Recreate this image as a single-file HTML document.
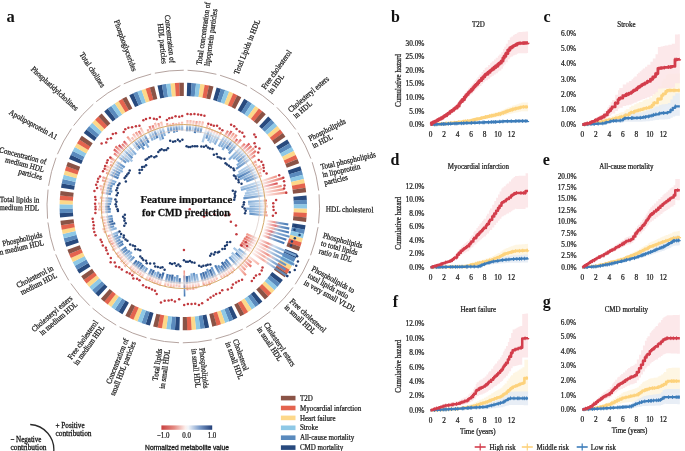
<!DOCTYPE html>
<html><head><meta charset="utf-8"><style>
html,body{margin:0;padding:0;background:#fff;}
svg{display:block;will-change:transform;}
.t{font-family:"Liberation Serif",serif;fill:#1c1c1c;stroke:#1c1c1c;stroke-width:0.25px;}
.b{font-family:"Liberation Serif",serif;fill:#111;}
</style></head><body>
<svg width="685" height="451" viewBox="0 0 685 451">
<defs><linearGradient id="ru0" x1="0" y1="1" x2="0" y2="0"><stop offset="0" stop-color="#f6b0a4" stop-opacity="0.05"/><stop offset="0.35" stop-color="#f6b0a4" stop-opacity="0.4"/><stop offset="1" stop-color="#f6b0a4"/></linearGradient><linearGradient id="rd0" x1="0" y1="0" x2="0" y2="1"><stop offset="0" stop-color="#f6b0a4" stop-opacity="0.05"/><stop offset="0.35" stop-color="#f6b0a4" stop-opacity="0.4"/><stop offset="1" stop-color="#f6b0a4"/></linearGradient><linearGradient id="rm0" x1="0" y1="1" x2="0" y2="0"><stop offset="0" stop-color="#f6b0a4" stop-opacity="0"/><stop offset="0.65" stop-color="#f6b0a4" stop-opacity="0.75"/><stop offset="1" stop-color="#f6b0a4" stop-opacity="0"/></linearGradient><linearGradient id="ru1" x1="0" y1="1" x2="0" y2="0"><stop offset="0" stop-color="#ef8f80" stop-opacity="0.05"/><stop offset="0.35" stop-color="#ef8f80" stop-opacity="0.4"/><stop offset="1" stop-color="#ef8f80"/></linearGradient><linearGradient id="rd1" x1="0" y1="0" x2="0" y2="1"><stop offset="0" stop-color="#ef8f80" stop-opacity="0.05"/><stop offset="0.35" stop-color="#ef8f80" stop-opacity="0.4"/><stop offset="1" stop-color="#ef8f80"/></linearGradient><linearGradient id="rm1" x1="0" y1="1" x2="0" y2="0"><stop offset="0" stop-color="#ef8f80" stop-opacity="0"/><stop offset="0.65" stop-color="#ef8f80" stop-opacity="0.75"/><stop offset="1" stop-color="#ef8f80" stop-opacity="0"/></linearGradient><linearGradient id="ru2" x1="0" y1="1" x2="0" y2="0"><stop offset="0" stop-color="#e56a5f" stop-opacity="0.05"/><stop offset="0.35" stop-color="#e56a5f" stop-opacity="0.4"/><stop offset="1" stop-color="#e56a5f"/></linearGradient><linearGradient id="rd2" x1="0" y1="0" x2="0" y2="1"><stop offset="0" stop-color="#e56a5f" stop-opacity="0.05"/><stop offset="0.35" stop-color="#e56a5f" stop-opacity="0.4"/><stop offset="1" stop-color="#e56a5f"/></linearGradient><linearGradient id="rm2" x1="0" y1="1" x2="0" y2="0"><stop offset="0" stop-color="#e56a5f" stop-opacity="0"/><stop offset="0.65" stop-color="#e56a5f" stop-opacity="0.75"/><stop offset="1" stop-color="#e56a5f" stop-opacity="0"/></linearGradient><linearGradient id="ru3" x1="0" y1="1" x2="0" y2="0"><stop offset="0" stop-color="#d9484b" stop-opacity="0.05"/><stop offset="0.35" stop-color="#d9484b" stop-opacity="0.4"/><stop offset="1" stop-color="#d9484b"/></linearGradient><linearGradient id="rd3" x1="0" y1="0" x2="0" y2="1"><stop offset="0" stop-color="#d9484b" stop-opacity="0.05"/><stop offset="0.35" stop-color="#d9484b" stop-opacity="0.4"/><stop offset="1" stop-color="#d9484b"/></linearGradient><linearGradient id="rm3" x1="0" y1="1" x2="0" y2="0"><stop offset="0" stop-color="#d9484b" stop-opacity="0"/><stop offset="0.65" stop-color="#d9484b" stop-opacity="0.75"/><stop offset="1" stop-color="#d9484b" stop-opacity="0"/></linearGradient><linearGradient id="ru4" x1="0" y1="1" x2="0" y2="0"><stop offset="0" stop-color="#c8313b" stop-opacity="0.05"/><stop offset="0.35" stop-color="#c8313b" stop-opacity="0.4"/><stop offset="1" stop-color="#c8313b"/></linearGradient><linearGradient id="rd4" x1="0" y1="0" x2="0" y2="1"><stop offset="0" stop-color="#c8313b" stop-opacity="0.05"/><stop offset="0.35" stop-color="#c8313b" stop-opacity="0.4"/><stop offset="1" stop-color="#c8313b"/></linearGradient><linearGradient id="rm4" x1="0" y1="1" x2="0" y2="0"><stop offset="0" stop-color="#c8313b" stop-opacity="0"/><stop offset="0.65" stop-color="#c8313b" stop-opacity="0.75"/><stop offset="1" stop-color="#c8313b" stop-opacity="0"/></linearGradient><linearGradient id="bu0" x1="0" y1="1" x2="0" y2="0"><stop offset="0" stop-color="#a3c3e3" stop-opacity="0.2"/><stop offset="0.35" stop-color="#a3c3e3" stop-opacity="0.72"/><stop offset="1" stop-color="#a3c3e3"/></linearGradient><linearGradient id="bd0" x1="0" y1="0" x2="0" y2="1"><stop offset="0" stop-color="#a3c3e3" stop-opacity="0.2"/><stop offset="0.35" stop-color="#a3c3e3" stop-opacity="0.72"/><stop offset="1" stop-color="#a3c3e3"/></linearGradient><linearGradient id="bm0" x1="0" y1="1" x2="0" y2="0"><stop offset="0" stop-color="#a3c3e3" stop-opacity="0"/><stop offset="0.65" stop-color="#a3c3e3" stop-opacity="0.75"/><stop offset="1" stop-color="#a3c3e3" stop-opacity="0"/></linearGradient><linearGradient id="bu1" x1="0" y1="1" x2="0" y2="0"><stop offset="0" stop-color="#7faad6" stop-opacity="0.2"/><stop offset="0.35" stop-color="#7faad6" stop-opacity="0.72"/><stop offset="1" stop-color="#7faad6"/></linearGradient><linearGradient id="bd1" x1="0" y1="0" x2="0" y2="1"><stop offset="0" stop-color="#7faad6" stop-opacity="0.2"/><stop offset="0.35" stop-color="#7faad6" stop-opacity="0.72"/><stop offset="1" stop-color="#7faad6"/></linearGradient><linearGradient id="bm1" x1="0" y1="1" x2="0" y2="0"><stop offset="0" stop-color="#7faad6" stop-opacity="0"/><stop offset="0.65" stop-color="#7faad6" stop-opacity="0.75"/><stop offset="1" stop-color="#7faad6" stop-opacity="0"/></linearGradient><linearGradient id="bu2" x1="0" y1="1" x2="0" y2="0"><stop offset="0" stop-color="#5d8ec4" stop-opacity="0.2"/><stop offset="0.35" stop-color="#5d8ec4" stop-opacity="0.72"/><stop offset="1" stop-color="#5d8ec4"/></linearGradient><linearGradient id="bd2" x1="0" y1="0" x2="0" y2="1"><stop offset="0" stop-color="#5d8ec4" stop-opacity="0.2"/><stop offset="0.35" stop-color="#5d8ec4" stop-opacity="0.72"/><stop offset="1" stop-color="#5d8ec4"/></linearGradient><linearGradient id="bm2" x1="0" y1="1" x2="0" y2="0"><stop offset="0" stop-color="#5d8ec4" stop-opacity="0"/><stop offset="0.65" stop-color="#5d8ec4" stop-opacity="0.75"/><stop offset="1" stop-color="#5d8ec4" stop-opacity="0"/></linearGradient><linearGradient id="bu3" x1="0" y1="1" x2="0" y2="0"><stop offset="0" stop-color="#4276b3" stop-opacity="0.2"/><stop offset="0.35" stop-color="#4276b3" stop-opacity="0.72"/><stop offset="1" stop-color="#4276b3"/></linearGradient><linearGradient id="bd3" x1="0" y1="0" x2="0" y2="1"><stop offset="0" stop-color="#4276b3" stop-opacity="0.2"/><stop offset="0.35" stop-color="#4276b3" stop-opacity="0.72"/><stop offset="1" stop-color="#4276b3"/></linearGradient><linearGradient id="bm3" x1="0" y1="1" x2="0" y2="0"><stop offset="0" stop-color="#4276b3" stop-opacity="0"/><stop offset="0.65" stop-color="#4276b3" stop-opacity="0.75"/><stop offset="1" stop-color="#4276b3" stop-opacity="0"/></linearGradient><linearGradient id="bu4" x1="0" y1="1" x2="0" y2="0"><stop offset="0" stop-color="#2a5c9c" stop-opacity="0.2"/><stop offset="0.35" stop-color="#2a5c9c" stop-opacity="0.72"/><stop offset="1" stop-color="#2a5c9c"/></linearGradient><linearGradient id="bd4" x1="0" y1="0" x2="0" y2="1"><stop offset="0" stop-color="#2a5c9c" stop-opacity="0.2"/><stop offset="0.35" stop-color="#2a5c9c" stop-opacity="0.72"/><stop offset="1" stop-color="#2a5c9c"/></linearGradient><linearGradient id="bm4" x1="0" y1="1" x2="0" y2="0"><stop offset="0" stop-color="#2a5c9c" stop-opacity="0"/><stop offset="0.65" stop-color="#2a5c9c" stop-opacity="0.75"/><stop offset="1" stop-color="#2a5c9c" stop-opacity="0"/></linearGradient><linearGradient id="cbar" x1="0" y1="0" x2="1" y2="0"><stop offset="0" stop-color="#c8403f"/><stop offset="0.25" stop-color="#e48a82"/><stop offset="0.47" stop-color="#fcefec"/><stop offset="0.53" stop-color="#f1f5fa"/><stop offset="0.75" stop-color="#7c9cca"/><stop offset="1" stop-color="#233f78"/></linearGradient></defs>
<rect width="685" height="451" fill="#fff"/>
<text class="b" transform="translate(6.60,21.60)" font-size="16.5" font-weight="bold">a</text>
<path d="M187.58,70.27 A136.3,136.3 0 0 1 216.38,74.28" fill="none" stroke="#ab9994" stroke-width="0.9"/>
<path d="M220.06,75.25 A136.3,136.3 0 0 1 247.06,86.03" fill="none" stroke="#ab9994" stroke-width="0.9"/>
<path d="M250.40,87.86 A136.3,136.3 0 0 1 274.04,104.79" fill="none" stroke="#ab9994" stroke-width="0.9"/>
<path d="M276.84,107.37 A136.3,136.3 0 0 1 295.74,129.46" fill="none" stroke="#ab9994" stroke-width="0.9"/>
<path d="M297.85,132.63 A136.3,136.3 0 0 1 310.91,158.61" fill="none" stroke="#ab9994" stroke-width="0.9"/>
<path d="M312.20,162.19 A136.3,136.3 0 0 1 318.66,190.54" fill="none" stroke="#ab9994" stroke-width="0.9"/>
<path d="M319.06,194.33 A136.3,136.3 0 0 1 318.55,223.40" fill="none" stroke="#ab9994" stroke-width="0.9"/>
<path d="M318.02,227.17 A136.3,136.3 0 0 1 310.57,255.28" fill="none" stroke="#ab9994" stroke-width="0.9"/>
<path d="M309.16,258.81 A136.3,136.3 0 0 1 295.20,284.32" fill="none" stroke="#ab9994" stroke-width="0.9"/>
<path d="M292.99,287.41 A136.3,136.3 0 0 1 273.33,308.84" fill="none" stroke="#ab9994" stroke-width="0.9"/>
<path d="M270.43,311.31 A136.3,136.3 0 0 1 246.22,327.41" fill="none" stroke="#ab9994" stroke-width="0.9"/>
<path d="M242.82,329.12 A136.3,136.3 0 0 1 215.46,338.95" fill="none" stroke="#ab9994" stroke-width="0.9"/>
<path d="M211.75,339.80 A136.3,136.3 0 0 1 182.82,342.80" fill="none" stroke="#ab9994" stroke-width="0.9"/>
<path d="M179.02,342.73 A136.3,136.3 0 0 1 150.22,338.72" fill="none" stroke="#ab9994" stroke-width="0.9"/>
<path d="M146.54,337.75 A136.3,136.3 0 0 1 119.54,326.97" fill="none" stroke="#ab9994" stroke-width="0.9"/>
<path d="M116.20,325.14 A136.3,136.3 0 0 1 92.56,308.21" fill="none" stroke="#ab9994" stroke-width="0.9"/>
<path d="M89.76,305.63 A136.3,136.3 0 0 1 70.86,283.54" fill="none" stroke="#ab9994" stroke-width="0.9"/>
<path d="M68.75,280.37 A136.3,136.3 0 0 1 55.69,254.39" fill="none" stroke="#ab9994" stroke-width="0.9"/>
<path d="M54.40,250.81 A136.3,136.3 0 0 1 47.94,222.46" fill="none" stroke="#ab9994" stroke-width="0.9"/>
<path d="M47.54,218.67 A136.3,136.3 0 0 1 48.05,189.60" fill="none" stroke="#ab9994" stroke-width="0.9"/>
<path d="M48.58,185.83 A136.3,136.3 0 0 1 56.03,157.72" fill="none" stroke="#ab9994" stroke-width="0.9"/>
<path d="M57.44,154.19 A136.3,136.3 0 0 1 71.40,128.68" fill="none" stroke="#ab9994" stroke-width="0.9"/>
<path d="M73.61,125.59 A136.3,136.3 0 0 1 93.27,104.16" fill="none" stroke="#ab9994" stroke-width="0.9"/>
<path d="M96.17,101.69 A136.3,136.3 0 0 1 120.38,85.59" fill="none" stroke="#ab9994" stroke-width="0.9"/>
<path d="M123.78,83.88 A136.3,136.3 0 0 1 151.14,74.05" fill="none" stroke="#ab9994" stroke-width="0.9"/>
<path d="M154.85,73.20 A136.3,136.3 0 0 1 183.78,70.20" fill="none" stroke="#ab9994" stroke-width="0.9"/>
<path d="M187.19,82.86 A123.7,123.7 0 0 1 191.72,83.09 L190.82,96.26 A110.5,110.5 0 0 0 186.77,96.05 Z" fill="#284a7e"/>
<path d="M191.59,83.08 A123.7,123.7 0 0 1 196.11,83.46 L194.74,96.59 A110.5,110.5 0 0 0 190.70,96.25 Z" fill="#5a8abd"/>
<path d="M195.98,83.45 A123.7,123.7 0 0 1 200.48,84.00 L198.65,97.07 A110.5,110.5 0 0 0 194.62,96.58 Z" fill="#8ec8e6"/>
<path d="M200.35,83.98 A123.7,123.7 0 0 1 204.83,84.69 L202.53,97.69 A110.5,110.5 0 0 0 198.53,97.05 Z" fill="#fdd88a"/>
<path d="M204.70,84.67 A123.7,123.7 0 0 1 209.16,85.53 L206.40,98.44 A110.5,110.5 0 0 0 202.42,97.67 Z" fill="#e4634e"/>
<path d="M209.03,85.51 A123.7,123.7 0 0 1 213.45,86.53 L210.23,99.33 A110.5,110.5 0 0 0 206.28,98.42 Z" fill="#8a5346"/>
<path d="M216.66,87.38 A123.7,123.7 0 0 1 221.01,88.69 L216.98,101.26 A110.5,110.5 0 0 0 213.10,100.09 Z" fill="#284a7e"/>
<path d="M220.88,88.65 A123.7,123.7 0 0 1 225.18,90.10 L220.71,102.52 A110.5,110.5 0 0 0 216.87,101.22 Z" fill="#5a8abd"/>
<path d="M225.06,90.06 A123.7,123.7 0 0 1 229.30,91.67 L224.39,103.92 A110.5,110.5 0 0 0 220.60,102.49 Z" fill="#8ec8e6"/>
<path d="M229.18,91.62 A123.7,123.7 0 0 1 233.36,93.38 L228.02,105.45 A110.5,110.5 0 0 0 224.28,103.88 Z" fill="#fdd88a"/>
<path d="M233.24,93.33 A123.7,123.7 0 0 1 237.35,95.24 L231.59,107.11 A110.5,110.5 0 0 0 227.91,105.40 Z" fill="#e4634e"/>
<path d="M237.24,95.18 A123.7,123.7 0 0 1 241.28,97.23 L235.10,108.89 A110.5,110.5 0 0 0 231.48,107.06 Z" fill="#8a5346"/>
<path d="M244.20,98.83 A123.7,123.7 0 0 1 248.10,101.13 L241.19,112.38 A110.5,110.5 0 0 0 237.70,110.32 Z" fill="#284a7e"/>
<path d="M247.99,101.07 A123.7,123.7 0 0 1 251.82,103.51 L244.50,114.50 A110.5,110.5 0 0 0 241.09,112.32 Z" fill="#5a8abd"/>
<path d="M251.71,103.44 A123.7,123.7 0 0 1 255.44,106.01 L247.74,116.74 A110.5,110.5 0 0 0 244.41,114.43 Z" fill="#8ec8e6"/>
<path d="M255.34,105.94 A123.7,123.7 0 0 1 258.97,108.65 L250.90,119.09 A110.5,110.5 0 0 0 247.65,116.67 Z" fill="#fdd88a"/>
<path d="M258.87,108.57 A123.7,123.7 0 0 1 262.41,111.40 L253.97,121.55 A110.5,110.5 0 0 0 250.81,119.02 Z" fill="#e4634e"/>
<path d="M262.31,111.32 A123.7,123.7 0 0 1 265.75,114.28 L256.95,124.12 A110.5,110.5 0 0 0 253.88,121.48 Z" fill="#8a5346"/>
<path d="M268.20,116.53 A123.7,123.7 0 0 1 271.44,119.70 L262.03,128.97 A110.5,110.5 0 0 0 259.14,126.13 Z" fill="#284a7e"/>
<path d="M271.35,119.61 A123.7,123.7 0 0 1 274.47,122.90 L264.74,131.82 A110.5,110.5 0 0 0 261.95,128.88 Z" fill="#5a8abd"/>
<path d="M274.39,122.80 A123.7,123.7 0 0 1 277.39,126.20 L267.35,134.77 A110.5,110.5 0 0 0 264.67,131.73 Z" fill="#8ec8e6"/>
<path d="M277.31,126.10 A123.7,123.7 0 0 1 280.19,129.60 L269.85,137.81 A110.5,110.5 0 0 0 267.28,134.68 Z" fill="#fdd88a"/>
<path d="M280.11,129.50 A123.7,123.7 0 0 1 282.87,133.10 L272.24,140.93 A110.5,110.5 0 0 0 269.78,137.72 Z" fill="#e4634e"/>
<path d="M282.79,133.00 A123.7,123.7 0 0 1 285.42,136.69 L274.52,144.14 A110.5,110.5 0 0 0 272.18,140.84 Z" fill="#8a5346"/>
<path d="M287.26,139.46 A123.7,123.7 0 0 1 289.65,143.32 L278.30,150.06 A110.5,110.5 0 0 0 276.17,146.62 Z" fill="#284a7e"/>
<path d="M289.58,143.21 A123.7,123.7 0 0 1 291.83,147.15 L280.25,153.48 A110.5,110.5 0 0 0 278.24,149.96 Z" fill="#5a8abd"/>
<path d="M291.77,147.03 A123.7,123.7 0 0 1 293.88,151.05 L282.08,156.97 A110.5,110.5 0 0 0 280.19,153.38 Z" fill="#8ec8e6"/>
<path d="M293.82,150.93 A123.7,123.7 0 0 1 295.78,155.02 L283.78,160.52 A110.5,110.5 0 0 0 282.02,156.86 Z" fill="#fdd88a"/>
<path d="M295.73,154.91 A123.7,123.7 0 0 1 297.54,159.06 L285.35,164.12 A110.5,110.5 0 0 0 283.73,160.41 Z" fill="#e4634e"/>
<path d="M297.49,158.94 A123.7,123.7 0 0 1 299.16,163.16 L286.80,167.79 A110.5,110.5 0 0 0 285.31,164.02 Z" fill="#8a5346"/>
<path d="M300.28,166.29 A123.7,123.7 0 0 1 301.68,170.61 L289.05,174.44 A110.5,110.5 0 0 0 287.80,170.58 Z" fill="#284a7e"/>
<path d="M301.64,170.48 A123.7,123.7 0 0 1 302.88,174.84 L290.12,178.22 A110.5,110.5 0 0 0 289.01,174.33 Z" fill="#5a8abd"/>
<path d="M302.85,174.72 A123.7,123.7 0 0 1 303.93,179.12 L291.06,182.04 A110.5,110.5 0 0 0 290.09,178.11 Z" fill="#8ec8e6"/>
<path d="M303.90,179.00 A123.7,123.7 0 0 1 304.83,183.44 L291.86,185.90 A110.5,110.5 0 0 0 291.03,181.93 Z" fill="#fdd88a"/>
<path d="M304.81,183.31 A123.7,123.7 0 0 1 305.58,187.78 L292.53,189.78 A110.5,110.5 0 0 0 291.84,185.78 Z" fill="#e4634e"/>
<path d="M305.56,187.65 A123.7,123.7 0 0 1 306.16,192.15 L293.05,193.68 A110.5,110.5 0 0 0 292.51,189.66 Z" fill="#8a5346"/>
<path d="M306.51,195.45 A123.7,123.7 0 0 1 306.83,199.98 L293.65,200.67 A110.5,110.5 0 0 0 293.36,196.63 Z" fill="#284a7e"/>
<path d="M306.82,199.85 A123.7,123.7 0 0 1 306.98,204.38 L293.78,204.61 A110.5,110.5 0 0 0 293.64,200.56 Z" fill="#5a8abd"/>
<path d="M306.98,204.25 A123.7,123.7 0 0 1 306.98,208.79 L293.78,208.54 A110.5,110.5 0 0 0 293.78,204.49 Z" fill="#8ec8e6"/>
<path d="M306.98,208.66 A123.7,123.7 0 0 1 306.82,213.19 L293.64,212.48 A110.5,110.5 0 0 0 293.78,208.43 Z" fill="#fdd88a"/>
<path d="M306.83,213.06 A123.7,123.7 0 0 1 306.50,217.59 L293.36,216.40 A110.5,110.5 0 0 0 293.64,212.36 Z" fill="#e4634e"/>
<path d="M306.51,217.46 A123.7,123.7 0 0 1 306.03,221.97 L292.93,220.32 A110.5,110.5 0 0 0 293.37,216.29 Z" fill="#8a5346"/>
<path d="M305.57,225.26 A123.7,123.7 0 0 1 304.80,229.73 L291.83,227.25 A110.5,110.5 0 0 0 292.52,223.26 Z" fill="#284a7e"/>
<path d="M304.82,229.60 A123.7,123.7 0 0 1 303.89,234.04 L291.03,231.10 A110.5,110.5 0 0 0 291.86,227.14 Z" fill="#5a8abd"/>
<path d="M303.92,233.92 A123.7,123.7 0 0 1 302.84,238.32 L290.08,234.92 A110.5,110.5 0 0 0 291.05,230.99 Z" fill="#8ec8e6"/>
<path d="M302.87,238.19 A123.7,123.7 0 0 1 301.63,242.56 L289.00,238.71 A110.5,110.5 0 0 0 290.11,234.81 Z" fill="#fdd88a"/>
<path d="M301.67,242.43 A123.7,123.7 0 0 1 300.27,246.75 L287.79,242.45 A110.5,110.5 0 0 0 289.04,238.60 Z" fill="#e4634e"/>
<path d="M300.31,246.63 A123.7,123.7 0 0 1 298.76,250.89 L286.44,246.15 A110.5,110.5 0 0 0 287.82,242.34 Z" fill="#8a5346"/>
<path d="M297.53,253.98 A123.7,123.7 0 0 1 295.71,258.13 L283.71,252.62 A110.5,110.5 0 0 0 285.34,248.91 Z" fill="#284a7e"/>
<path d="M295.76,258.01 A123.7,123.7 0 0 1 293.80,262.10 L282.01,256.17 A110.5,110.5 0 0 0 283.76,252.52 Z" fill="#5a8abd"/>
<path d="M293.86,261.99 A123.7,123.7 0 0 1 291.75,266.00 L280.18,259.65 A110.5,110.5 0 0 0 282.06,256.07 Z" fill="#8ec8e6"/>
<path d="M291.81,265.89 A123.7,123.7 0 0 1 289.56,269.83 L278.22,263.07 A110.5,110.5 0 0 0 280.23,259.55 Z" fill="#fdd88a"/>
<path d="M289.63,269.72 A123.7,123.7 0 0 1 287.24,273.57 L276.15,266.41 A110.5,110.5 0 0 0 278.28,262.97 Z" fill="#e4634e"/>
<path d="M287.31,273.46 A123.7,123.7 0 0 1 284.78,277.23 L273.95,269.68 A110.5,110.5 0 0 0 276.21,266.32 Z" fill="#8a5346"/>
<path d="M282.85,279.93 A123.7,123.7 0 0 1 280.09,283.53 L269.76,275.31 A110.5,110.5 0 0 0 272.22,272.10 Z" fill="#284a7e"/>
<path d="M280.17,283.43 A123.7,123.7 0 0 1 277.28,286.93 L267.25,278.35 A110.5,110.5 0 0 0 269.83,275.22 Z" fill="#5a8abd"/>
<path d="M277.37,286.83 A123.7,123.7 0 0 1 274.36,290.23 L264.64,281.29 A110.5,110.5 0 0 0 267.33,278.26 Z" fill="#8ec8e6"/>
<path d="M274.45,290.13 A123.7,123.7 0 0 1 271.32,293.42 L261.93,284.14 A110.5,110.5 0 0 0 264.72,281.21 Z" fill="#fdd88a"/>
<path d="M271.41,293.32 A123.7,123.7 0 0 1 268.17,296.50 L259.11,286.89 A110.5,110.5 0 0 0 262.01,284.06 Z" fill="#e4634e"/>
<path d="M268.26,296.41 A123.7,123.7 0 0 1 264.91,299.46 L256.20,289.54 A110.5,110.5 0 0 0 259.19,286.81 Z" fill="#8a5346"/>
<path d="M262.38,301.62 A123.7,123.7 0 0 1 258.84,304.46 L250.78,294.00 A110.5,110.5 0 0 0 253.94,291.47 Z" fill="#284a7e"/>
<path d="M258.94,304.38 A123.7,123.7 0 0 1 255.30,307.09 L247.62,296.35 A110.5,110.5 0 0 0 250.87,293.93 Z" fill="#5a8abd"/>
<path d="M255.41,307.01 A123.7,123.7 0 0 1 251.67,309.59 L244.38,298.59 A110.5,110.5 0 0 0 247.71,296.28 Z" fill="#8ec8e6"/>
<path d="M251.78,309.51 A123.7,123.7 0 0 1 247.96,311.96 L241.06,300.70 A110.5,110.5 0 0 0 244.47,298.52 Z" fill="#fdd88a"/>
<path d="M248.07,311.89 A123.7,123.7 0 0 1 244.16,314.19 L237.67,302.70 A110.5,110.5 0 0 0 241.16,300.64 Z" fill="#e4634e"/>
<path d="M244.28,314.13 A123.7,123.7 0 0 1 240.29,316.29 L234.21,304.57 A110.5,110.5 0 0 0 237.77,302.64 Z" fill="#8a5346"/>
<path d="M237.32,317.78 A123.7,123.7 0 0 1 233.20,319.69 L227.88,307.61 A110.5,110.5 0 0 0 231.55,305.91 Z" fill="#284a7e"/>
<path d="M233.32,319.64 A123.7,123.7 0 0 1 229.14,321.39 L224.25,309.13 A110.5,110.5 0 0 0 227.98,307.56 Z" fill="#5a8abd"/>
<path d="M229.26,321.35 A123.7,123.7 0 0 1 225.02,322.95 L220.57,310.53 A110.5,110.5 0 0 0 224.35,309.09 Z" fill="#8ec8e6"/>
<path d="M225.14,322.91 A123.7,123.7 0 0 1 220.84,324.37 L216.84,311.79 A110.5,110.5 0 0 0 220.67,310.49 Z" fill="#fdd88a"/>
<path d="M220.97,324.33 A123.7,123.7 0 0 1 216.62,325.63 L213.07,312.92 A110.5,110.5 0 0 0 216.95,311.75 Z" fill="#e4634e"/>
<path d="M216.75,325.59 A123.7,123.7 0 0 1 212.36,326.74 L209.26,313.91 A110.5,110.5 0 0 0 213.18,312.88 Z" fill="#8a5346"/>
<path d="M209.12,327.48 A123.7,123.7 0 0 1 204.66,328.34 L202.38,315.34 A110.5,110.5 0 0 0 206.36,314.57 Z" fill="#284a7e"/>
<path d="M204.79,328.32 A123.7,123.7 0 0 1 200.31,329.02 L198.50,315.95 A110.5,110.5 0 0 0 202.50,315.32 Z" fill="#5a8abd"/>
<path d="M200.44,329.01 A123.7,123.7 0 0 1 195.94,329.55 L194.59,316.42 A110.5,110.5 0 0 0 198.61,315.93 Z" fill="#8ec8e6"/>
<path d="M196.06,329.54 A123.7,123.7 0 0 1 191.55,329.92 L190.67,316.75 A110.5,110.5 0 0 0 194.70,316.41 Z" fill="#fdd88a"/>
<path d="M191.67,329.92 A123.7,123.7 0 0 1 187.14,330.14 L186.73,316.95 A110.5,110.5 0 0 0 190.78,316.75 Z" fill="#e4634e"/>
<path d="M187.27,330.14 A123.7,123.7 0 0 1 182.74,330.20 L182.80,317.00 A110.5,110.5 0 0 0 186.85,316.94 Z" fill="#8a5346"/>
<path d="M179.41,330.14 A123.7,123.7 0 0 1 174.88,329.91 L175.78,316.74 A110.5,110.5 0 0 0 179.83,316.95 Z" fill="#284a7e"/>
<path d="M175.01,329.92 A123.7,123.7 0 0 1 170.49,329.54 L171.86,316.41 A110.5,110.5 0 0 0 175.90,316.75 Z" fill="#5a8abd"/>
<path d="M170.62,329.55 A123.7,123.7 0 0 1 166.12,329.00 L167.95,315.93 A110.5,110.5 0 0 0 171.98,316.42 Z" fill="#8ec8e6"/>
<path d="M166.25,329.02 A123.7,123.7 0 0 1 161.77,328.31 L164.07,315.31 A110.5,110.5 0 0 0 168.07,315.95 Z" fill="#fdd88a"/>
<path d="M161.90,328.33 A123.7,123.7 0 0 1 157.44,327.47 L160.20,314.56 A110.5,110.5 0 0 0 164.18,315.33 Z" fill="#e4634e"/>
<path d="M157.57,327.49 A123.7,123.7 0 0 1 153.15,326.47 L156.37,313.67 A110.5,110.5 0 0 0 160.32,314.58 Z" fill="#8a5346"/>
<path d="M149.94,325.62 A123.7,123.7 0 0 1 145.59,324.31 L149.62,311.74 A110.5,110.5 0 0 0 153.50,312.91 Z" fill="#284a7e"/>
<path d="M145.72,324.35 A123.7,123.7 0 0 1 141.42,322.90 L145.89,310.48 A110.5,110.5 0 0 0 149.73,311.78 Z" fill="#5a8abd"/>
<path d="M141.54,322.94 A123.7,123.7 0 0 1 137.30,321.33 L142.21,309.08 A110.5,110.5 0 0 0 146.00,310.51 Z" fill="#8ec8e6"/>
<path d="M137.42,321.38 A123.7,123.7 0 0 1 133.24,319.62 L138.58,307.55 A110.5,110.5 0 0 0 142.32,309.12 Z" fill="#fdd88a"/>
<path d="M133.36,319.67 A123.7,123.7 0 0 1 129.25,317.76 L135.01,305.89 A110.5,110.5 0 0 0 138.69,307.60 Z" fill="#e4634e"/>
<path d="M129.36,317.82 A123.7,123.7 0 0 1 125.32,315.77 L131.50,304.11 A110.5,110.5 0 0 0 135.12,305.94 Z" fill="#8a5346"/>
<path d="M122.40,314.17 A123.7,123.7 0 0 1 118.50,311.87 L125.41,300.62 A110.5,110.5 0 0 0 128.90,302.68 Z" fill="#284a7e"/>
<path d="M118.61,311.93 A123.7,123.7 0 0 1 114.78,309.49 L122.10,298.50 A110.5,110.5 0 0 0 125.51,300.68 Z" fill="#5a8abd"/>
<path d="M114.89,309.56 A123.7,123.7 0 0 1 111.16,306.99 L118.86,296.26 A110.5,110.5 0 0 0 122.19,298.57 Z" fill="#8ec8e6"/>
<path d="M111.26,307.06 A123.7,123.7 0 0 1 107.63,304.35 L115.70,293.91 A110.5,110.5 0 0 0 118.95,296.33 Z" fill="#fdd88a"/>
<path d="M107.73,304.43 A123.7,123.7 0 0 1 104.19,301.60 L112.63,291.45 A110.5,110.5 0 0 0 115.79,293.98 Z" fill="#e4634e"/>
<path d="M104.29,301.68 A123.7,123.7 0 0 1 100.85,298.72 L109.65,288.88 A110.5,110.5 0 0 0 112.72,291.52 Z" fill="#8a5346"/>
<path d="M98.40,296.47 A123.7,123.7 0 0 1 95.16,293.30 L104.57,284.03 A110.5,110.5 0 0 0 107.46,286.87 Z" fill="#284a7e"/>
<path d="M95.25,293.39 A123.7,123.7 0 0 1 92.13,290.10 L101.86,281.18 A110.5,110.5 0 0 0 104.65,284.12 Z" fill="#5a8abd"/>
<path d="M92.21,290.20 A123.7,123.7 0 0 1 89.21,286.80 L99.25,278.23 A110.5,110.5 0 0 0 101.93,281.27 Z" fill="#8ec8e6"/>
<path d="M89.29,286.90 A123.7,123.7 0 0 1 86.41,283.40 L96.75,275.19 A110.5,110.5 0 0 0 99.32,278.32 Z" fill="#fdd88a"/>
<path d="M86.49,283.50 A123.7,123.7 0 0 1 83.73,279.90 L94.36,272.07 A110.5,110.5 0 0 0 96.82,275.28 Z" fill="#e4634e"/>
<path d="M83.81,280.00 A123.7,123.7 0 0 1 81.18,276.31 L92.08,268.86 A110.5,110.5 0 0 0 94.42,272.16 Z" fill="#8a5346"/>
<path d="M79.34,273.54 A123.7,123.7 0 0 1 76.95,269.68 L88.30,262.94 A110.5,110.5 0 0 0 90.43,266.38 Z" fill="#284a7e"/>
<path d="M77.02,269.79 A123.7,123.7 0 0 1 74.77,265.85 L86.35,259.52 A110.5,110.5 0 0 0 88.36,263.04 Z" fill="#5a8abd"/>
<path d="M74.83,265.97 A123.7,123.7 0 0 1 72.72,261.95 L84.52,256.03 A110.5,110.5 0 0 0 86.41,259.62 Z" fill="#8ec8e6"/>
<path d="M72.78,262.07 A123.7,123.7 0 0 1 70.82,257.98 L82.82,252.48 A110.5,110.5 0 0 0 84.58,256.14 Z" fill="#fdd88a"/>
<path d="M70.87,258.09 A123.7,123.7 0 0 1 69.06,253.94 L81.25,248.88 A110.5,110.5 0 0 0 82.87,252.59 Z" fill="#e4634e"/>
<path d="M69.11,254.06 A123.7,123.7 0 0 1 67.44,249.84 L79.80,245.21 A110.5,110.5 0 0 0 81.29,248.98 Z" fill="#8a5346"/>
<path d="M66.32,246.71 A123.7,123.7 0 0 1 64.92,242.39 L77.55,238.56 A110.5,110.5 0 0 0 78.80,242.42 Z" fill="#284a7e"/>
<path d="M64.96,242.52 A123.7,123.7 0 0 1 63.72,238.16 L76.48,234.78 A110.5,110.5 0 0 0 77.59,238.67 Z" fill="#5a8abd"/>
<path d="M63.75,238.28 A123.7,123.7 0 0 1 62.67,233.88 L75.54,230.96 A110.5,110.5 0 0 0 76.51,234.89 Z" fill="#8ec8e6"/>
<path d="M62.70,234.00 A123.7,123.7 0 0 1 61.77,229.56 L74.74,227.10 A110.5,110.5 0 0 0 75.57,231.07 Z" fill="#fdd88a"/>
<path d="M61.79,229.69 A123.7,123.7 0 0 1 61.02,225.22 L74.07,223.22 A110.5,110.5 0 0 0 74.76,227.22 Z" fill="#e4634e"/>
<path d="M61.04,225.35 A123.7,123.7 0 0 1 60.44,220.85 L73.55,219.32 A110.5,110.5 0 0 0 74.09,223.34 Z" fill="#8a5346"/>
<path d="M60.09,217.55 A123.7,123.7 0 0 1 59.77,213.02 L72.95,212.33 A110.5,110.5 0 0 0 73.24,216.37 Z" fill="#284a7e"/>
<path d="M59.78,213.15 A123.7,123.7 0 0 1 59.62,208.62 L72.82,208.39 A110.5,110.5 0 0 0 72.96,212.44 Z" fill="#5a8abd"/>
<path d="M59.62,208.75 A123.7,123.7 0 0 1 59.62,204.21 L72.82,204.46 A110.5,110.5 0 0 0 72.82,208.51 Z" fill="#8ec8e6"/>
<path d="M59.62,204.34 A123.7,123.7 0 0 1 59.78,199.81 L72.96,200.52 A110.5,110.5 0 0 0 72.82,204.57 Z" fill="#fdd88a"/>
<path d="M59.77,199.94 A123.7,123.7 0 0 1 60.10,195.41 L73.24,196.60 A110.5,110.5 0 0 0 72.96,200.64 Z" fill="#e4634e"/>
<path d="M60.09,195.54 A123.7,123.7 0 0 1 60.57,191.03 L73.67,192.68 A110.5,110.5 0 0 0 73.23,196.71 Z" fill="#8a5346"/>
<path d="M61.03,187.74 A123.7,123.7 0 0 1 61.80,183.27 L74.77,185.75 A110.5,110.5 0 0 0 74.08,189.74 Z" fill="#284a7e"/>
<path d="M61.78,183.40 A123.7,123.7 0 0 1 62.71,178.96 L75.57,181.90 A110.5,110.5 0 0 0 74.74,185.86 Z" fill="#5a8abd"/>
<path d="M62.68,179.08 A123.7,123.7 0 0 1 63.76,174.68 L76.52,178.08 A110.5,110.5 0 0 0 75.55,182.01 Z" fill="#8ec8e6"/>
<path d="M63.73,174.81 A123.7,123.7 0 0 1 64.97,170.44 L77.60,174.29 A110.5,110.5 0 0 0 76.49,178.19 Z" fill="#fdd88a"/>
<path d="M64.93,170.57 A123.7,123.7 0 0 1 66.33,166.25 L78.81,170.55 A110.5,110.5 0 0 0 77.56,174.40 Z" fill="#e4634e"/>
<path d="M66.29,166.37 A123.7,123.7 0 0 1 67.84,162.11 L80.16,166.85 A110.5,110.5 0 0 0 78.78,170.66 Z" fill="#8a5346"/>
<path d="M69.07,159.02 A123.7,123.7 0 0 1 70.89,154.87 L82.89,160.38 A110.5,110.5 0 0 0 81.26,164.09 Z" fill="#284a7e"/>
<path d="M70.84,154.99 A123.7,123.7 0 0 1 72.80,150.90 L84.59,156.83 A110.5,110.5 0 0 0 82.84,160.48 Z" fill="#5a8abd"/>
<path d="M72.74,151.01 A123.7,123.7 0 0 1 74.85,147.00 L86.42,153.35 A110.5,110.5 0 0 0 84.54,156.93 Z" fill="#8ec8e6"/>
<path d="M74.79,147.11 A123.7,123.7 0 0 1 77.04,143.17 L88.38,149.93 A110.5,110.5 0 0 0 86.37,153.45 Z" fill="#fdd88a"/>
<path d="M76.97,143.28 A123.7,123.7 0 0 1 79.36,139.43 L90.45,146.59 A110.5,110.5 0 0 0 88.32,150.03 Z" fill="#e4634e"/>
<path d="M79.29,139.54 A123.7,123.7 0 0 1 81.82,135.77 L92.65,143.32 A110.5,110.5 0 0 0 90.39,146.68 Z" fill="#8a5346"/>
<path d="M83.75,133.07 A123.7,123.7 0 0 1 86.51,129.47 L96.84,137.69 A110.5,110.5 0 0 0 94.38,140.90 Z" fill="#284a7e"/>
<path d="M86.43,129.57 A123.7,123.7 0 0 1 89.32,126.07 L99.35,134.65 A110.5,110.5 0 0 0 96.77,137.78 Z" fill="#5a8abd"/>
<path d="M89.23,126.17 A123.7,123.7 0 0 1 92.24,122.77 L101.96,131.71 A110.5,110.5 0 0 0 99.27,134.74 Z" fill="#8ec8e6"/>
<path d="M92.15,122.87 A123.7,123.7 0 0 1 95.28,119.58 L104.67,128.86 A110.5,110.5 0 0 0 101.88,131.79 Z" fill="#fdd88a"/>
<path d="M95.19,119.68 A123.7,123.7 0 0 1 98.43,116.50 L107.49,126.11 A110.5,110.5 0 0 0 104.59,128.94 Z" fill="#e4634e"/>
<path d="M98.34,116.59 A123.7,123.7 0 0 1 101.69,113.54 L110.40,123.46 A110.5,110.5 0 0 0 107.41,126.19 Z" fill="#8a5346"/>
<path d="M104.22,111.38 A123.7,123.7 0 0 1 107.76,108.54 L115.82,119.00 A110.5,110.5 0 0 0 112.66,121.53 Z" fill="#284a7e"/>
<path d="M107.66,108.62 A123.7,123.7 0 0 1 111.30,105.91 L118.98,116.65 A110.5,110.5 0 0 0 115.73,119.07 Z" fill="#5a8abd"/>
<path d="M111.19,105.99 A123.7,123.7 0 0 1 114.93,103.41 L122.22,114.41 A110.5,110.5 0 0 0 118.89,116.72 Z" fill="#8ec8e6"/>
<path d="M114.82,103.49 A123.7,123.7 0 0 1 118.64,101.04 L125.54,112.30 A110.5,110.5 0 0 0 122.13,114.48 Z" fill="#fdd88a"/>
<path d="M118.53,101.11 A123.7,123.7 0 0 1 122.44,98.81 L128.93,110.30 A110.5,110.5 0 0 0 125.44,112.36 Z" fill="#e4634e"/>
<path d="M122.32,98.87 A123.7,123.7 0 0 1 126.31,96.71 L132.39,108.43 A110.5,110.5 0 0 0 128.83,110.36 Z" fill="#8a5346"/>
<path d="M129.28,95.22 A123.7,123.7 0 0 1 133.40,93.31 L138.72,105.39 A110.5,110.5 0 0 0 135.05,107.09 Z" fill="#284a7e"/>
<path d="M133.28,93.36 A123.7,123.7 0 0 1 137.46,91.61 L142.35,103.87 A110.5,110.5 0 0 0 138.62,105.44 Z" fill="#5a8abd"/>
<path d="M137.34,91.65 A123.7,123.7 0 0 1 141.58,90.05 L146.03,102.47 A110.5,110.5 0 0 0 142.25,103.91 Z" fill="#8ec8e6"/>
<path d="M141.46,90.09 A123.7,123.7 0 0 1 145.76,88.63 L149.76,101.21 A110.5,110.5 0 0 0 145.93,102.51 Z" fill="#fdd88a"/>
<path d="M145.63,88.67 A123.7,123.7 0 0 1 149.98,87.37 L153.53,100.08 A110.5,110.5 0 0 0 149.65,101.25 Z" fill="#e4634e"/>
<path d="M149.85,87.41 A123.7,123.7 0 0 1 154.24,86.26 L157.34,99.09 A110.5,110.5 0 0 0 153.42,100.12 Z" fill="#8a5346"/>
<path d="M157.48,85.52 A123.7,123.7 0 0 1 161.94,84.66 L164.22,97.66 A110.5,110.5 0 0 0 160.24,98.43 Z" fill="#284a7e"/>
<path d="M161.81,84.68 A123.7,123.7 0 0 1 166.29,83.98 L168.10,97.05 A110.5,110.5 0 0 0 164.10,97.68 Z" fill="#5a8abd"/>
<path d="M166.16,83.99 A123.7,123.7 0 0 1 170.66,83.45 L172.01,96.58 A110.5,110.5 0 0 0 167.99,97.07 Z" fill="#8ec8e6"/>
<path d="M170.54,83.46 A123.7,123.7 0 0 1 175.05,83.08 L175.93,96.25 A110.5,110.5 0 0 0 171.90,96.59 Z" fill="#fdd88a"/>
<path d="M174.93,83.08 A123.7,123.7 0 0 1 179.46,82.86 L179.87,96.05 A110.5,110.5 0 0 0 175.82,96.25 Z" fill="#e4634e"/>
<path d="M179.33,82.86 A123.7,123.7 0 0 1 183.86,82.80 L183.80,96.00 A110.5,110.5 0 0 0 179.75,96.06 Z" fill="#8a5346"/>
<g transform="translate(183.3,206.5)"><rect x="-1.10" y="-86.5" width="2.2" height="6.0" fill="url(#ru0)" transform="rotate(2.82)"/><rect x="-1.10" y="-81.5" width="2.2" height="6.1" fill="url(#bd2)" transform="rotate(2.82)"/><rect x="-1.10" y="-86.7" width="2.2" height="6.2" fill="url(#ru0)" transform="rotate(4.86)"/><rect x="-1.10" y="-81.5" width="2.2" height="6.0" fill="url(#bd2)" transform="rotate(4.86)"/><rect x="-1.10" y="-86.6" width="2.2" height="6.1" fill="url(#ru0)" transform="rotate(6.90)"/><rect x="-1.10" y="-81.5" width="2.2" height="5.9" fill="url(#bd0)" transform="rotate(6.90)"/><rect x="-1.10" y="-86.5" width="2.2" height="6.0" fill="url(#ru1)" transform="rotate(8.94)"/><rect x="-1.10" y="-81.5" width="2.2" height="7.2" fill="url(#bd3)" transform="rotate(8.94)"/><rect x="-1.10" y="-87.1" width="2.2" height="6.6" fill="url(#ru0)" transform="rotate(10.98)"/><rect x="-1.10" y="-81.5" width="2.2" height="6.0" fill="url(#bd2)" transform="rotate(10.98)"/><rect x="-1.10" y="-87.2" width="2.2" height="6.7" fill="url(#ru0)" transform="rotate(13.03)"/><rect x="-1.10" y="-81.5" width="2.2" height="5.9" fill="url(#bd2)" transform="rotate(13.03)"/><rect x="-1.10" y="-84.8" width="2.2" height="6.3" fill="url(#ru0)" transform="rotate(16.67)"/><rect x="-1.10" y="-79.5" width="2.2" height="12.4" fill="url(#bd0)" transform="rotate(16.67)"/><rect x="-1.10" y="-83.6" width="2.2" height="5.1" fill="url(#ru0)" transform="rotate(18.71)"/><rect x="-1.10" y="-79.5" width="2.2" height="7.8" fill="url(#bd2)" transform="rotate(18.71)"/><rect x="-1.10" y="-82.4" width="2.2" height="3.9" fill="url(#ru0)" transform="rotate(20.75)"/><rect x="-1.10" y="-79.5" width="2.2" height="9.5" fill="url(#bd1)" transform="rotate(20.75)"/><rect x="-1.10" y="-82.4" width="2.2" height="3.9" fill="url(#ru0)" transform="rotate(22.79)"/><rect x="-1.10" y="-79.5" width="2.2" height="10.8" fill="url(#bd0)" transform="rotate(22.79)"/><rect x="-1.10" y="-82.6" width="2.2" height="4.1" fill="url(#ru0)" transform="rotate(24.83)"/><rect x="-1.10" y="-79.5" width="2.2" height="9.1" fill="url(#bd0)" transform="rotate(24.83)"/><rect x="-1.10" y="-83.6" width="2.2" height="5.1" fill="url(#ru1)" transform="rotate(26.87)"/><rect x="-1.10" y="-79.5" width="2.2" height="10.1" fill="url(#bd1)" transform="rotate(26.87)"/><rect x="-1.10" y="-88.0" width="2.2" height="7.5" fill="url(#ru2)" transform="rotate(30.51)"/><rect x="-1.10" y="-81.5" width="2.2" height="11.7" fill="url(#bd1)" transform="rotate(30.51)"/><rect x="-1.10" y="-89.6" width="2.2" height="9.1" fill="url(#ru3)" transform="rotate(32.55)"/><rect x="-1.10" y="-81.5" width="2.2" height="11.1" fill="url(#bd1)" transform="rotate(32.55)"/><rect x="-1.10" y="-89.2" width="2.2" height="8.7" fill="url(#ru1)" transform="rotate(34.59)"/><rect x="-1.10" y="-81.5" width="2.2" height="12.6" fill="url(#bd1)" transform="rotate(34.59)"/><rect x="-1.10" y="-89.4" width="2.2" height="8.9" fill="url(#ru1)" transform="rotate(36.64)"/><rect x="-1.10" y="-81.5" width="2.2" height="9.4" fill="url(#bd3)" transform="rotate(36.64)"/><rect x="-1.10" y="-86.3" width="2.2" height="5.8" fill="url(#ru3)" transform="rotate(38.68)"/><rect x="-1.10" y="-81.5" width="2.2" height="9.8" fill="url(#bd1)" transform="rotate(38.68)"/><rect x="-1.10" y="-88.4" width="2.2" height="7.9" fill="url(#ru2)" transform="rotate(40.72)"/><rect x="-1.10" y="-81.5" width="2.2" height="11.6" fill="url(#bd2)" transform="rotate(40.72)"/><rect x="-1.10" y="-87.9" width="2.2" height="7.4" fill="url(#ru2)" transform="rotate(44.36)"/><rect x="-1.10" y="-81.5" width="2.2" height="16.2" fill="url(#bd1)" transform="rotate(44.36)"/><rect x="-1.10" y="-91.4" width="2.2" height="10.9" fill="url(#ru3)" transform="rotate(46.40)"/><rect x="-1.10" y="-81.5" width="2.2" height="12.6" fill="url(#bd1)" transform="rotate(46.40)"/><rect x="-1.10" y="-91.0" width="2.2" height="10.5" fill="url(#ru2)" transform="rotate(48.44)"/><rect x="-1.10" y="-81.5" width="2.2" height="11.1" fill="url(#bd1)" transform="rotate(48.44)"/><rect x="-1.10" y="-91.7" width="2.2" height="11.2" fill="url(#ru1)" transform="rotate(50.48)"/><rect x="-1.10" y="-81.5" width="2.2" height="10.9" fill="url(#bd2)" transform="rotate(50.48)"/><rect x="-1.10" y="-91.3" width="2.2" height="10.8" fill="url(#ru2)" transform="rotate(52.52)"/><rect x="-1.10" y="-81.5" width="2.2" height="14.0" fill="url(#bd1)" transform="rotate(52.52)"/><rect x="-1.10" y="-88.2" width="2.2" height="7.7" fill="url(#ru2)" transform="rotate(54.56)"/><rect x="-1.10" y="-81.5" width="2.2" height="16.7" fill="url(#bd2)" transform="rotate(54.56)"/><rect x="-1.10" y="-85.8" width="2.2" height="6.3" fill="url(#ru1)" transform="rotate(58.21)"/><rect x="-1.10" y="-80.5" width="2.2" height="15.7" fill="url(#bd0)" transform="rotate(58.21)"/><rect x="-1.10" y="-84.9" width="2.2" height="5.4" fill="url(#ru0)" transform="rotate(60.25)"/><rect x="-1.10" y="-80.5" width="2.2" height="18.9" fill="url(#bd1)" transform="rotate(60.25)"/><rect x="-1.10" y="-87.3" width="2.2" height="7.8" fill="url(#ru1)" transform="rotate(62.29)"/><rect x="-1.10" y="-80.5" width="2.2" height="18.7" fill="url(#bd3)" transform="rotate(62.29)"/><rect x="-1.10" y="-87.2" width="2.2" height="7.7" fill="url(#ru0)" transform="rotate(64.33)"/><rect x="-1.10" y="-80.5" width="2.2" height="17.6" fill="url(#bd1)" transform="rotate(64.33)"/><rect x="-1.10" y="-84.9" width="2.2" height="5.4" fill="url(#ru0)" transform="rotate(66.37)"/><rect x="-1.10" y="-80.5" width="2.2" height="14.5" fill="url(#bd2)" transform="rotate(66.37)"/><rect x="-1.10" y="-84.4" width="2.2" height="4.9" fill="url(#ru0)" transform="rotate(68.41)"/><rect x="-1.10" y="-80.5" width="2.2" height="12.8" fill="url(#bd2)" transform="rotate(68.41)"/><rect x="-1.10" y="-98.3" width="2.2" height="17.8" fill="url(#ru1)" transform="rotate(72.05)"/><rect x="-1.10" y="-81.5" width="2.2" height="21.3" fill="url(#bd0)" transform="rotate(72.05)"/><rect x="-1.10" y="-103.3" width="2.2" height="22.8" fill="url(#ru2)" transform="rotate(74.09)"/><rect x="-1.10" y="-81.5" width="2.2" height="21.5" fill="url(#bd1)" transform="rotate(74.09)"/><rect x="-1.10" y="-97.2" width="2.2" height="16.7" fill="url(#ru3)" transform="rotate(76.13)"/><rect x="-1.10" y="-81.5" width="2.2" height="16.5" fill="url(#bd0)" transform="rotate(76.13)"/><rect x="-1.10" y="-100.5" width="2.2" height="20.0" fill="url(#ru1)" transform="rotate(78.17)"/><rect x="-1.10" y="-81.5" width="2.2" height="18.5" fill="url(#bd0)" transform="rotate(78.17)"/><rect x="-1.10" y="-102.0" width="2.2" height="21.5" fill="url(#ru1)" transform="rotate(80.22)"/><rect x="-1.10" y="-81.5" width="2.2" height="19.7" fill="url(#bd0)" transform="rotate(80.22)"/><rect x="-1.10" y="-104.6" width="2.2" height="24.1" fill="url(#ru1)" transform="rotate(82.26)"/><rect x="-1.10" y="-81.5" width="2.2" height="20.9" fill="url(#bd2)" transform="rotate(82.26)"/><rect x="-1.10" y="-83.9" width="2.2" height="4.4" fill="url(#ru2)" transform="rotate(85.90)"/><rect x="-1.10" y="-80.5" width="2.2" height="15.6" fill="url(#bd1)" transform="rotate(85.90)"/><rect x="-1.10" y="-83.7" width="2.2" height="4.2" fill="url(#ru0)" transform="rotate(87.94)"/><rect x="-1.10" y="-80.5" width="2.2" height="15.6" fill="url(#bd0)" transform="rotate(87.94)"/><rect x="-1.10" y="-84.3" width="2.2" height="4.8" fill="url(#ru0)" transform="rotate(89.98)"/><rect x="-1.10" y="-80.5" width="2.2" height="14.3" fill="url(#bd1)" transform="rotate(89.98)"/><rect x="-1.10" y="-83.1" width="2.2" height="3.6" fill="url(#ru0)" transform="rotate(92.02)"/><rect x="-1.10" y="-80.5" width="2.2" height="17.6" fill="url(#bd1)" transform="rotate(92.02)"/><rect x="-1.10" y="-83.9" width="2.2" height="4.4" fill="url(#ru1)" transform="rotate(94.06)"/><rect x="-1.10" y="-80.5" width="2.2" height="14.5" fill="url(#bd1)" transform="rotate(94.06)"/><rect x="-1.10" y="-84.8" width="2.2" height="5.3" fill="url(#ru1)" transform="rotate(96.10)"/><rect x="-1.10" y="-80.5" width="2.2" height="14.0" fill="url(#bd2)" transform="rotate(96.10)"/><rect x="-1.10" y="-97.4" width="2.2" height="13.2" fill="url(#rm2)" transform="rotate(99.74)"/><rect x="-1.10" y="-106.5" width="2.2" height="13.1" fill="url(#bu3)" transform="rotate(99.74)"/><rect x="-1.10" y="-99.8" width="2.2" height="15.6" fill="url(#rm3)" transform="rotate(101.78)"/><rect x="-1.10" y="-108.2" width="2.2" height="12.4" fill="url(#bu3)" transform="rotate(101.78)"/><rect x="-1.10" y="-97.0" width="2.2" height="13.4" fill="url(#rm1)" transform="rotate(103.83)"/><rect x="-1.10" y="-108.8" width="2.2" height="15.8" fill="url(#bu3)" transform="rotate(103.83)"/><rect x="-1.10" y="-96.4" width="2.2" height="12.9" fill="url(#rm3)" transform="rotate(105.87)"/><rect x="-1.10" y="-110.4" width="2.2" height="18.0" fill="url(#bu2)" transform="rotate(105.87)"/><rect x="-1.10" y="-94.4" width="2.2" height="10.5" fill="url(#rm2)" transform="rotate(107.91)"/><rect x="-1.10" y="-108.3" width="2.2" height="17.9" fill="url(#bu3)" transform="rotate(107.91)"/><rect x="-1.10" y="-94.8" width="2.2" height="11.3" fill="url(#rm2)" transform="rotate(109.95)"/><rect x="-1.10" y="-107.5" width="2.2" height="16.7" fill="url(#bu3)" transform="rotate(109.95)"/><rect x="-1.10" y="-98.9" width="2.2" height="17.4" fill="url(#rm2)" transform="rotate(113.59)"/><rect x="-1.10" y="-124.2" width="2.2" height="29.3" fill="url(#bu1)" transform="rotate(113.59)"/><rect x="-1.10" y="-81.5" width="2.2" height="12.6" fill="url(#rd1)" transform="rotate(113.59)"/><rect x="-1.10" y="-98.6" width="2.2" height="17.1" fill="url(#rm2)" transform="rotate(115.63)"/><rect x="-1.10" y="-118.1" width="2.2" height="23.6" fill="url(#bu2)" transform="rotate(115.63)"/><rect x="-1.10" y="-81.5" width="2.2" height="12.4" fill="url(#rd2)" transform="rotate(115.63)"/><rect x="-1.10" y="-98.0" width="2.2" height="16.5" fill="url(#rm0)" transform="rotate(117.67)"/><rect x="-1.10" y="-125.3" width="2.2" height="31.3" fill="url(#bu2)" transform="rotate(117.67)"/><rect x="-1.10" y="-81.5" width="2.2" height="13.1" fill="url(#rd2)" transform="rotate(117.67)"/><rect x="-1.10" y="-105.8" width="2.2" height="24.3" fill="url(#rm2)" transform="rotate(119.71)"/><rect x="-1.10" y="-118.2" width="2.2" height="16.4" fill="url(#bu2)" transform="rotate(119.71)"/><rect x="-1.10" y="-81.5" width="2.2" height="13.2" fill="url(#rd2)" transform="rotate(119.71)"/><rect x="-1.10" y="-102.3" width="2.2" height="20.8" fill="url(#rm1)" transform="rotate(121.75)"/><rect x="-1.10" y="-120.2" width="2.2" height="21.8" fill="url(#bu2)" transform="rotate(121.75)"/><rect x="-1.10" y="-81.5" width="2.2" height="13.2" fill="url(#rd2)" transform="rotate(121.75)"/><rect x="-1.10" y="-104.4" width="2.2" height="22.9" fill="url(#rm1)" transform="rotate(123.79)"/><rect x="-1.10" y="-126.1" width="2.2" height="25.7" fill="url(#bu2)" transform="rotate(123.79)"/><rect x="-1.10" y="-81.5" width="2.2" height="13.3" fill="url(#rd2)" transform="rotate(123.79)"/><rect x="-1.10" y="-95.2" width="2.2" height="16.7" fill="url(#ru0)" transform="rotate(127.44)"/><rect x="-1.10" y="-79.5" width="2.2" height="9.8" fill="url(#bd1)" transform="rotate(127.44)"/><rect x="-1.10" y="-88.3" width="2.2" height="9.8" fill="url(#ru1)" transform="rotate(129.48)"/><rect x="-1.10" y="-79.5" width="2.2" height="14.3" fill="url(#bd0)" transform="rotate(129.48)"/><rect x="-1.10" y="-90.7" width="2.2" height="12.2" fill="url(#ru2)" transform="rotate(131.52)"/><rect x="-1.10" y="-79.5" width="2.2" height="9.5" fill="url(#bd3)" transform="rotate(131.52)"/><rect x="-1.10" y="-88.2" width="2.2" height="9.7" fill="url(#ru0)" transform="rotate(133.56)"/><rect x="-1.10" y="-79.5" width="2.2" height="12.5" fill="url(#bd0)" transform="rotate(133.56)"/><rect x="-1.10" y="-88.8" width="2.2" height="10.3" fill="url(#ru1)" transform="rotate(135.60)"/><rect x="-1.10" y="-79.5" width="2.2" height="11.0" fill="url(#bd0)" transform="rotate(135.60)"/><rect x="-1.10" y="-92.9" width="2.2" height="14.4" fill="url(#ru1)" transform="rotate(137.64)"/><rect x="-1.10" y="-79.5" width="2.2" height="11.2" fill="url(#bd2)" transform="rotate(137.64)"/><rect x="-1.10" y="-81.4" width="2.2" height="4.9" fill="url(#ru0)" transform="rotate(141.28)"/><rect x="-1.10" y="-77.5" width="2.2" height="9.7" fill="url(#bd3)" transform="rotate(141.28)"/><rect x="-1.10" y="-83.0" width="2.2" height="6.5" fill="url(#ru0)" transform="rotate(143.32)"/><rect x="-1.10" y="-77.5" width="2.2" height="8.7" fill="url(#bd3)" transform="rotate(143.32)"/><rect x="-1.10" y="-82.6" width="2.2" height="6.1" fill="url(#ru0)" transform="rotate(145.36)"/><rect x="-1.10" y="-77.5" width="2.2" height="9.8" fill="url(#bd4)" transform="rotate(145.36)"/><rect x="-1.10" y="-82.9" width="2.2" height="6.4" fill="url(#ru0)" transform="rotate(147.41)"/><rect x="-1.10" y="-77.5" width="2.2" height="7.4" fill="url(#bd3)" transform="rotate(147.41)"/><rect x="-1.10" y="-82.0" width="2.2" height="5.5" fill="url(#ru0)" transform="rotate(149.45)"/><rect x="-1.10" y="-77.5" width="2.2" height="9.1" fill="url(#bd2)" transform="rotate(149.45)"/><rect x="-1.10" y="-81.0" width="2.2" height="4.5" fill="url(#ru0)" transform="rotate(151.49)"/><rect x="-1.10" y="-77.5" width="2.2" height="10.7" fill="url(#bd3)" transform="rotate(151.49)"/><rect x="-1.10" y="-80.5" width="2.2" height="4.0" fill="url(#ru0)" transform="rotate(155.13)"/><rect x="-1.10" y="-77.5" width="2.2" height="10.7" fill="url(#bd2)" transform="rotate(155.13)"/><rect x="-1.10" y="-81.5" width="2.2" height="5.0" fill="url(#ru0)" transform="rotate(157.17)"/><rect x="-1.10" y="-77.5" width="2.2" height="9.1" fill="url(#bd4)" transform="rotate(157.17)"/><rect x="-1.10" y="-81.3" width="2.2" height="4.8" fill="url(#ru0)" transform="rotate(159.21)"/><rect x="-1.10" y="-77.5" width="2.2" height="10.8" fill="url(#bd2)" transform="rotate(159.21)"/><rect x="-1.10" y="-83.0" width="2.2" height="6.5" fill="url(#ru1)" transform="rotate(161.25)"/><rect x="-1.10" y="-77.5" width="2.2" height="8.9" fill="url(#bd3)" transform="rotate(161.25)"/><rect x="-1.10" y="-83.1" width="2.2" height="6.6" fill="url(#ru0)" transform="rotate(163.29)"/><rect x="-1.10" y="-77.5" width="2.2" height="8.8" fill="url(#bd4)" transform="rotate(163.29)"/><rect x="-1.10" y="-81.5" width="2.2" height="5.0" fill="url(#ru1)" transform="rotate(165.33)"/><rect x="-1.10" y="-77.5" width="2.2" height="8.5" fill="url(#bd3)" transform="rotate(165.33)"/><rect x="-1.10" y="-81.8" width="2.2" height="5.3" fill="url(#ru0)" transform="rotate(168.97)"/><rect x="-1.10" y="-77.5" width="2.2" height="8.8" fill="url(#bd1)" transform="rotate(168.97)"/><rect x="-1.10" y="-83.2" width="2.2" height="6.7" fill="url(#ru0)" transform="rotate(171.02)"/><rect x="-1.10" y="-77.5" width="2.2" height="10.3" fill="url(#bd2)" transform="rotate(171.02)"/><rect x="-1.10" y="-83.8" width="2.2" height="7.3" fill="url(#ru1)" transform="rotate(173.06)"/><rect x="-1.10" y="-77.5" width="2.2" height="10.2" fill="url(#bd1)" transform="rotate(173.06)"/><rect x="-1.10" y="-83.7" width="2.2" height="7.2" fill="url(#ru0)" transform="rotate(175.10)"/><rect x="-1.10" y="-77.5" width="2.2" height="8.2" fill="url(#bd2)" transform="rotate(175.10)"/><rect x="-1.10" y="-83.8" width="2.2" height="7.3" fill="url(#ru1)" transform="rotate(177.14)"/><rect x="-1.10" y="-77.5" width="2.2" height="7.8" fill="url(#bd4)" transform="rotate(177.14)"/><rect x="-1.10" y="-80.9" width="2.2" height="4.4" fill="url(#ru0)" transform="rotate(179.18)"/><rect x="-1.10" y="-77.5" width="2.2" height="8.6" fill="url(#bd1)" transform="rotate(179.18)"/><rect x="-1.10" y="-80.9" width="2.2" height="4.4" fill="url(#ru0)" transform="rotate(182.82)"/><rect x="-1.10" y="-77.5" width="2.2" height="5.6" fill="url(#bd4)" transform="rotate(182.82)"/><rect x="-1.10" y="-80.3" width="2.2" height="3.8" fill="url(#ru0)" transform="rotate(184.86)"/><rect x="-1.10" y="-77.5" width="2.2" height="8.6" fill="url(#bd2)" transform="rotate(184.86)"/><rect x="-1.10" y="-81.5" width="2.2" height="5.0" fill="url(#ru0)" transform="rotate(186.90)"/><rect x="-1.10" y="-77.5" width="2.2" height="6.8" fill="url(#bd2)" transform="rotate(186.90)"/><rect x="-1.10" y="-81.8" width="2.2" height="5.3" fill="url(#ru0)" transform="rotate(188.94)"/><rect x="-1.10" y="-77.5" width="2.2" height="8.6" fill="url(#bd4)" transform="rotate(188.94)"/><rect x="-1.10" y="-80.7" width="2.2" height="4.2" fill="url(#ru0)" transform="rotate(190.98)"/><rect x="-1.10" y="-77.5" width="2.2" height="8.1" fill="url(#bd3)" transform="rotate(190.98)"/><rect x="-1.10" y="-81.6" width="2.2" height="5.1" fill="url(#ru0)" transform="rotate(193.03)"/><rect x="-1.10" y="-77.5" width="2.2" height="8.1" fill="url(#bd3)" transform="rotate(193.03)"/><rect x="-1.10" y="-82.6" width="2.2" height="6.1" fill="url(#ru0)" transform="rotate(196.67)"/><rect x="-1.10" y="-77.5" width="2.2" height="8.6" fill="url(#bd4)" transform="rotate(196.67)"/><rect x="-1.10" y="-82.0" width="2.2" height="5.5" fill="url(#ru0)" transform="rotate(198.71)"/><rect x="-1.10" y="-77.5" width="2.2" height="6.6" fill="url(#bd4)" transform="rotate(198.71)"/><rect x="-1.10" y="-82.5" width="2.2" height="6.0" fill="url(#ru0)" transform="rotate(200.75)"/><rect x="-1.10" y="-77.5" width="2.2" height="7.8" fill="url(#bd2)" transform="rotate(200.75)"/><rect x="-1.10" y="-81.3" width="2.2" height="4.8" fill="url(#ru0)" transform="rotate(202.79)"/><rect x="-1.10" y="-77.5" width="2.2" height="6.5" fill="url(#bd1)" transform="rotate(202.79)"/><rect x="-1.10" y="-81.2" width="2.2" height="4.7" fill="url(#ru1)" transform="rotate(204.83)"/><rect x="-1.10" y="-77.5" width="2.2" height="7.4" fill="url(#bd4)" transform="rotate(204.83)"/><rect x="-1.10" y="-83.0" width="2.2" height="6.5" fill="url(#ru0)" transform="rotate(206.87)"/><rect x="-1.10" y="-77.5" width="2.2" height="7.4" fill="url(#bd3)" transform="rotate(206.87)"/><rect x="-1.10" y="-82.8" width="2.2" height="6.3" fill="url(#ru0)" transform="rotate(210.51)"/><rect x="-1.10" y="-77.5" width="2.2" height="6.3" fill="url(#bd2)" transform="rotate(210.51)"/><rect x="-1.10" y="-81.1" width="2.2" height="4.6" fill="url(#ru0)" transform="rotate(212.55)"/><rect x="-1.10" y="-77.5" width="2.2" height="6.4" fill="url(#bd1)" transform="rotate(212.55)"/><rect x="-1.10" y="-80.9" width="2.2" height="4.4" fill="url(#ru0)" transform="rotate(214.59)"/><rect x="-1.10" y="-77.5" width="2.2" height="6.7" fill="url(#bd4)" transform="rotate(214.59)"/><rect x="-1.10" y="-83.8" width="2.2" height="7.3" fill="url(#ru0)" transform="rotate(216.64)"/><rect x="-1.10" y="-77.5" width="2.2" height="7.4" fill="url(#bd3)" transform="rotate(216.64)"/><rect x="-1.10" y="-83.6" width="2.2" height="7.1" fill="url(#ru0)" transform="rotate(218.68)"/><rect x="-1.10" y="-77.5" width="2.2" height="7.1" fill="url(#bd3)" transform="rotate(218.68)"/><rect x="-1.10" y="-82.1" width="2.2" height="5.6" fill="url(#ru0)" transform="rotate(220.72)"/><rect x="-1.10" y="-77.5" width="2.2" height="6.2" fill="url(#bd4)" transform="rotate(220.72)"/><rect x="-1.10" y="-84.1" width="2.2" height="7.6" fill="url(#ru0)" transform="rotate(224.36)"/><rect x="-1.10" y="-77.5" width="2.2" height="7.3" fill="url(#bd2)" transform="rotate(224.36)"/><rect x="-1.10" y="-83.2" width="2.2" height="6.7" fill="url(#ru0)" transform="rotate(226.40)"/><rect x="-1.10" y="-77.5" width="2.2" height="6.3" fill="url(#bd1)" transform="rotate(226.40)"/><rect x="-1.10" y="-83.6" width="2.2" height="7.1" fill="url(#ru0)" transform="rotate(228.44)"/><rect x="-1.10" y="-77.5" width="2.2" height="8.8" fill="url(#bd1)" transform="rotate(228.44)"/><rect x="-1.10" y="-82.0" width="2.2" height="5.5" fill="url(#ru0)" transform="rotate(230.48)"/><rect x="-1.10" y="-77.5" width="2.2" height="8.2" fill="url(#bd2)" transform="rotate(230.48)"/><rect x="-1.10" y="-83.0" width="2.2" height="6.5" fill="url(#ru0)" transform="rotate(232.52)"/><rect x="-1.10" y="-77.5" width="2.2" height="6.9" fill="url(#bd3)" transform="rotate(232.52)"/><rect x="-1.10" y="-82.7" width="2.2" height="6.2" fill="url(#ru0)" transform="rotate(234.56)"/><rect x="-1.10" y="-77.5" width="2.2" height="7.4" fill="url(#bd3)" transform="rotate(234.56)"/><rect x="-1.10" y="-83.4" width="2.2" height="6.9" fill="url(#ru0)" transform="rotate(238.21)"/><rect x="-1.10" y="-77.5" width="2.2" height="6.9" fill="url(#bd3)" transform="rotate(238.21)"/><rect x="-1.10" y="-81.4" width="2.2" height="4.9" fill="url(#ru0)" transform="rotate(240.25)"/><rect x="-1.10" y="-77.5" width="2.2" height="7.8" fill="url(#bd3)" transform="rotate(240.25)"/><rect x="-1.10" y="-81.3" width="2.2" height="4.8" fill="url(#ru1)" transform="rotate(242.29)"/><rect x="-1.10" y="-77.5" width="2.2" height="6.4" fill="url(#bd2)" transform="rotate(242.29)"/><rect x="-1.10" y="-82.7" width="2.2" height="6.2" fill="url(#ru1)" transform="rotate(244.33)"/><rect x="-1.10" y="-77.5" width="2.2" height="8.6" fill="url(#bd2)" transform="rotate(244.33)"/><rect x="-1.10" y="-80.8" width="2.2" height="4.3" fill="url(#ru0)" transform="rotate(246.37)"/><rect x="-1.10" y="-77.5" width="2.2" height="6.2" fill="url(#bd2)" transform="rotate(246.37)"/><rect x="-1.10" y="-81.1" width="2.2" height="4.6" fill="url(#ru1)" transform="rotate(248.41)"/><rect x="-1.10" y="-77.5" width="2.2" height="7.9" fill="url(#bd1)" transform="rotate(248.41)"/><rect x="-1.10" y="-83.6" width="2.2" height="6.6" fill="url(#ru0)" transform="rotate(252.05)"/><rect x="-1.10" y="-78.0" width="2.2" height="7.9" fill="url(#bd1)" transform="rotate(252.05)"/><rect x="-1.10" y="-83.9" width="2.2" height="6.9" fill="url(#ru0)" transform="rotate(254.09)"/><rect x="-1.10" y="-78.0" width="2.2" height="6.1" fill="url(#bd2)" transform="rotate(254.09)"/><rect x="-1.10" y="-82.0" width="2.2" height="5.0" fill="url(#ru0)" transform="rotate(256.13)"/><rect x="-1.10" y="-78.0" width="2.2" height="7.9" fill="url(#bd4)" transform="rotate(256.13)"/><rect x="-1.10" y="-81.7" width="2.2" height="4.7" fill="url(#ru0)" transform="rotate(258.17)"/><rect x="-1.10" y="-78.0" width="2.2" height="6.4" fill="url(#bd4)" transform="rotate(258.17)"/><rect x="-1.10" y="-82.3" width="2.2" height="5.3" fill="url(#ru0)" transform="rotate(260.22)"/><rect x="-1.10" y="-78.0" width="2.2" height="6.6" fill="url(#bd2)" transform="rotate(260.22)"/><rect x="-1.10" y="-83.5" width="2.2" height="6.5" fill="url(#ru0)" transform="rotate(262.26)"/><rect x="-1.10" y="-78.0" width="2.2" height="6.5" fill="url(#bd2)" transform="rotate(262.26)"/><rect x="-1.10" y="-82.3" width="2.2" height="4.8" fill="url(#ru0)" transform="rotate(265.90)"/><rect x="-1.10" y="-78.5" width="2.2" height="5.7" fill="url(#bd2)" transform="rotate(265.90)"/><rect x="-1.10" y="-85.2" width="2.2" height="7.7" fill="url(#ru0)" transform="rotate(267.94)"/><rect x="-1.10" y="-78.5" width="2.2" height="5.9" fill="url(#bd3)" transform="rotate(267.94)"/><rect x="-1.10" y="-84.4" width="2.2" height="6.9" fill="url(#ru0)" transform="rotate(269.98)"/><rect x="-1.10" y="-78.5" width="2.2" height="4.9" fill="url(#bd4)" transform="rotate(269.98)"/><rect x="-1.10" y="-85.4" width="2.2" height="7.9" fill="url(#ru0)" transform="rotate(272.02)"/><rect x="-1.10" y="-78.5" width="2.2" height="6.2" fill="url(#bd2)" transform="rotate(272.02)"/><rect x="-1.10" y="-82.5" width="2.2" height="5.0" fill="url(#ru0)" transform="rotate(274.06)"/><rect x="-1.10" y="-78.5" width="2.2" height="6.8" fill="url(#bd1)" transform="rotate(274.06)"/><rect x="-1.10" y="-83.9" width="2.2" height="6.4" fill="url(#ru0)" transform="rotate(276.10)"/><rect x="-1.10" y="-78.5" width="2.2" height="7.1" fill="url(#bd2)" transform="rotate(276.10)"/><rect x="-1.10" y="-83.2" width="2.2" height="5.2" fill="url(#ru1)" transform="rotate(279.74)"/><rect x="-1.10" y="-79.0" width="2.2" height="5.5" fill="url(#bd3)" transform="rotate(279.74)"/><rect x="-1.10" y="-84.9" width="2.2" height="6.9" fill="url(#ru0)" transform="rotate(281.78)"/><rect x="-1.10" y="-79.0" width="2.2" height="6.5" fill="url(#bd2)" transform="rotate(281.78)"/><rect x="-1.10" y="-86.3" width="2.2" height="8.3" fill="url(#ru0)" transform="rotate(283.83)"/><rect x="-1.10" y="-79.0" width="2.2" height="5.2" fill="url(#bd3)" transform="rotate(283.83)"/><rect x="-1.10" y="-83.2" width="2.2" height="5.2" fill="url(#ru0)" transform="rotate(285.87)"/><rect x="-1.10" y="-79.0" width="2.2" height="5.4" fill="url(#bd2)" transform="rotate(285.87)"/><rect x="-1.10" y="-85.4" width="2.2" height="7.4" fill="url(#ru1)" transform="rotate(287.91)"/><rect x="-1.10" y="-79.0" width="2.2" height="7.1" fill="url(#bd2)" transform="rotate(287.91)"/><rect x="-1.10" y="-85.9" width="2.2" height="7.9" fill="url(#ru1)" transform="rotate(289.95)"/><rect x="-1.10" y="-79.0" width="2.2" height="7.7" fill="url(#bd1)" transform="rotate(289.95)"/><rect x="-1.10" y="-84.2" width="2.2" height="4.7" fill="url(#ru1)" transform="rotate(293.59)"/><rect x="-1.10" y="-80.5" width="2.2" height="9.7" fill="url(#bd3)" transform="rotate(293.59)"/><rect x="-1.10" y="-85.9" width="2.2" height="6.4" fill="url(#ru0)" transform="rotate(295.63)"/><rect x="-1.10" y="-80.5" width="2.2" height="9.5" fill="url(#bd2)" transform="rotate(295.63)"/><rect x="-1.10" y="-87.1" width="2.2" height="7.6" fill="url(#ru0)" transform="rotate(297.67)"/><rect x="-1.10" y="-80.5" width="2.2" height="9.3" fill="url(#bd2)" transform="rotate(297.67)"/><rect x="-1.10" y="-84.2" width="2.2" height="4.7" fill="url(#ru1)" transform="rotate(299.71)"/><rect x="-1.10" y="-80.5" width="2.2" height="10.7" fill="url(#bd1)" transform="rotate(299.71)"/><rect x="-1.10" y="-85.7" width="2.2" height="6.2" fill="url(#ru0)" transform="rotate(301.75)"/><rect x="-1.10" y="-80.5" width="2.2" height="9.4" fill="url(#bd1)" transform="rotate(301.75)"/><rect x="-1.10" y="-87.2" width="2.2" height="7.7" fill="url(#ru1)" transform="rotate(303.79)"/><rect x="-1.10" y="-80.5" width="2.2" height="10.0" fill="url(#bd2)" transform="rotate(303.79)"/><rect x="-1.10" y="-87.2" width="2.2" height="6.7" fill="url(#ru2)" transform="rotate(307.44)"/><rect x="-1.10" y="-81.5" width="2.2" height="9.5" fill="url(#bd2)" transform="rotate(307.44)"/><rect x="-1.10" y="-89.9" width="2.2" height="9.4" fill="url(#ru3)" transform="rotate(309.48)"/><rect x="-1.10" y="-81.5" width="2.2" height="11.3" fill="url(#bd1)" transform="rotate(309.48)"/><rect x="-1.10" y="-90.7" width="2.2" height="10.2" fill="url(#ru2)" transform="rotate(311.52)"/><rect x="-1.10" y="-81.5" width="2.2" height="13.4" fill="url(#bd0)" transform="rotate(311.52)"/><rect x="-1.10" y="-89.1" width="2.2" height="8.6" fill="url(#ru4)" transform="rotate(313.56)"/><rect x="-1.10" y="-81.5" width="2.2" height="11.3" fill="url(#bd2)" transform="rotate(313.56)"/><rect x="-1.10" y="-87.5" width="2.2" height="7.0" fill="url(#ru2)" transform="rotate(315.60)"/><rect x="-1.10" y="-81.5" width="2.2" height="10.0" fill="url(#bd0)" transform="rotate(315.60)"/><rect x="-1.10" y="-88.4" width="2.2" height="7.9" fill="url(#ru3)" transform="rotate(317.64)"/><rect x="-1.10" y="-81.5" width="2.2" height="11.2" fill="url(#bd1)" transform="rotate(317.64)"/><rect x="-1.10" y="-89.6" width="2.2" height="9.1" fill="url(#ru1)" transform="rotate(321.28)"/><rect x="-1.10" y="-81.5" width="2.2" height="9.6" fill="url(#bd0)" transform="rotate(321.28)"/><rect x="-1.10" y="-86.2" width="2.2" height="5.7" fill="url(#ru0)" transform="rotate(323.32)"/><rect x="-1.10" y="-81.5" width="2.2" height="9.2" fill="url(#bd3)" transform="rotate(323.32)"/><rect x="-1.10" y="-88.4" width="2.2" height="7.9" fill="url(#ru0)" transform="rotate(325.36)"/><rect x="-1.10" y="-81.5" width="2.2" height="12.2" fill="url(#bd2)" transform="rotate(325.36)"/><rect x="-1.10" y="-88.3" width="2.2" height="7.8" fill="url(#ru1)" transform="rotate(327.41)"/><rect x="-1.10" y="-81.5" width="2.2" height="9.5" fill="url(#bd3)" transform="rotate(327.41)"/><rect x="-1.10" y="-87.7" width="2.2" height="7.2" fill="url(#ru2)" transform="rotate(329.45)"/><rect x="-1.10" y="-81.5" width="2.2" height="13.0" fill="url(#bd1)" transform="rotate(329.45)"/><rect x="-1.10" y="-89.7" width="2.2" height="9.2" fill="url(#ru0)" transform="rotate(331.49)"/><rect x="-1.10" y="-81.5" width="2.2" height="9.0" fill="url(#bd3)" transform="rotate(331.49)"/><rect x="-1.10" y="-85.0" width="2.2" height="4.5" fill="url(#ru1)" transform="rotate(335.13)"/><rect x="-1.10" y="-81.5" width="2.2" height="8.8" fill="url(#bd1)" transform="rotate(335.13)"/><rect x="-1.10" y="-87.2" width="2.2" height="6.7" fill="url(#ru2)" transform="rotate(337.17)"/><rect x="-1.10" y="-81.5" width="2.2" height="8.8" fill="url(#bd1)" transform="rotate(337.17)"/><rect x="-1.10" y="-86.7" width="2.2" height="6.2" fill="url(#ru2)" transform="rotate(339.21)"/><rect x="-1.10" y="-81.5" width="2.2" height="8.5" fill="url(#bd3)" transform="rotate(339.21)"/><rect x="-1.10" y="-88.3" width="2.2" height="7.8" fill="url(#ru0)" transform="rotate(341.25)"/><rect x="-1.10" y="-81.5" width="2.2" height="11.6" fill="url(#bd0)" transform="rotate(341.25)"/><rect x="-1.10" y="-87.0" width="2.2" height="6.5" fill="url(#ru1)" transform="rotate(343.29)"/><rect x="-1.10" y="-81.5" width="2.2" height="11.3" fill="url(#bd2)" transform="rotate(343.29)"/><rect x="-1.10" y="-87.7" width="2.2" height="7.2" fill="url(#ru0)" transform="rotate(345.33)"/><rect x="-1.10" y="-81.5" width="2.2" height="8.7" fill="url(#bd1)" transform="rotate(345.33)"/><rect x="-1.10" y="-84.8" width="2.2" height="4.3" fill="url(#ru1)" transform="rotate(348.97)"/><rect x="-1.10" y="-81.5" width="2.2" height="6.9" fill="url(#bd2)" transform="rotate(348.97)"/><rect x="-1.10" y="-83.8" width="2.2" height="3.3" fill="url(#ru0)" transform="rotate(351.02)"/><rect x="-1.10" y="-81.5" width="2.2" height="5.3" fill="url(#bd2)" transform="rotate(351.02)"/><rect x="-1.10" y="-84.2" width="2.2" height="3.7" fill="url(#ru1)" transform="rotate(353.06)"/><rect x="-1.10" y="-81.5" width="2.2" height="7.2" fill="url(#bd2)" transform="rotate(353.06)"/><rect x="-1.10" y="-83.7" width="2.2" height="3.2" fill="url(#ru0)" transform="rotate(355.10)"/><rect x="-1.10" y="-81.5" width="2.2" height="6.5" fill="url(#bd3)" transform="rotate(355.10)"/><rect x="-1.10" y="-84.1" width="2.2" height="3.6" fill="url(#ru0)" transform="rotate(357.14)"/><rect x="-1.10" y="-81.5" width="2.2" height="4.9" fill="url(#bd1)" transform="rotate(357.14)"/><rect x="-1.10" y="-84.7" width="2.2" height="4.2" fill="url(#ru0)" transform="rotate(359.18)"/><rect x="-1.10" y="-81.5" width="2.2" height="5.5" fill="url(#bd1)" transform="rotate(359.18)"/><rect x="-0.80" y="-90.0" width="1.6" height="13.0" fill="url(#bu3)" transform="rotate(179.18)"/><rect x="-0.80" y="-77.0" width="1.6" height="13.0" fill="url(#rd1)" transform="rotate(179.18)"/></g>
<circle cx="183.3" cy="206.5" r="76.5" fill="none" stroke="#d9c9c4" stroke-width="0.7"/>
<circle cx="183.3" cy="206.5" r="82.0" fill="none" stroke="#d6aa6a" stroke-width="1.0"/>
<circle cx="187.43" cy="113.90" r="1.25" fill="#c23a3f"/>
<circle cx="190.89" cy="114.37" r="1.25" fill="#c23a3f"/>
<circle cx="194.46" cy="114.06" r="1.25" fill="#c23a3f"/>
<circle cx="198.13" cy="114.44" r="1.25" fill="#c23a3f"/>
<circle cx="201.20" cy="115.01" r="1.25" fill="#c23a3f"/>
<circle cx="204.45" cy="115.77" r="1.25" fill="#c23a3f"/>
<circle cx="186.58" cy="146.22" r="1.25" fill="#1f3d70"/>
<circle cx="188.48" cy="147.08" r="1.25" fill="#1f3d70"/>
<circle cx="190.32" cy="147.08" r="1.25" fill="#1f3d70"/>
<circle cx="192.50" cy="146.28" r="1.25" fill="#1f3d70"/>
<circle cx="194.92" cy="146.32" r="1.25" fill="#1f3d70"/>
<circle cx="197.14" cy="146.36" r="1.25" fill="#1f3d70"/>
<circle cx="208.30" cy="123.74" r="1.25" fill="#c23a3f"/>
<circle cx="211.09" cy="124.85" r="1.25" fill="#c23a3f"/>
<circle cx="213.79" cy="125.81" r="1.25" fill="#c23a3f"/>
<circle cx="217.04" cy="125.66" r="1.25" fill="#c23a3f"/>
<circle cx="219.70" cy="128.48" r="1.25" fill="#c23a3f"/>
<circle cx="222.36" cy="130.19" r="1.25" fill="#c23a3f"/>
<circle cx="201.34" cy="146.57" r="1.25" fill="#1f3d70"/>
<circle cx="203.87" cy="146.77" r="1.25" fill="#1f3d70"/>
<circle cx="206.13" cy="145.78" r="1.25" fill="#1f3d70"/>
<circle cx="207.98" cy="147.47" r="1.25" fill="#1f3d70"/>
<circle cx="209.82" cy="148.50" r="1.25" fill="#1f3d70"/>
<circle cx="212.48" cy="149.03" r="1.25" fill="#1f3d70"/>
<circle cx="231.10" cy="124.63" r="1.25" fill="#c23a3f"/>
<circle cx="234.21" cy="126.31" r="1.25" fill="#c23a3f"/>
<circle cx="236.57" cy="129.08" r="1.25" fill="#c23a3f"/>
<circle cx="239.60" cy="131.45" r="1.25" fill="#c23a3f"/>
<circle cx="242.35" cy="132.76" r="1.25" fill="#c23a3f"/>
<circle cx="244.19" cy="136.47" r="1.25" fill="#c23a3f"/>
<circle cx="213.86" cy="154.78" r="1.25" fill="#1f3d70"/>
<circle cx="216.67" cy="153.88" r="1.25" fill="#1f3d70"/>
<circle cx="217.68" cy="156.93" r="1.25" fill="#1f3d70"/>
<circle cx="219.60" cy="157.59" r="1.25" fill="#1f3d70"/>
<circle cx="221.27" cy="158.60" r="1.25" fill="#1f3d70"/>
<circle cx="224.40" cy="158.78" r="1.25" fill="#1f3d70"/>
<circle cx="254.29" cy="134.57" r="1.25" fill="#c23a3f"/>
<circle cx="255.74" cy="136.98" r="1.25" fill="#c23a3f"/>
<circle cx="254.53" cy="143.14" r="1.25" fill="#c23a3f"/>
<circle cx="255.59" cy="146.83" r="1.25" fill="#c23a3f"/>
<circle cx="259.42" cy="148.59" r="1.25" fill="#c23a3f"/>
<circle cx="258.24" cy="152.61" r="1.25" fill="#c23a3f"/>
<circle cx="225.54" cy="163.19" r="1.25" fill="#1f3d70"/>
<circle cx="226.94" cy="164.57" r="1.25" fill="#1f3d70"/>
<circle cx="228.94" cy="165.71" r="1.25" fill="#1f3d70"/>
<circle cx="230.79" cy="167.25" r="1.25" fill="#1f3d70"/>
<circle cx="233.38" cy="168.46" r="1.25" fill="#1f3d70"/>
<circle cx="234.11" cy="170.31" r="1.25" fill="#1f3d70"/>
<circle cx="258.77" cy="159.89" r="1.25" fill="#c23a3f"/>
<circle cx="261.47" cy="161.74" r="1.25" fill="#c23a3f"/>
<circle cx="263.26" cy="164.94" r="1.25" fill="#c23a3f"/>
<circle cx="263.67" cy="167.75" r="1.25" fill="#c23a3f"/>
<circle cx="263.81" cy="171.09" r="1.25" fill="#c23a3f"/>
<circle cx="266.58" cy="173.54" r="1.25" fill="#c23a3f"/>
<circle cx="233.95" cy="175.43" r="1.25" fill="#1f3d70"/>
<circle cx="235.45" cy="176.45" r="1.25" fill="#1f3d70"/>
<circle cx="236.10" cy="178.60" r="1.25" fill="#1f3d70"/>
<circle cx="238.43" cy="179.94" r="1.25" fill="#1f3d70"/>
<circle cx="238.73" cy="182.24" r="1.25" fill="#1f3d70"/>
<circle cx="241.50" cy="183.71" r="1.25" fill="#1f3d70"/>
<circle cx="279.17" cy="175.30" r="1.25" fill="#c23a3f"/>
<circle cx="283.27" cy="177.67" r="1.25" fill="#c23a3f"/>
<circle cx="284.05" cy="181.36" r="1.25" fill="#c23a3f"/>
<circle cx="284.53" cy="185.59" r="1.25" fill="#c23a3f"/>
<circle cx="284.10" cy="188.61" r="1.25" fill="#c23a3f"/>
<circle cx="286.26" cy="192.81" r="1.25" fill="#c23a3f"/>
<circle cx="232.83" cy="190.74" r="1.25" fill="#1f3d70"/>
<circle cx="235.42" cy="191.85" r="1.25" fill="#1f3d70"/>
<circle cx="234.70" cy="193.65" r="1.25" fill="#1f3d70"/>
<circle cx="235.11" cy="195.87" r="1.25" fill="#1f3d70"/>
<circle cx="234.67" cy="197.61" r="1.25" fill="#1f3d70"/>
<circle cx="234.23" cy="199.79" r="1.25" fill="#1f3d70"/>
<circle cx="276.14" cy="199.89" r="1.25" fill="#c23a3f"/>
<circle cx="273.26" cy="203.25" r="1.25" fill="#c23a3f"/>
<circle cx="273.35" cy="206.76" r="1.25" fill="#c23a3f"/>
<circle cx="273.62" cy="209.97" r="1.25" fill="#c23a3f"/>
<circle cx="275.83" cy="212.91" r="1.25" fill="#c23a3f"/>
<circle cx="272.91" cy="215.74" r="1.25" fill="#c23a3f"/>
<circle cx="244.01" cy="202.36" r="1.25" fill="#1f3d70"/>
<circle cx="243.72" cy="204.61" r="1.25" fill="#1f3d70"/>
<circle cx="242.50" cy="206.76" r="1.25" fill="#1f3d70"/>
<circle cx="244.62" cy="208.48" r="1.25" fill="#1f3d70"/>
<circle cx="245.69" cy="210.79" r="1.25" fill="#1f3d70"/>
<circle cx="245.04" cy="213.19" r="1.25" fill="#1f3d70"/>
<circle cx="229.62" cy="214.45" r="1.25" fill="#c23a3f"/>
<circle cx="295.33" cy="225.74" r="1.25" fill="#1f3d70"/>
<circle cx="225.39" cy="215.28" r="1.25" fill="#c23a3f"/>
<circle cx="294.51" cy="229.70" r="1.25" fill="#1f3d70"/>
<circle cx="214.37" cy="214.15" r="1.25" fill="#c23a3f"/>
<circle cx="299.59" cy="235.12" r="1.25" fill="#1f3d70"/>
<circle cx="206.39" cy="213.06" r="1.25" fill="#c23a3f"/>
<circle cx="294.81" cy="238.19" r="1.25" fill="#1f3d70"/>
<circle cx="230.88" cy="221.87" r="1.25" fill="#c23a3f"/>
<circle cx="291.92" cy="241.60" r="1.25" fill="#1f3d70"/>
<circle cx="235.94" cy="225.61" r="1.25" fill="#c23a3f"/>
<circle cx="290.97" cy="245.58" r="1.25" fill="#1f3d70"/>
<circle cx="189.72" cy="209.30" r="1.25" fill="#c23a3f"/>
<circle cx="297.10" cy="256.19" r="1.25" fill="#1f3d70"/>
<circle cx="204.04" cy="216.45" r="1.25" fill="#c23a3f"/>
<circle cx="297.89" cy="261.48" r="1.25" fill="#1f3d70"/>
<circle cx="236.44" cy="234.36" r="1.25" fill="#c23a3f"/>
<circle cx="296.22" cy="265.71" r="1.25" fill="#1f3d70"/>
<circle cx="245.83" cy="242.19" r="1.25" fill="#c23a3f"/>
<circle cx="294.75" cy="270.10" r="1.25" fill="#1f3d70"/>
<circle cx="247.07" cy="245.97" r="1.25" fill="#c23a3f"/>
<circle cx="289.73" cy="272.37" r="1.25" fill="#1f3d70"/>
<circle cx="241.47" cy="245.44" r="1.25" fill="#c23a3f"/>
<circle cx="287.25" cy="276.08" r="1.25" fill="#1f3d70"/>
<circle cx="262.50" cy="267.53" r="1.25" fill="#c23a3f"/>
<circle cx="261.74" cy="270.46" r="1.25" fill="#c23a3f"/>
<circle cx="259.61" cy="274.22" r="1.25" fill="#c23a3f"/>
<circle cx="255.97" cy="275.57" r="1.25" fill="#c23a3f"/>
<circle cx="253.97" cy="278.08" r="1.25" fill="#c23a3f"/>
<circle cx="251.82" cy="281.11" r="1.25" fill="#c23a3f"/>
<circle cx="230.21" cy="242.12" r="1.25" fill="#1f3d70"/>
<circle cx="227.23" cy="242.35" r="1.25" fill="#1f3d70"/>
<circle cx="226.89" cy="245.00" r="1.25" fill="#1f3d70"/>
<circle cx="224.98" cy="246.01" r="1.25" fill="#1f3d70"/>
<circle cx="224.82" cy="248.78" r="1.25" fill="#1f3d70"/>
<circle cx="222.36" cy="248.92" r="1.25" fill="#1f3d70"/>
<circle cx="242.06" cy="279.85" r="1.25" fill="#c23a3f"/>
<circle cx="238.81" cy="280.92" r="1.25" fill="#c23a3f"/>
<circle cx="236.09" cy="282.42" r="1.25" fill="#c23a3f"/>
<circle cx="232.91" cy="284.62" r="1.25" fill="#c23a3f"/>
<circle cx="231.68" cy="287.68" r="1.25" fill="#c23a3f"/>
<circle cx="227.83" cy="289.48" r="1.25" fill="#c23a3f"/>
<circle cx="219.17" cy="251.69" r="1.25" fill="#1f3d70"/>
<circle cx="217.84" cy="252.59" r="1.25" fill="#1f3d70"/>
<circle cx="215.15" cy="252.28" r="1.25" fill="#1f3d70"/>
<circle cx="213.96" cy="254.47" r="1.25" fill="#1f3d70"/>
<circle cx="211.35" cy="253.69" r="1.25" fill="#1f3d70"/>
<circle cx="210.18" cy="255.85" r="1.25" fill="#1f3d70"/>
<circle cx="222.24" cy="290.23" r="1.25" fill="#c23a3f"/>
<circle cx="219.79" cy="292.88" r="1.25" fill="#c23a3f"/>
<circle cx="216.11" cy="293.90" r="1.25" fill="#c23a3f"/>
<circle cx="213.49" cy="295.74" r="1.25" fill="#c23a3f"/>
<circle cx="210.60" cy="297.42" r="1.25" fill="#c23a3f"/>
<circle cx="207.79" cy="299.68" r="1.25" fill="#c23a3f"/>
<circle cx="210.35" cy="264.49" r="1.25" fill="#1f3d70"/>
<circle cx="207.73" cy="264.80" r="1.25" fill="#1f3d70"/>
<circle cx="206.05" cy="265.53" r="1.25" fill="#1f3d70"/>
<circle cx="203.39" cy="265.85" r="1.25" fill="#1f3d70"/>
<circle cx="201.42" cy="266.65" r="1.25" fill="#1f3d70"/>
<circle cx="199.10" cy="265.72" r="1.25" fill="#1f3d70"/>
<circle cx="202.12" cy="303.25" r="1.25" fill="#c23a3f"/>
<circle cx="198.93" cy="304.95" r="1.25" fill="#c23a3f"/>
<circle cx="195.19" cy="303.73" r="1.25" fill="#c23a3f"/>
<circle cx="191.58" cy="304.06" r="1.25" fill="#c23a3f"/>
<circle cx="187.89" cy="304.12" r="1.25" fill="#c23a3f"/>
<circle cx="184.20" cy="304.98" r="1.25" fill="#c23a3f"/>
<circle cx="194.50" cy="262.79" r="1.25" fill="#1f3d70"/>
<circle cx="191.93" cy="262.13" r="1.25" fill="#1f3d70"/>
<circle cx="190.02" cy="261.02" r="1.25" fill="#1f3d70"/>
<circle cx="187.94" cy="261.82" r="1.25" fill="#1f3d70"/>
<circle cx="186.01" cy="261.85" r="1.25" fill="#1f3d70"/>
<circle cx="183.93" cy="260.29" r="1.25" fill="#1f3d70"/>
<circle cx="179.15" cy="299.17" r="1.25" fill="#c23a3f"/>
<circle cx="174.91" cy="301.49" r="1.25" fill="#c23a3f"/>
<circle cx="171.70" cy="300.08" r="1.25" fill="#c23a3f"/>
<circle cx="168.60" cy="300.41" r="1.25" fill="#c23a3f"/>
<circle cx="164.69" cy="300.76" r="1.25" fill="#c23a3f"/>
<circle cx="160.94" cy="302.43" r="1.25" fill="#c23a3f"/>
<circle cx="180.20" cy="266.19" r="1.25" fill="#1f3d70"/>
<circle cx="178.41" cy="264.47" r="1.25" fill="#1f3d70"/>
<circle cx="176.37" cy="265.85" r="1.25" fill="#1f3d70"/>
<circle cx="174.62" cy="263.27" r="1.25" fill="#1f3d70"/>
<circle cx="172.08" cy="264.11" r="1.25" fill="#1f3d70"/>
<circle cx="170.08" cy="263.16" r="1.25" fill="#1f3d70"/>
<circle cx="156.69" cy="293.92" r="1.25" fill="#c23a3f"/>
<circle cx="154.99" cy="290.84" r="1.25" fill="#c23a3f"/>
<circle cx="152.00" cy="289.48" r="1.25" fill="#c23a3f"/>
<circle cx="149.11" cy="288.12" r="1.25" fill="#c23a3f"/>
<circle cx="146.22" cy="287.31" r="1.25" fill="#c23a3f"/>
<circle cx="143.04" cy="285.35" r="1.25" fill="#c23a3f"/>
<circle cx="164.58" cy="269.81" r="1.25" fill="#1f3d70"/>
<circle cx="162.45" cy="267.28" r="1.25" fill="#1f3d70"/>
<circle cx="160.46" cy="267.71" r="1.25" fill="#1f3d70"/>
<circle cx="157.83" cy="267.05" r="1.25" fill="#1f3d70"/>
<circle cx="155.22" cy="266.41" r="1.25" fill="#1f3d70"/>
<circle cx="154.21" cy="263.46" r="1.25" fill="#1f3d70"/>
<circle cx="139.50" cy="280.28" r="1.25" fill="#c23a3f"/>
<circle cx="137.07" cy="278.71" r="1.25" fill="#c23a3f"/>
<circle cx="133.36" cy="278.49" r="1.25" fill="#c23a3f"/>
<circle cx="132.30" cy="275.30" r="1.25" fill="#c23a3f"/>
<circle cx="129.76" cy="273.55" r="1.25" fill="#c23a3f"/>
<circle cx="126.77" cy="272.24" r="1.25" fill="#c23a3f"/>
<circle cx="150.11" cy="263.48" r="1.25" fill="#1f3d70"/>
<circle cx="146.74" cy="263.21" r="1.25" fill="#1f3d70"/>
<circle cx="146.04" cy="260.84" r="1.25" fill="#1f3d70"/>
<circle cx="143.33" cy="260.09" r="1.25" fill="#1f3d70"/>
<circle cx="142.04" cy="258.25" r="1.25" fill="#1f3d70"/>
<circle cx="140.31" cy="256.42" r="1.25" fill="#1f3d70"/>
<circle cx="121.82" cy="269.62" r="1.25" fill="#c23a3f"/>
<circle cx="119.17" cy="267.16" r="1.25" fill="#c23a3f"/>
<circle cx="115.85" cy="266.60" r="1.25" fill="#c23a3f"/>
<circle cx="114.70" cy="262.59" r="1.25" fill="#c23a3f"/>
<circle cx="110.65" cy="262.14" r="1.25" fill="#c23a3f"/>
<circle cx="110.79" cy="258.12" r="1.25" fill="#c23a3f"/>
<circle cx="140.16" cy="250.33" r="1.25" fill="#1f3d70"/>
<circle cx="138.11" cy="249.51" r="1.25" fill="#1f3d70"/>
<circle cx="135.28" cy="249.28" r="1.25" fill="#1f3d70"/>
<circle cx="134.97" cy="246.23" r="1.25" fill="#1f3d70"/>
<circle cx="132.88" cy="245.57" r="1.25" fill="#1f3d70"/>
<circle cx="130.17" cy="244.41" r="1.25" fill="#1f3d70"/>
<circle cx="107.88" cy="253.71" r="1.25" fill="#c23a3f"/>
<circle cx="106.48" cy="250.37" r="1.25" fill="#c23a3f"/>
<circle cx="105.84" cy="247.69" r="1.25" fill="#c23a3f"/>
<circle cx="102.82" cy="245.50" r="1.25" fill="#c23a3f"/>
<circle cx="101.72" cy="241.91" r="1.25" fill="#c23a3f"/>
<circle cx="100.64" cy="239.68" r="1.25" fill="#c23a3f"/>
<circle cx="127.40" cy="240.78" r="1.25" fill="#1f3d70"/>
<circle cx="125.55" cy="239.59" r="1.25" fill="#1f3d70"/>
<circle cx="123.63" cy="237.45" r="1.25" fill="#1f3d70"/>
<circle cx="123.84" cy="235.41" r="1.25" fill="#1f3d70"/>
<circle cx="121.12" cy="233.99" r="1.25" fill="#1f3d70"/>
<circle cx="119.50" cy="231.61" r="1.25" fill="#1f3d70"/>
<circle cx="95.59" cy="235.31" r="1.25" fill="#c23a3f"/>
<circle cx="94.29" cy="232.10" r="1.25" fill="#c23a3f"/>
<circle cx="93.51" cy="228.53" r="1.25" fill="#c23a3f"/>
<circle cx="93.78" cy="225.36" r="1.25" fill="#c23a3f"/>
<circle cx="93.16" cy="221.93" r="1.25" fill="#c23a3f"/>
<circle cx="92.65" cy="218.70" r="1.25" fill="#c23a3f"/>
<circle cx="124.28" cy="225.64" r="1.25" fill="#1f3d70"/>
<circle cx="125.70" cy="223.18" r="1.25" fill="#1f3d70"/>
<circle cx="124.42" cy="220.72" r="1.25" fill="#1f3d70"/>
<circle cx="124.59" cy="218.62" r="1.25" fill="#1f3d70"/>
<circle cx="123.14" cy="216.66" r="1.25" fill="#1f3d70"/>
<circle cx="124.87" cy="214.67" r="1.25" fill="#1f3d70"/>
<circle cx="95.35" cy="213.12" r="1.25" fill="#c23a3f"/>
<circle cx="95.52" cy="209.29" r="1.25" fill="#c23a3f"/>
<circle cx="95.51" cy="206.67" r="1.25" fill="#c23a3f"/>
<circle cx="95.06" cy="203.72" r="1.25" fill="#c23a3f"/>
<circle cx="95.60" cy="199.82" r="1.25" fill="#c23a3f"/>
<circle cx="95.17" cy="196.88" r="1.25" fill="#c23a3f"/>
<circle cx="117.96" cy="211.10" r="1.25" fill="#1f3d70"/>
<circle cx="117.55" cy="209.15" r="1.25" fill="#1f3d70"/>
<circle cx="116.34" cy="206.47" r="1.25" fill="#1f3d70"/>
<circle cx="115.66" cy="204.23" r="1.25" fill="#1f3d70"/>
<circle cx="116.46" cy="201.85" r="1.25" fill="#1f3d70"/>
<circle cx="115.38" cy="199.51" r="1.25" fill="#1f3d70"/>
<circle cx="94.43" cy="190.97" r="1.25" fill="#c23a3f"/>
<circle cx="97.10" cy="188.05" r="1.25" fill="#c23a3f"/>
<circle cx="96.12" cy="184.80" r="1.25" fill="#c23a3f"/>
<circle cx="97.62" cy="181.75" r="1.25" fill="#c23a3f"/>
<circle cx="98.21" cy="178.87" r="1.25" fill="#c23a3f"/>
<circle cx="100.00" cy="176.60" r="1.25" fill="#c23a3f"/>
<circle cx="116.72" cy="195.34" r="1.25" fill="#1f3d70"/>
<circle cx="117.84" cy="192.96" r="1.25" fill="#1f3d70"/>
<circle cx="116.38" cy="190.22" r="1.25" fill="#1f3d70"/>
<circle cx="117.30" cy="188.07" r="1.25" fill="#1f3d70"/>
<circle cx="118.12" cy="185.27" r="1.25" fill="#1f3d70"/>
<circle cx="119.49" cy="183.41" r="1.25" fill="#1f3d70"/>
<circle cx="103.02" cy="171.19" r="1.25" fill="#c23a3f"/>
<circle cx="104.64" cy="168.66" r="1.25" fill="#c23a3f"/>
<circle cx="105.12" cy="165.89" r="1.25" fill="#c23a3f"/>
<circle cx="106.83" cy="162.85" r="1.25" fill="#c23a3f"/>
<circle cx="107.65" cy="160.17" r="1.25" fill="#c23a3f"/>
<circle cx="110.31" cy="157.62" r="1.25" fill="#c23a3f"/>
<circle cx="125.85" cy="181.60" r="1.25" fill="#1f3d70"/>
<circle cx="124.65" cy="178.05" r="1.25" fill="#1f3d70"/>
<circle cx="125.99" cy="176.32" r="1.25" fill="#1f3d70"/>
<circle cx="127.28" cy="174.59" r="1.25" fill="#1f3d70"/>
<circle cx="128.63" cy="172.89" r="1.25" fill="#1f3d70"/>
<circle cx="129.70" cy="170.57" r="1.25" fill="#1f3d70"/>
<circle cx="101.61" cy="143.59" r="1.25" fill="#c23a3f"/>
<circle cx="106.21" cy="142.49" r="1.25" fill="#c23a3f"/>
<circle cx="107.52" cy="138.90" r="1.25" fill="#c23a3f"/>
<circle cx="110.93" cy="138.32" r="1.25" fill="#c23a3f"/>
<circle cx="112.80" cy="133.96" r="1.25" fill="#c23a3f"/>
<circle cx="115.90" cy="133.33" r="1.25" fill="#c23a3f"/>
<circle cx="139.63" cy="173.05" r="1.25" fill="#1f3d70"/>
<circle cx="139.54" cy="170.11" r="1.25" fill="#1f3d70"/>
<circle cx="141.96" cy="169.79" r="1.25" fill="#1f3d70"/>
<circle cx="142.14" cy="167.10" r="1.25" fill="#1f3d70"/>
<circle cx="144.25" cy="166.81" r="1.25" fill="#1f3d70"/>
<circle cx="146.06" cy="165.33" r="1.25" fill="#1f3d70"/>
<circle cx="123.70" cy="131.89" r="1.25" fill="#c23a3f"/>
<circle cx="125.28" cy="129.31" r="1.25" fill="#c23a3f"/>
<circle cx="128.38" cy="127.75" r="1.25" fill="#c23a3f"/>
<circle cx="132.06" cy="127.27" r="1.25" fill="#c23a3f"/>
<circle cx="135.92" cy="126.17" r="1.25" fill="#c23a3f"/>
<circle cx="139.44" cy="125.63" r="1.25" fill="#c23a3f"/>
<circle cx="145.62" cy="159.83" r="1.25" fill="#1f3d70"/>
<circle cx="147.31" cy="158.67" r="1.25" fill="#1f3d70"/>
<circle cx="149.10" cy="157.37" r="1.25" fill="#1f3d70"/>
<circle cx="151.24" cy="156.21" r="1.25" fill="#1f3d70"/>
<circle cx="154.32" cy="157.31" r="1.25" fill="#1f3d70"/>
<circle cx="156.31" cy="156.33" r="1.25" fill="#1f3d70"/>
<circle cx="143.35" cy="120.13" r="1.25" fill="#c23a3f"/>
<circle cx="145.99" cy="119.06" r="1.25" fill="#c23a3f"/>
<circle cx="149.96" cy="118.08" r="1.25" fill="#c23a3f"/>
<circle cx="153.93" cy="118.84" r="1.25" fill="#c23a3f"/>
<circle cx="156.73" cy="119.13" r="1.25" fill="#c23a3f"/>
<circle cx="159.87" cy="117.00" r="1.25" fill="#c23a3f"/>
<circle cx="158.30" cy="152.12" r="1.25" fill="#1f3d70"/>
<circle cx="159.91" cy="150.28" r="1.25" fill="#1f3d70"/>
<circle cx="161.59" cy="149.23" r="1.25" fill="#1f3d70"/>
<circle cx="164.04" cy="150.28" r="1.25" fill="#1f3d70"/>
<circle cx="166.24" cy="150.06" r="1.25" fill="#1f3d70"/>
<circle cx="167.94" cy="148.28" r="1.25" fill="#1f3d70"/>
<circle cx="166.89" cy="119.96" r="1.25" fill="#c23a3f"/>
<circle cx="169.25" cy="118.21" r="1.25" fill="#c23a3f"/>
<circle cx="172.10" cy="117.71" r="1.25" fill="#c23a3f"/>
<circle cx="175.54" cy="116.37" r="1.25" fill="#c23a3f"/>
<circle cx="179.26" cy="116.75" r="1.25" fill="#c23a3f"/>
<circle cx="182.21" cy="115.90" r="1.25" fill="#c23a3f"/>
<circle cx="170.20" cy="140.68" r="1.25" fill="#1f3d70"/>
<circle cx="173.02" cy="141.85" r="1.25" fill="#1f3d70"/>
<circle cx="175.16" cy="141.22" r="1.25" fill="#1f3d70"/>
<circle cx="177.89" cy="139.82" r="1.25" fill="#1f3d70"/>
<circle cx="179.85" cy="141.33" r="1.25" fill="#1f3d70"/>
<circle cx="182.40" cy="139.70" r="1.25" fill="#1f3d70"/>
<circle cx="183.92" cy="250.00" r="1.25" fill="#c23a3f"/>
<text class="b" transform="translate(186.30,203.20) scale(0.963,1)" font-size="11.3" text-anchor="middle" font-weight="bold" stroke="#111" stroke-width="0.25">Feature importance</text>
<text class="b" transform="translate(186.00,215.80) scale(0.914,1)" font-size="11.3" text-anchor="middle" font-weight="bold" stroke="#111" stroke-width="0.25">for CMD prediction</text>
<text class="t" transform="translate(201.57,65.07) rotate(-82.08) scale(0.895,1)" font-size="8.0">Total concentration of</text>
<text class="t" transform="translate(209.49,66.17) rotate(-82.08) scale(0.895,1)" font-size="8.0">lipoprotein particles</text>
<text class="t" transform="translate(238.60,75.03) rotate(-68.23) scale(0.895,1)" font-size="8.0">Total Lipids in HDL</text>
<text class="t" transform="translate(265.20,89.76) rotate(-54.38) scale(0.895,1)" font-size="8.0">Free cholesterol</text>
<text class="t" transform="translate(271.71,94.42) rotate(-54.38) scale(0.895,1)" font-size="8.0">in HDL</text>
<text class="t" transform="translate(290.76,112.75) rotate(-40.54) scale(0.895,1)" font-size="8.0">Cholesteryl esters</text>
<text class="t" transform="translate(295.96,118.83) rotate(-40.54) scale(0.895,1)" font-size="8.0">in HDL</text>
<text class="t" transform="translate(310.07,141.19) rotate(-26.69) scale(0.895,1)" font-size="8.0">Phospholipids</text>
<text class="t" transform="translate(313.67,148.34) rotate(-26.69) scale(0.895,1)" font-size="8.0">in HDL</text>
<text class="t" transform="translate(321.13,169.53) rotate(-12.85) scale(0.895,1)" font-size="8.0">Total phospholipids</text>
<text class="t" transform="translate(322.91,177.33) rotate(-12.85) scale(0.895,1)" font-size="8.0">in lipoprotein</text>
<text class="t" transform="translate(324.69,185.13) rotate(-12.85) scale(0.895,1)" font-size="8.0">particles</text>
<text class="t" transform="translate(325.83,211.59) rotate(1.00) scale(0.895,1)" font-size="8.0">HDL cholesterol</text>
<text class="t" transform="translate(322.52,237.82) rotate(14.85) scale(0.895,1)" font-size="8.0">Phospholipids</text>
<text class="t" transform="translate(320.47,245.55) rotate(14.85) scale(0.895,1)" font-size="8.0">to total lipids</text>
<text class="t" transform="translate(318.42,253.28) rotate(14.85) scale(0.895,1)" font-size="8.0">ratio in IDL</text>
<text class="t" transform="translate(310.98,270.23) rotate(28.69) scale(0.895,1)" font-size="8.0">Phospholipids to</text>
<text class="t" transform="translate(307.14,277.24) rotate(28.69) scale(0.895,1)" font-size="8.0">total lipids ratio</text>
<text class="t" transform="translate(303.30,284.26) rotate(28.69) scale(0.895,1)" font-size="8.0">in very small VLDL</text>
<text class="t" transform="translate(289.32,301.88) rotate(42.54) scale(0.895,1)" font-size="8.0">Free cholesterol</text>
<text class="t" transform="translate(283.91,307.77) rotate(42.54) scale(0.895,1)" font-size="8.0">in small HDL</text>
<text class="t" transform="translate(263.41,324.48) rotate(56.38) scale(0.895,1)" font-size="8.0">Cholesteryl esters</text>
<text class="t" transform="translate(256.75,328.91) rotate(56.38) scale(0.895,1)" font-size="8.0">in small HDL</text>
<text class="t" transform="translate(232.85,340.22) rotate(70.23) scale(0.895,1)" font-size="8.0">Cholesterol</text>
<text class="t" transform="translate(225.32,342.93) rotate(70.23) scale(0.895,1)" font-size="8.0">in small HDL</text>
<text class="t" transform="translate(199.41,348.19) rotate(84.08) scale(0.895,1)" font-size="8.0">Phospholipids</text>
<text class="t" transform="translate(191.45,349.02) rotate(84.08) scale(0.895,1)" font-size="8.0">in small HDL</text>
<text class="t" transform="translate(162.06,348.93) rotate(277.92) scale(0.895,1)" font-size="8.0" text-anchor="end">Total lipids</text>
<text class="t" transform="translate(169.99,350.04) rotate(277.92) scale(0.895,1)" font-size="8.0" text-anchor="end">in small HDL</text>
<text class="t" transform="translate(128.59,339.71) rotate(291.77) scale(0.895,1)" font-size="8.0" text-anchor="end">Concentration of</text>
<text class="t" transform="translate(136.02,342.68) rotate(291.77) scale(0.895,1)" font-size="8.0" text-anchor="end">small HDL particles</text>
<text class="t" transform="translate(98.30,322.75) rotate(305.62) scale(0.895,1)" font-size="8.0" text-anchor="end">Free cholesterol</text>
<text class="t" transform="translate(104.81,327.41) rotate(305.62) scale(0.895,1)" font-size="8.0" text-anchor="end">in medium HDL</text>
<text class="t" transform="translate(72.95,299.03) rotate(319.46) scale(0.895,1)" font-size="8.0" text-anchor="end">Cholesteryl esters</text>
<text class="t" transform="translate(78.15,305.11) rotate(319.46) scale(0.895,1)" font-size="8.0" text-anchor="end">in medium HDL</text>
<text class="t" transform="translate(54.02,269.93) rotate(333.31) scale(0.895,1)" font-size="8.0" text-anchor="end">Cholesterol in</text>
<text class="t" transform="translate(57.61,277.08) rotate(333.31) scale(0.895,1)" font-size="8.0" text-anchor="end">medium HDL</text>
<text class="t" transform="translate(42.59,237.15) rotate(347.15) scale(0.895,1)" font-size="8.0" text-anchor="end">Phospholipids</text>
<text class="t" transform="translate(44.37,244.95) rotate(347.15) scale(0.895,1)" font-size="8.0" text-anchor="end">in medium HDL</text>
<text class="t" transform="translate(39.35,202.59) rotate(361.00) scale(0.895,1)" font-size="8.0" text-anchor="end">Total lipids in</text>
<text class="t" transform="translate(39.21,210.59) rotate(361.00) scale(0.895,1)" font-size="8.0" text-anchor="end">medium HDL</text>
<text class="t" transform="translate(45.49,164.38) rotate(374.85) scale(0.895,1)" font-size="8.0" text-anchor="end">Concentration of</text>
<text class="t" transform="translate(43.44,172.12) rotate(374.85) scale(0.895,1)" font-size="8.0" text-anchor="end">medium HDL</text>
<text class="t" transform="translate(41.39,179.85) rotate(374.85) scale(0.895,1)" font-size="8.0" text-anchor="end">particles</text>
<text class="t" transform="translate(55.73,139.65) rotate(388.69) scale(0.895,1)" font-size="8.0" text-anchor="end">Apolipoprotein A1</text>
<text class="t" transform="translate(75.44,111.06) rotate(402.54) scale(0.895,1)" font-size="8.0" text-anchor="end">Phosphatidylcholines</text>
<text class="t" transform="translate(101.41,88.02) rotate(416.38) scale(0.895,1)" font-size="8.0" text-anchor="end">Total cholines</text>
<text class="t" transform="translate(132.15,71.87) rotate(430.23) scale(0.895,1)" font-size="8.0" text-anchor="end">Phosphoglycerides</text>
<text class="t" transform="translate(169.83,63.12) rotate(444.08) scale(0.895,1)" font-size="8.0" text-anchor="end">Concentration of</text>
<text class="t" transform="translate(161.88,63.95) rotate(444.08) scale(0.895,1)" font-size="8.0" text-anchor="end">HDL particles</text>
<path d="M30.2,424.5 A25,25 0 0 1 53.7,452" fill="none" stroke="#2a2a2a" stroke-width="1.3"/>
<text class="t" transform="translate(55.40,428.20) scale(0.93,1)" font-size="7.8" style="stroke-width:0.32px">+ Positive</text>
<text class="t" transform="translate(55.40,436.30) scale(0.95,1)" font-size="7.8" style="stroke-width:0.32px">contribution</text>
<text class="t" transform="translate(10.40,441.50) scale(0.9,1)" font-size="7.8" style="stroke-width:0.32px">− Negative</text>
<text class="t" transform="translate(10.40,449.60) scale(0.95,1)" font-size="7.8" style="stroke-width:0.32px">contribution</text>
<rect x="161.4" y="425.4" width="50.8" height="4.4" fill="url(#cbar)"/>
<text class="t" transform="translate(163.20,438.00) scale(0.91,1)" font-size="7.6" text-anchor="middle">−1.0</text>
<text class="t" transform="translate(186.60,438.00) scale(0.91,1)" font-size="7.6" text-anchor="middle">0.0</text>
<text class="t" transform="translate(212.00,438.00) scale(0.91,1)" font-size="7.6" text-anchor="middle">1.0</text>
<text class="t" transform="translate(187.00,449.80) scale(1.04,1)" font-size="6.4" text-anchor="middle" style="font-family:'Liberation Sans',sans-serif;stroke-width:0.3px">Normalized metabolite value</text>
<rect x="280.9" y="395.80" width="14.6" height="4.6" fill="#8a5346"/>
<text class="t" transform="translate(299.90,400.70) scale(0.91,1)" font-size="7.7">T2D</text>
<rect x="280.9" y="405.70" width="14.6" height="4.6" fill="#e4634e"/>
<text class="t" transform="translate(299.90,410.60) scale(0.91,1)" font-size="7.7">Myocardial infarction</text>
<rect x="280.9" y="415.60" width="14.6" height="4.6" fill="#fdd88a"/>
<text class="t" transform="translate(299.90,420.50) scale(0.91,1)" font-size="7.7">Heart failure</text>
<rect x="280.9" y="425.50" width="14.6" height="4.6" fill="#8ec8e6"/>
<text class="t" transform="translate(299.90,430.40) scale(0.91,1)" font-size="7.7">Stroke</text>
<rect x="280.9" y="435.40" width="14.6" height="4.6" fill="#5a8abd"/>
<text class="t" transform="translate(299.90,440.30) scale(0.91,1)" font-size="7.7">All-cause mortality</text>
<rect x="280.9" y="445.30" width="14.6" height="4.6" fill="#284a7e"/>
<text class="t" transform="translate(299.90,450.20) scale(0.91,1)" font-size="7.7">CMD mortality</text>
<text class="b" transform="translate(390.90,21.70)" font-size="16" font-weight="bold">b</text>
<text class="t" transform="translate(478.30,26.60) scale(0.91,1)" font-size="7.7" text-anchor="middle">T2D</text>
<text class="t" transform="translate(424.40,127.10) scale(0.94,1)" font-size="7.8" text-anchor="end">0.0%</text>
<text class="t" transform="translate(424.40,113.53) scale(0.94,1)" font-size="7.8" text-anchor="end">5.0%</text>
<text class="t" transform="translate(424.40,99.96) scale(0.94,1)" font-size="7.8" text-anchor="end">10.0%</text>
<text class="t" transform="translate(424.40,86.39) scale(0.94,1)" font-size="7.8" text-anchor="end">15.0%</text>
<text class="t" transform="translate(424.40,72.82) scale(0.94,1)" font-size="7.8" text-anchor="end">20.0%</text>
<text class="t" transform="translate(424.40,59.25) scale(0.94,1)" font-size="7.8" text-anchor="end">25.0%</text>
<text class="t" transform="translate(424.40,45.68) scale(0.94,1)" font-size="7.8" text-anchor="end">30.0%</text>
<text class="t" transform="translate(430.50,137.10) scale(0.94,1)" font-size="7.8" text-anchor="middle">0</text>
<text class="t" transform="translate(444.00,137.10) scale(0.94,1)" font-size="7.8" text-anchor="middle">2</text>
<text class="t" transform="translate(457.50,137.10) scale(0.94,1)" font-size="7.8" text-anchor="middle">4</text>
<text class="t" transform="translate(471.00,137.10) scale(0.94,1)" font-size="7.8" text-anchor="middle">6</text>
<text class="t" transform="translate(484.50,137.10) scale(0.94,1)" font-size="7.8" text-anchor="middle">8</text>
<text class="t" transform="translate(498.00,137.10) scale(0.94,1)" font-size="7.8" text-anchor="middle">10</text>
<text class="t" transform="translate(511.50,137.10) scale(0.94,1)" font-size="7.8" text-anchor="middle">12</text>
<text class="t" transform="translate(400.90,80.50) rotate(-90.00) scale(0.91,1)" font-size="7.7" text-anchor="middle">Cumulative hazard</text>
<path d="M430.50,124.50 H432.66 V124.32 H434.81 V124.14 H435.64 V124.07 H436.51 V124.00 H438.49 V123.83 H440.33 V123.68 H442.06 V123.54 H443.26 V123.44 H444.91 V123.26 H446.55 V123.04 H448.15 V122.83 H449.13 V122.71 H450.51 V122.53 H451.84 V122.35 H453.66 V122.11 H455.88 V121.82 H458.03 V121.52 H459.58 V121.24 H460.98 V120.99 H462.12 V120.79 H462.92 V120.65 H463.70 V120.51 H465.14 V120.25 H466.35 V120.04 H467.66 V119.80 H469.73 V119.43 H471.25 V119.13 H472.82 V118.67 H473.92 V118.34 H474.69 V118.11 H475.92 V117.75 H476.87 V117.47 H478.37 V117.02 H480.59 V116.36 H482.33 V115.84 H483.35 V115.54 H485.42 V114.95 H487.34 V114.43 H489.18 V113.93 H491.26 V113.36 H493.14 V112.84 H495.06 V112.32 H496.32 V111.97 H498.52 V111.30 H500.69 V110.40 H501.68 V109.99 H503.54 V109.22 H505.34 V108.47 H506.77 V107.87 H508.30 V107.24 H509.77 V106.63 H511.89 V105.78 H513.37 V105.29 H515.35 V104.65 H516.62 V104.23 H518.67 V103.55 H520.75 V102.87 H522.18 V102.58 H523.76 V102.56 H525.87 V102.53 H527.69 V102.51 H528.04 V102.51 L528.04,111.21 V111.21 H527.69 V111.18 H525.87 V111.16 H523.76 V111.14 H522.18 V111.32 H520.75 V111.75 H518.67 V112.17 H516.62 V112.44 H515.35 V112.85 H513.37 V113.16 H511.89 V113.70 H509.77 V114.10 H508.30 V114.51 H506.77 V114.89 H505.34 V115.37 H503.54 V115.87 H501.68 V116.14 H500.69 V116.72 H498.52 V117.14 H496.32 V117.36 H495.06 V117.68 H493.14 V118.00 H491.26 V118.35 H489.18 V118.66 H487.34 V118.99 H485.42 V119.36 H483.35 V119.54 H482.33 V119.87 H480.59 V120.28 H478.37 V120.56 H476.87 V120.74 H475.92 V120.96 H474.69 V121.11 H473.92 V121.31 H472.82 V121.60 H471.25 V121.78 H469.73 V122.00 H467.66 V122.13 H466.35 V122.26 H465.14 V122.40 H463.70 V122.49 H462.92 V122.57 H462.12 V122.69 H460.98 V122.83 H459.58 V122.99 H458.03 V123.16 H455.88 V123.32 H453.66 V123.44 H451.84 V123.54 H450.51 V123.63 H449.13 V123.70 H448.15 V123.82 H446.55 V123.93 H444.91 V124.02 H443.26 V124.07 H442.06 V124.13 H440.33 V124.20 H438.49 V124.28 H436.51 V124.31 H435.64 V124.34 H434.81 V124.42 H432.66 V124.50 H430.50 Z" fill="#fef4de" opacity="0.85"/>
<path d="M430.50,124.50 H431.60 V124.44 H433.15 V124.35 H434.44 V124.28 H436.08 V124.19 H437.75 V124.10 H438.59 V124.05 H439.35 V124.01 H441.34 V123.90 H442.47 V123.84 H443.56 V123.78 H445.78 V123.66 H447.22 V123.58 H449.20 V123.47 H450.65 V123.39 H452.34 V123.29 H453.31 V123.24 H454.99 V123.15 H457.03 V123.03 H458.55 V122.95 H460.39 V122.85 H462.13 V122.75 H462.97 V122.71 H464.83 V122.60 H466.46 V122.51 H467.64 V122.45 H468.43 V122.40 H470.46 V122.29 H471.91 V122.21 H473.72 V122.11 H475.76 V122.00 H477.57 V121.90 H479.68 V121.78 H481.01 V121.71 H482.94 V121.60 H484.34 V121.52 H486.47 V121.41 H488.52 V121.29 H489.41 V121.24 H490.35 V121.19 H491.42 V121.13 H493.59 V121.01 H494.98 V120.94 H496.66 V120.84 H497.85 V120.78 H499.34 V120.63 H500.66 V120.49 H501.92 V120.36 H503.53 V120.19 H505.14 V120.05 H507.23 V120.01 H508.98 V119.98 H511.10 V119.93 H513.12 V119.89 H515.33 V119.85 H517.07 V119.81 H518.06 V119.79 H520.08 V119.75 H522.25 V119.71 H524.34 V119.66 H525.93 V119.63 H527.73 V119.60 H528.04 V119.59 L528.04,122.35 V122.35 H527.73 V122.36 H525.93 V122.37 H524.34 V122.37 H522.25 V122.38 H520.08 V122.38 H518.06 V122.39 H517.07 V122.39 H515.33 V122.40 H513.12 V122.40 H511.10 V122.41 H508.98 V122.42 H507.23 V122.42 H505.14 V122.49 H503.53 V122.58 H501.92 V122.65 H500.66 V122.73 H499.34 V122.81 H497.85 V122.84 H496.66 V122.88 H494.98 V122.91 H493.59 V122.97 H491.42 V123.00 H490.35 V123.02 H489.41 V123.04 H488.52 V123.09 H486.47 V123.15 H484.34 V123.18 H482.94 V123.23 H481.01 V123.26 H479.68 V123.32 H477.57 V123.36 H475.76 V123.41 H473.72 V123.46 H471.91 V123.50 H470.46 V123.55 H468.43 V123.57 H467.64 V123.60 H466.46 V123.64 H464.83 V123.68 H462.97 V123.71 H462.13 V123.75 H460.39 V123.80 H458.55 V123.83 H457.03 V123.88 H454.99 V123.93 H453.31 V123.95 H452.34 V123.99 H450.65 V124.03 H449.20 V124.08 H447.22 V124.12 H445.78 V124.17 H443.56 V124.20 H442.47 V124.23 H441.34 V124.28 H439.35 V124.30 H438.59 V124.32 H437.75 V124.36 H436.08 V124.40 H434.44 V124.43 H433.15 V124.47 H431.60 V124.50 H430.50 Z" fill="#e4ebf4" opacity="0.85"/>
<path d="M430.50,124.50 H431.44 V122.66 H433.44 V121.55 H435.32 V120.51 H436.44 V119.89 H437.92 V118.94 H439.33 V118.02 H441.04 V116.91 H442.95 V115.66 H443.83 V114.98 H444.62 V114.32 H446.60 V112.63 H447.99 V111.46 H449.86 V109.87 H450.61 V109.24 H452.01 V108.04 H453.83 V106.50 H454.91 V105.59 H457.05 V103.27 H459.14 V100.36 H459.92 V99.26 H460.70 V98.17 H462.25 V96.01 H464.39 V93.02 H465.70 V91.35 H466.76 V90.07 H468.13 V88.43 H468.92 V87.48 H469.99 V86.16 H471.38 V84.45 H472.86 V82.63 H473.95 V81.29 H475.03 V79.95 H476.10 V78.63 H477.53 V76.88 H478.70 V75.44 H479.47 V74.48 H481.46 V72.04 H483.03 V70.10 H484.72 V68.08 H485.74 V67.15 H487.96 V65.11 H489.98 V63.26 H490.90 V62.40 H492.14 V61.23 H493.95 V59.51 H495.75 V57.80 H497.88 V55.78 H499.25 V54.48 H501.23 V52.14 H502.96 V48.93 H504.16 V46.73 H505.77 V43.75 H507.83 V39.96 H509.82 V37.47 H511.32 V36.46 H512.93 V35.36 H513.73 V34.82 H514.83 V34.07 H516.76 V32.76 H518.12 V32.16 H519.12 V32.07 H520.67 V31.93 H522.46 V31.78 H524.20 V31.63 H525.50 V31.51 H526.90 V31.39 H528.04 V31.29 L528.04,53.10 V53.12 H526.90 V53.15 H525.50 V53.17 H524.20 V53.20 H522.46 V53.23 H520.67 V53.25 H519.12 V53.27 H518.12 V53.69 H516.76 V54.66 H514.83 V55.22 H513.73 V55.62 H512.93 V56.44 H511.32 V57.19 H509.82 V59.13 H507.83 V62.14 H505.77 V64.50 H504.16 V66.25 H502.96 V68.79 H501.23 V70.62 H499.25 V71.61 H497.88 V73.16 H495.75 V74.47 H493.95 V75.78 H492.14 V76.68 H490.90 V77.34 H489.98 V78.75 H487.96 V80.31 H485.74 V81.02 H484.72 V82.59 H483.03 V84.10 H481.46 V86.00 H479.47 V86.74 H478.70 V87.87 H477.53 V89.24 H476.10 V90.26 H475.03 V91.30 H473.95 V92.34 H472.86 V93.76 H471.38 V95.10 H469.99 V96.13 H468.92 V96.86 H468.13 V98.14 H466.76 V99.13 H465.70 V100.44 H464.39 V102.78 H462.25 V104.48 H460.70 V105.33 H459.92 V106.20 H459.14 V108.48 H457.05 V110.27 H454.91 V110.96 H453.83 V112.13 H452.01 V113.04 H450.61 V113.52 H449.86 V114.72 H447.99 V115.61 H446.60 V116.89 H444.62 V117.40 H443.83 V117.90 H442.95 V118.83 H441.04 V119.65 H439.33 V120.33 H437.92 V121.03 H436.44 V121.48 H435.32 V122.23 H433.44 V123.03 H431.44 V124.50 H430.50 Z" fill="#fbe4e6" opacity="0.85"/>
<path d="M430.50,124.50 H432.66 V124.37 H434.81 V124.24 H435.64 V124.19 H436.51 V124.14 H438.49 V124.02 H440.33 V123.91 H442.06 V123.80 H443.26 V123.73 H444.91 V123.59 H446.55 V123.43 H448.15 V123.27 H449.13 V123.17 H450.51 V123.03 H451.84 V122.90 H453.66 V122.72 H455.88 V122.49 H458.03 V122.25 H459.58 V122.04 H460.98 V121.84 H462.12 V121.68 H462.92 V121.57 H463.70 V121.46 H465.14 V121.25 H466.35 V121.08 H467.66 V120.90 H469.73 V120.61 H471.25 V120.37 H472.82 V119.99 H473.92 V119.73 H474.69 V119.54 H475.92 V119.24 H476.87 V119.01 H478.37 V118.65 H480.59 V118.12 H482.33 V117.69 H483.35 V117.45 H485.42 V116.97 H487.34 V116.54 H489.18 V116.14 H491.26 V115.68 H493.14 V115.26 H495.06 V114.84 H496.32 V114.56 H498.52 V114.01 H500.69 V113.27 H501.68 V112.93 H503.54 V112.29 H505.34 V111.68 H506.77 V111.19 H508.30 V110.67 H509.77 V110.16 H511.89 V109.47 H513.37 V109.07 H515.35 V108.54 H516.62 V108.20 H518.67 V107.65 H520.75 V107.09 H522.18 V106.86 H523.76 V106.86 H525.87 V106.86 H527.69 V106.86 H528.04 V106.86" fill="none" stroke="#fdd27c" stroke-width="2.9" stroke-linejoin="round"/>
<path d="M434.46,122.47v3.8M435.51,122.34v3.8M439.26,122.12v3.8M440.86,122.01v3.8M445.53,121.69v3.8M446.61,121.53v3.8M450.88,121.13v3.8M454.42,120.82v3.8M458.62,120.35v3.8M463.34,119.67v3.8M465.25,119.35v3.8M467.51,119.18v3.8M471.16,118.71v3.8M473.21,118.09v3.8M475.20,117.64v3.8M477.06,117.11v3.8M481.26,116.22v3.8M485.52,115.07v3.8M489.49,114.24v3.8M491.33,113.78v3.8M495.78,112.94v3.8M498.69,112.11v3.8M500.56,112.11v3.8M503.27,111.03v3.8M505.84,109.78v3.8M507.14,109.29v3.8M510.25,108.26v3.8M512.60,107.57v3.8M515.73,106.64v3.8M520.19,105.75v3.8M523.60,104.96v3.8M526.12,104.96v3.8" stroke="#fdd27c" stroke-width="0.9" fill="none"/>
<path d="M430.50,124.50 H431.60 V124.46 H433.15 V124.39 H434.44 V124.34 H436.08 V124.28 H437.75 V124.21 H438.59 V124.17 H439.35 V124.14 H441.34 V124.06 H442.47 V124.02 H443.56 V123.98 H445.78 V123.89 H447.22 V123.83 H449.20 V123.75 H450.65 V123.69 H452.34 V123.62 H453.31 V123.58 H454.99 V123.52 H457.03 V123.43 H458.55 V123.37 H460.39 V123.30 H462.13 V123.23 H462.97 V123.19 H464.83 V123.12 H466.46 V123.05 H467.64 V123.01 H468.43 V122.97 H470.46 V122.89 H471.91 V122.84 H473.72 V122.76 H475.76 V122.68 H477.57 V122.61 H479.68 V122.52 H481.01 V122.47 H482.94 V122.39 H484.34 V122.34 H486.47 V122.25 H488.52 V122.17 H489.41 V122.13 H490.35 V122.09 H491.42 V122.05 H493.59 V121.96 H494.98 V121.91 H496.66 V121.84 H497.85 V121.79 H499.34 V121.68 H500.66 V121.57 H501.92 V121.47 H503.53 V121.34 H505.14 V121.24 H507.23 V121.21 H508.98 V121.19 H511.10 V121.17 H513.12 V121.15 H515.33 V121.12 H517.07 V121.10 H518.06 V121.09 H520.08 V121.06 H522.25 V121.04 H524.34 V121.01 H525.93 V121.00 H527.73 V120.98 H528.04 V120.97" fill="none" stroke="#3d7dba" stroke-width="2.5" stroke-linejoin="round"/>
<path d="M434.44,122.49v3.8M435.97,122.44v3.8M437.07,122.38v3.8M441.79,122.16v3.8M443.49,122.12v3.8M444.95,122.08v3.8M448.38,121.93v3.8M450.67,121.79v3.8M454.99,121.68v3.8M456.86,121.62v3.8M461.44,121.40v3.8M463.64,121.29v3.8M466.88,121.15v3.8M471.35,120.99v3.8M474.91,120.86v3.8M479.35,120.71v3.8M482.99,120.49v3.8M484.18,120.49v3.8M488.47,120.35v3.8M491.67,120.15v3.8M493.84,120.06v3.8M495.55,120.01v3.8M499.72,119.78v3.8M502.90,119.57v3.8M507.39,119.31v3.8M511.28,119.27v3.8M515.86,119.22v3.8M518.97,119.19v3.8M522.58,119.14v3.8M525.87,119.11v3.8" stroke="#3d7dba" stroke-width="0.9" fill="none"/>
<path d="M430.50,124.50 H431.44 V122.86 H433.44 V121.91 H435.32 V121.02 H436.44 V120.49 H437.92 V119.67 H439.33 V118.88 H441.04 V117.92 H442.95 V116.84 H443.83 V116.25 H444.62 V115.67 H446.60 V114.20 H447.99 V113.18 H449.86 V111.79 H450.61 V111.23 H452.01 V110.20 H453.83 V108.85 H454.91 V108.05 H457.05 V106.01 H459.14 V103.44 H459.92 V102.46 H460.70 V101.50 H462.25 V99.58 H464.39 V96.94 H465.70 V95.46 H466.76 V94.33 H468.13 V92.88 H468.92 V92.05 H469.99 V90.88 H471.38 V89.37 H472.86 V87.76 H473.95 V86.58 H475.03 V85.40 H476.10 V84.24 H477.53 V82.69 H478.70 V81.41 H479.47 V80.57 H481.46 V78.41 H483.03 V76.71 H484.72 V74.93 H485.74 V74.11 H487.96 V72.32 H489.98 V70.70 H490.90 V69.95 H492.14 V68.92 H493.95 V67.41 H495.75 V65.92 H497.88 V64.15 H499.25 V63.01 H501.23 V60.94 H502.96 V58.09 H504.16 V56.13 H505.77 V53.48 H507.83 V50.11 H509.82 V47.91 H511.32 V47.03 H512.93 V46.08 H513.73 V45.61 H514.83 V44.96 H516.76 V43.83 H518.12 V43.32 H519.12 V43.27 H520.67 V43.19 H522.46 V43.10 H524.20 V43.01 H525.50 V42.94 H526.90 V42.87 H528.04 V42.81" fill="none" stroke="#d33d4c" stroke-width="3.1" stroke-linejoin="round"/>
<path d="M432.46,120.96v3.8M437.05,118.59v3.8M438.53,117.77v3.8M442.16,116.02v3.8M443.49,114.94v3.8M445.42,113.77v3.8M450.14,109.89v3.8M451.93,109.33v3.8M455.32,106.15v3.8M458.04,104.11v3.8M460.74,99.60v3.8M463.59,97.68v3.8M465.31,95.04v3.8M469.41,90.15v3.8M470.75,88.98v3.8M472.64,87.47v3.8M473.72,85.86v3.8M475.73,83.50v3.8M478.25,80.79v3.8M482.61,76.51v3.8M485.03,73.03v3.8M486.47,72.21v3.8M488.44,70.42v3.8M493.13,67.02v3.8M494.38,65.51v3.8M497.69,64.02v3.8M500.11,61.11v3.8M503.57,56.19v3.8M505.84,51.58v3.8M509.42,48.21v3.8M512.28,45.13v3.8M515.71,43.06v3.8M520.06,41.37v3.8M523.24,41.20v3.8M524.78,41.11v3.8M526.03,41.04v3.8" stroke="#d33d4c" stroke-width="0.9" fill="none"/>
<text class="b" transform="translate(543.40,21.70)" font-size="16" font-weight="bold">c</text>
<text class="t" transform="translate(626.40,26.60) scale(0.91,1)" font-size="7.7" text-anchor="middle">Stroke</text>
<text class="t" transform="translate(576.20,127.10) scale(0.94,1)" font-size="7.8" text-anchor="end">0.0%</text>
<text class="t" transform="translate(576.20,111.93) scale(0.94,1)" font-size="7.8" text-anchor="end">1.0%</text>
<text class="t" transform="translate(576.20,96.76) scale(0.94,1)" font-size="7.8" text-anchor="end">2.0%</text>
<text class="t" transform="translate(576.20,81.59) scale(0.94,1)" font-size="7.8" text-anchor="end">3.0%</text>
<text class="t" transform="translate(576.20,66.42) scale(0.94,1)" font-size="7.8" text-anchor="end">4.0%</text>
<text class="t" transform="translate(576.20,51.25) scale(0.94,1)" font-size="7.8" text-anchor="end">5.0%</text>
<text class="t" transform="translate(576.20,36.08) scale(0.94,1)" font-size="7.8" text-anchor="end">6.0%</text>
<text class="t" transform="translate(582.30,137.10) scale(0.94,1)" font-size="7.8" text-anchor="middle">0</text>
<text class="t" transform="translate(595.80,137.10) scale(0.94,1)" font-size="7.8" text-anchor="middle">2</text>
<text class="t" transform="translate(609.30,137.10) scale(0.94,1)" font-size="7.8" text-anchor="middle">4</text>
<text class="t" transform="translate(622.80,137.10) scale(0.94,1)" font-size="7.8" text-anchor="middle">6</text>
<text class="t" transform="translate(636.30,137.10) scale(0.94,1)" font-size="7.8" text-anchor="middle">8</text>
<text class="t" transform="translate(649.80,137.10) scale(0.94,1)" font-size="7.8" text-anchor="middle">10</text>
<text class="t" transform="translate(663.30,137.10) scale(0.94,1)" font-size="7.8" text-anchor="middle">12</text>
<path d="M582.30,124.50 H584.93 V123.89 H588.06 V123.17 H591.21 V122.45 H592.94 V122.05 H594.32 V121.62 H596.68 V120.85 H598.77 V120.17 H602.31 V119.02 H605.52 V117.97 H608.50 V117.01 H611.36 V116.08 H614.49 V114.81 H616.23 V114.11 H618.77 V113.08 H620.56 V112.36 H624.36 V110.38 H625.86 V109.34 H629.43 V106.89 H630.98 V105.83 H634.18 V104.29 H636.44 V103.19 H638.88 V102.01 H642.51 V100.48 H643.91 V99.94 H645.42 V99.36 H649.24 V97.61 H651.97 V95.06 H653.56 V91.87 H657.58 V86.37 H661.48 V81.19 H663.14 V78.86 H665.63 V75.34 H667.35 V73.85 H669.54 V73.77 H672.57 V73.67 H674.36 V73.61 H677.59 V73.50 H679.08 V73.45 H679.84 V73.43 L679.84,105.60 V105.58 H679.08 V105.53 H677.59 V105.42 H674.36 V105.36 H672.57 V105.25 H669.54 V105.18 H667.35 V105.79 H665.63 V107.30 H663.14 V108.30 H661.48 V110.51 H657.58 V112.87 H653.56 V114.27 H651.97 V115.32 H649.24 V115.94 H645.42 V116.14 H643.91 V116.32 H642.51 V116.85 H638.88 V117.28 H636.44 V117.68 H634.18 V118.24 H630.98 V118.65 H629.43 V119.61 H625.86 V120.02 H624.36 V120.75 H620.56 V121.00 H618.77 V121.35 H616.23 V121.59 H614.49 V122.02 H611.36 V122.31 H608.50 V122.62 H605.52 V122.94 H602.31 V123.30 H598.77 V123.51 H596.68 V123.75 H594.32 V123.89 H592.94 V123.99 H591.21 V124.17 H588.06 V124.35 H584.93 V124.50 H582.30 Z" fill="#fef4de" opacity="0.85"/>
<path d="M582.30,124.50 H584.35 V124.28 H587.55 V123.93 H590.75 V123.58 H594.39 V123.18 H596.24 V122.98 H598.21 V122.76 H599.96 V122.57 H601.92 V122.34 H605.25 V120.81 H606.95 V120.03 H609.74 V118.75 H611.66 V117.99 H613.81 V117.78 H616.33 V117.52 H619.94 V117.17 H622.93 V114.86 H624.32 V113.59 H626.41 V113.42 H628.16 V113.28 H631.86 V112.97 H635.40 V112.68 H638.92 V112.39 H642.51 V111.50 H645.87 V110.31 H649.78 V108.91 H653.27 V107.41 H655.32 V106.53 H658.96 V104.97 H661.63 V104.35 H665.01 V103.94 H667.89 V102.94 H670.40 V99.57 H672.73 V95.80 H675.24 V93.28 H677.44 V93.24 H679.10 V93.20 H679.84 V93.18 L679.84,115.77 V115.75 H679.10 V115.72 H677.44 V115.67 H675.24 V116.53 H672.73 V117.87 H670.40 V119.06 H667.89 V119.35 H665.01 V119.39 H661.63 V119.54 H658.96 V120.02 H655.32 V120.29 H653.27 V120.74 H649.78 V121.14 H645.87 V121.49 H642.51 V121.71 H638.92 V121.71 H635.40 V121.71 H631.86 V121.71 H628.16 V121.71 H626.41 V121.71 H624.32 V122.14 H622.93 V122.91 H619.94 V122.94 H616.33 V122.95 H613.81 V122.97 H611.66 V123.19 H609.74 V123.59 H606.95 V123.83 H605.25 V124.30 H601.92 V124.32 H599.96 V124.34 H598.21 V124.36 H596.24 V124.38 H594.39 V124.41 H590.75 V124.45 H587.55 V124.48 H584.35 V124.50 H582.30 Z" fill="#e4ebf4" opacity="0.85"/>
<path d="M582.30,124.50 H584.55 V123.64 H587.05 V122.67 H590.42 V120.97 H592.70 V119.81 H595.08 V118.25 H597.65 V116.50 H599.27 V115.39 H601.66 V113.76 H604.33 V110.90 H607.38 V107.19 H608.79 V105.05 H610.68 V102.15 H612.08 V99.92 H615.17 V94.81 H617.99 V90.15 H619.27 V88.04 H622.77 V84.57 H626.23 V82.56 H628.96 V80.99 H631.60 V79.18 H633.15 V77.66 H634.37 V76.48 H636.80 V74.10 H638.12 V72.81 H639.75 V71.22 H641.50 V69.65 H642.75 V68.58 H645.03 V66.65 H647.25 V64.76 H650.42 V61.73 H652.83 V58.41 H655.53 V54.16 H657.89 V47.05 H660.63 V46.41 H662.90 V45.92 H664.73 V45.51 H668.27 V44.74 H671.81 V43.78 H674.97 V34.61 H677.83 V34.26 H679.75 V34.02 H679.84 V34.01 L679.84,83.22 V83.22 H679.75 V83.22 H677.83 V83.21 H674.97 V87.85 H671.81 V88.11 H668.27 V88.28 H664.73 V88.37 H662.90 V88.48 H660.63 V88.63 H657.89 V92.24 H655.53 V94.30 H652.83 V95.90 H650.42 V97.29 H647.25 V98.14 H645.03 V99.01 H642.75 V99.48 H641.50 V100.19 H639.75 V100.93 H638.12 V101.52 H636.80 V102.61 H634.37 V103.16 H633.15 V103.86 H631.60 V104.63 H628.96 V105.28 H626.23 V106.11 H622.77 V107.71 H619.27 V108.74 H617.99 V111.02 H615.17 V113.52 H612.08 V114.60 H610.68 V116.01 H608.79 V117.05 H607.38 V118.80 H604.33 V120.13 H601.66 V120.84 H599.27 V121.31 H597.65 V122.07 H595.08 V122.73 H592.70 V123.18 H590.42 V123.86 H587.05 V124.20 H584.55 V124.50 H582.30 Z" fill="#fbe4e6" opacity="0.85"/>
<path d="M582.30,124.50 H584.93 V124.13 H588.06 V123.69 H591.21 V123.25 H592.94 V123.01 H594.32 V122.73 H596.68 V122.24 H598.77 V121.80 H602.31 V121.07 H605.52 V120.40 H608.50 V119.78 H611.36 V119.18 H614.49 V118.35 H616.23 V117.89 H618.77 V117.22 H620.56 V116.75 H624.36 V115.43 H625.86 V114.72 H629.43 V113.05 H630.98 V112.34 H634.18 V111.31 H636.44 V110.58 H638.88 V109.80 H642.51 V108.79 H643.91 V108.44 H645.42 V108.06 H649.24 V106.91 H651.97 V105.15 H653.56 V102.91 H657.58 V99.08 H661.48 V95.47 H663.14 V93.84 H665.63 V91.39 H667.35 V90.37 H669.54 V90.37 H672.57 V90.37 H674.36 V90.37 H677.59 V90.37 H679.08 V90.37 H679.84 V90.37" fill="none" stroke="#fdd27c" stroke-width="2.6" stroke-linejoin="round"/>
<path d="M584.19,122.60v3.8M587.48,122.23v3.8M588.89,121.79v3.8M593.27,121.11v3.8M594.99,120.83v3.8M597.72,120.34v3.8M601.59,119.90v3.8M605.98,118.50v3.8M609.15,117.88v3.8M612.69,117.28v3.8M615.70,116.45v3.8M619.85,115.32v3.8M621.70,114.85v3.8M625.25,113.53v3.8M628.49,112.82v3.8M631.24,110.44v3.8M633.85,110.44v3.8M634.88,109.41v3.8M637.98,108.68v3.8M640.59,107.90v3.8M643.90,106.89v3.8M646.60,106.16v3.8M651.04,105.01v3.8M654.59,101.01v3.8M658.00,97.18v3.8M659.83,97.18v3.8M662.39,93.57v3.8M666.91,89.49v3.8M669.23,88.47v3.8M670.84,88.47v3.8M673.27,88.47v3.8M674.82,88.47v3.8M678.91,88.47v3.8" stroke="#fdd27c" stroke-width="0.9" fill="none"/>
<path d="M582.30,124.50 H584.35 V124.39 H587.55 V124.22 H590.75 V124.04 H594.39 V123.84 H596.24 V123.74 H598.21 V123.64 H599.96 V123.54 H601.92 V123.43 H605.25 V122.52 H606.95 V122.05 H609.74 V121.29 H611.66 V120.84 H613.81 V120.74 H616.33 V120.62 H619.94 V120.44 H622.93 V119.05 H624.32 V118.27 H626.41 V118.20 H628.16 V118.13 H631.86 V117.99 H635.40 V117.86 H638.92 V117.73 H642.51 V117.22 H645.87 V116.52 H649.78 V115.71 H653.27 V114.82 H655.32 V114.30 H658.96 V113.37 H661.63 V113.02 H665.01 V112.81 H667.89 V112.22 H670.40 V110.16 H672.73 V107.84 H675.24 V106.30 H677.44 V106.30 H679.10 V106.30 H679.84 V106.30" fill="none" stroke="#3d7dba" stroke-width="2.3" stroke-linejoin="round"/>
<path d="M584.79,122.49v3.8M587.90,122.32v3.8M590.98,122.14v3.8M594.18,122.14v3.8M598.17,121.84v3.8M602.77,121.53v3.8M606.28,120.62v3.8M610.29,119.39v3.8M613.42,118.94v3.8M616.18,118.84v3.8M620.31,118.54v3.8M625.02,116.37v3.8M628.16,116.30v3.8M631.51,116.23v3.8M632.76,116.09v3.8M636.97,115.96v3.8M640.36,115.83v3.8M643.73,115.32v3.8M645.35,115.32v3.8M648.52,114.62v3.8M651.79,113.81v3.8M653.38,112.92v3.8M655.92,112.40v3.8M659.69,111.47v3.8M663.60,111.12v3.8M667.26,110.91v3.8M670.78,108.26v3.8M675.32,104.40v3.8" stroke="#3d7dba" stroke-width="0.9" fill="none"/>
<path d="M582.30,124.50 H584.55 V123.92 H587.05 V123.28 H590.42 V122.10 H592.70 V121.30 H595.08 V120.20 H597.65 V118.96 H599.27 V118.18 H601.66 V117.02 H604.33 V114.95 H607.38 V112.24 H608.79 V110.67 H610.68 V108.53 H612.08 V106.90 H615.17 V103.13 H617.99 V99.70 H619.27 V98.14 H622.77 V95.63 H626.23 V94.23 H628.96 V93.12 H631.60 V91.85 H633.15 V90.75 H634.37 V89.89 H636.80 V88.18 H638.12 V87.24 H639.75 V86.09 H641.50 V84.96 H642.75 V84.20 H645.03 V82.81 H647.25 V81.45 H650.42 V79.27 H652.83 V76.83 H655.53 V73.71 H657.89 V68.40 H660.63 V68.01 H662.90 V67.71 H664.73 V67.47 H668.27 V67.00 H671.81 V66.40 H674.97 V59.56 H677.83 V59.39 H679.75 V59.27 H679.84 V59.27" fill="none" stroke="#d33d4c" stroke-width="2.8" stroke-linejoin="round"/>
<path d="M585.85,122.02v3.8M587.22,121.38v3.8M591.66,120.20v3.8M595.39,118.30v3.8M597.35,118.30v3.8M599.95,116.28v3.8M601.09,116.28v3.8M602.65,115.12v3.8M606.08,113.05v3.8M609.96,108.77v3.8M611.68,106.63v3.8M615.27,101.23v3.8M617.69,101.23v3.8M620.73,96.24v3.8M624.84,93.73v3.8M626.73,92.33v3.8M628.39,92.33v3.8M630.98,91.22v3.8M635.62,87.99v3.8M638.14,85.34v3.8M642.28,83.06v3.8M643.94,82.30v3.8M647.75,79.55v3.8M651.95,77.37v3.8M654.32,74.93v3.8M656.10,71.81v3.8M657.49,71.81v3.8M659.03,66.50v3.8M661.13,66.11v3.8M664.35,65.81v3.8M668.61,65.10v3.8M670.58,65.10v3.8M675.04,57.66v3.8M676.68,57.66v3.8" stroke="#d33d4c" stroke-width="0.9" fill="none"/>
<text class="b" transform="translate(390.50,164.50)" font-size="16" font-weight="bold">d</text>
<text class="t" transform="translate(478.30,169.40) scale(0.91,1)" font-size="7.7" text-anchor="middle">Myocardial infarction</text>
<text class="t" transform="translate(424.40,269.80) scale(0.94,1)" font-size="7.8" text-anchor="end">0.0%</text>
<text class="t" transform="translate(424.40,256.30) scale(0.94,1)" font-size="7.8" text-anchor="end">2.0%</text>
<text class="t" transform="translate(424.40,242.80) scale(0.94,1)" font-size="7.8" text-anchor="end">4.0%</text>
<text class="t" transform="translate(424.40,229.30) scale(0.94,1)" font-size="7.8" text-anchor="end">6.0%</text>
<text class="t" transform="translate(424.40,215.80) scale(0.94,1)" font-size="7.8" text-anchor="end">8.0%</text>
<text class="t" transform="translate(424.40,202.30) scale(0.94,1)" font-size="7.8" text-anchor="end">10.0%</text>
<text class="t" transform="translate(424.40,188.80) scale(0.94,1)" font-size="7.8" text-anchor="end">12.0%</text>
<text class="t" transform="translate(430.50,279.80) scale(0.94,1)" font-size="7.8" text-anchor="middle">0</text>
<text class="t" transform="translate(444.00,279.80) scale(0.94,1)" font-size="7.8" text-anchor="middle">2</text>
<text class="t" transform="translate(457.50,279.80) scale(0.94,1)" font-size="7.8" text-anchor="middle">4</text>
<text class="t" transform="translate(471.00,279.80) scale(0.94,1)" font-size="7.8" text-anchor="middle">6</text>
<text class="t" transform="translate(484.50,279.80) scale(0.94,1)" font-size="7.8" text-anchor="middle">8</text>
<text class="t" transform="translate(498.00,279.80) scale(0.94,1)" font-size="7.8" text-anchor="middle">10</text>
<text class="t" transform="translate(511.50,279.80) scale(0.94,1)" font-size="7.8" text-anchor="middle">12</text>
<text class="t" transform="translate(400.90,223.20) rotate(-90.00) scale(0.91,1)" font-size="7.7" text-anchor="middle">Cumulative hazard</text>
<path d="M430.50,267.20 H432.67 V267.11 H433.62 V267.07 H434.39 V267.04 H436.62 V266.95 H437.64 V266.91 H438.56 V266.87 H440.27 V266.80 H441.52 V266.75 H443.59 V266.66 H444.67 V266.62 H446.84 V266.53 H448.06 V266.48 H449.69 V266.41 H451.82 V266.33 H453.58 V266.25 H455.69 V266.17 H457.49 V266.09 H458.30 V266.06 H460.35 V265.98 H461.97 V265.91 H463.18 V265.86 H464.20 V265.82 H466.20 V265.15 H467.81 V264.61 H469.95 V263.88 H471.84 V263.24 H474.01 V262.50 H475.59 V261.96 H477.37 V261.35 H479.02 V260.79 H480.15 V260.41 H482.31 V259.67 H483.52 V259.26 H485.42 V258.62 H487.58 V257.88 H489.29 V257.30 H490.25 V256.98 H492.21 V256.12 H493.95 V255.19 H494.96 V254.65 H495.78 V254.21 H497.31 V253.39 H498.10 V252.96 H500.22 V251.55 H501.71 V250.56 H503.22 V249.55 H504.57 V248.65 H506.30 V247.98 H508.40 V247.22 H509.60 V246.78 H510.90 V246.31 H512.51 V245.73 H513.69 V245.30 H515.32 V244.84 H516.87 V244.71 H518.25 V244.60 H519.99 V244.46 H521.52 V244.33 H522.40 V244.26 H524.62 V244.08 H525.89 V243.97 H527.27 V243.86 H528.04 V243.80 L528.04,256.85 V256.87 H527.27 V256.90 H525.89 V256.92 H524.62 V256.97 H522.40 V256.99 H521.52 V257.02 H519.99 V257.06 H518.25 V257.08 H516.87 V257.12 H515.32 V257.33 H513.69 V257.53 H512.51 V257.81 H510.90 V258.03 H509.60 V258.24 H508.40 V258.60 H506.30 V258.92 H504.57 V259.37 H503.22 V259.88 H501.71 V260.38 H500.22 V261.09 H498.10 V261.31 H497.31 V261.71 H495.78 V261.93 H494.96 V262.20 H493.95 V262.66 H492.21 V263.07 H490.25 V263.23 H489.29 V263.50 H487.58 V263.85 H485.42 V264.15 H483.52 V264.34 H482.31 V264.69 H480.15 V264.87 H479.02 V265.13 H477.37 V265.42 H475.59 V265.67 H474.01 V266.02 H471.84 V266.32 H469.95 V266.66 H467.81 V266.92 H466.20 V267.20 H464.20 V267.20 H463.18 V267.20 H461.97 V267.20 H460.35 V267.20 H458.30 V267.20 H457.49 V267.20 H455.69 V267.20 H453.58 V267.20 H451.82 V267.20 H449.69 V267.20 H448.06 V267.20 H446.84 V267.20 H444.67 V267.20 H443.59 V267.20 H441.52 V267.20 H440.27 V267.20 H438.56 V267.20 H437.64 V267.20 H436.62 V267.20 H434.39 V267.20 H433.62 V267.20 H432.67 V267.20 H430.50 Z" fill="#fef4de" opacity="0.85"/>
<path d="M430.50,267.20 H432.62 V267.13 H434.77 V267.06 H436.83 V266.99 H437.70 V266.96 H439.32 V266.90 H440.69 V266.86 H442.22 V266.81 H443.16 V266.77 H444.19 V266.74 H445.59 V266.69 H446.66 V266.66 H448.08 V266.61 H448.86 V266.58 H449.73 V266.55 H451.53 V266.49 H452.89 V266.45 H454.40 V266.40 H456.23 V266.34 H457.51 V266.29 H458.33 V266.27 H460.24 V266.20 H461.86 V266.15 H463.58 V266.09 H465.24 V266.03 H467.43 V265.96 H468.71 V265.92 H470.58 V265.85 H471.87 V265.81 H473.46 V265.76 H475.18 V265.70 H476.39 V265.66 H477.26 V265.63 H478.71 V265.10 H480.52 V264.13 H482.14 V263.27 H483.54 V262.51 H485.24 V261.70 H486.25 V261.29 H487.26 V260.88 H488.48 V260.39 H490.44 V259.60 H491.47 V259.22 H492.38 V259.01 H493.27 V258.80 H494.07 V258.62 H495.22 V258.35 H496.82 V257.98 H498.78 V257.52 H500.01 V257.24 H501.30 V256.94 H502.47 V256.76 H503.67 V256.59 H505.57 V256.32 H507.12 V256.09 H508.25 V255.93 H509.15 V255.80 H511.06 V255.52 H512.85 V255.36 H514.82 V255.23 H515.92 V255.15 H517.47 V255.05 H519.58 V254.91 H521.20 V254.79 H523.35 V254.65 H524.34 V254.58 H526.53 V254.43 H527.35 V254.38 H528.04 V254.33 L528.04,262.52 V262.53 H527.35 V262.54 H526.53 V262.57 H524.34 V262.58 H523.35 V262.61 H521.20 V262.64 H519.58 V262.66 H517.47 V262.69 H515.92 V262.70 H514.82 V262.73 H512.85 V262.77 H511.06 V262.87 H509.15 V262.92 H508.25 V262.99 H507.12 V263.07 H505.57 V263.18 H503.67 V263.24 H502.47 V263.31 H501.30 V263.44 H500.01 V263.57 H498.78 V263.77 H496.82 V263.93 H495.22 V264.04 H494.07 V264.13 H493.27 V264.22 H492.38 V264.31 H491.47 V264.49 H490.44 V264.87 H488.48 V265.11 H487.26 V265.31 H486.25 V265.50 H485.24 V265.90 H483.54 V266.27 H482.14 V266.70 H480.52 V267.18 H478.71 V267.20 H477.26 V267.20 H476.39 V267.20 H475.18 V267.20 H473.46 V267.20 H471.87 V267.20 H470.58 V267.20 H468.71 V267.20 H467.43 V267.20 H465.24 V267.20 H463.58 V267.20 H461.86 V267.20 H460.24 V267.20 H458.33 V267.20 H457.51 V267.20 H456.23 V267.20 H454.40 V267.20 H452.89 V267.20 H451.53 V267.20 H449.73 V267.20 H448.86 V267.20 H448.08 V267.20 H446.66 V267.20 H445.59 V267.20 H444.19 V267.20 H443.16 V267.20 H442.22 V267.20 H440.69 V267.20 H439.32 V267.20 H437.70 V267.20 H436.83 V267.20 H434.77 V267.20 H432.62 V267.20 H430.50 Z" fill="#e4ebf4" opacity="0.85"/>
<path d="M430.50,267.20 H431.49 V266.82 H433.25 V266.13 H434.94 V265.48 H436.39 V264.91 H437.46 V264.49 H439.38 V263.68 H441.32 V262.85 H442.82 V262.21 H444.31 V261.58 H445.41 V261.12 H446.16 V260.80 H447.45 V260.25 H449.06 V259.57 H449.91 V259.21 H451.83 V257.77 H452.91 V256.67 H454.00 V255.58 H454.81 V254.76 H457.03 V251.58 H458.87 V248.95 H460.91 V246.74 H462.57 V245.21 H463.36 V244.48 H464.59 V243.35 H466.08 V241.98 H466.99 V241.14 H469.15 V238.63 H470.44 V236.65 H471.41 V235.16 H473.36 V232.15 H474.29 V230.73 H476.41 V227.90 H477.83 V226.16 H479.39 V224.25 H480.64 V222.71 H482.10 V220.92 H483.12 V219.67 H483.92 V218.70 H485.95 V215.78 H487.04 V213.83 H488.94 V210.44 H490.00 V208.57 H492.18 V204.68 H494.25 V200.99 H496.11 V197.69 H497.99 V194.40 H499.59 V191.58 H501.42 V188.41 H502.34 V187.55 H503.79 V186.21 H505.76 V184.38 H506.80 V183.42 H508.92 V181.46 H510.98 V179.55 H512.33 V178.30 H513.61 V177.11 H515.02 V175.97 H516.34 V175.93 H518.56 V175.86 H519.88 V175.82 H520.66 V175.80 H521.54 V175.77 H523.35 V175.72 H525.57 V173.20 H527.04 V173.16 H528.04 V173.13 L528.04,207.58 V207.55 H527.04 V207.51 H525.57 V209.12 H523.35 V209.07 H521.54 V209.04 H520.66 V209.02 H519.88 V208.98 H518.56 V208.91 H516.34 V208.87 H515.02 V209.59 H513.61 V210.34 H512.33 V211.13 H510.98 V212.33 H508.92 V213.57 H506.80 V214.18 H505.76 V215.33 H503.79 V216.18 H502.34 V216.72 H501.42 V218.80 H499.59 V220.66 H497.99 V222.82 H496.11 V224.99 H494.25 V227.42 H492.18 V229.98 H490.00 V231.21 H488.94 V233.44 H487.04 V234.72 H485.95 V236.62 H483.92 V237.25 H483.12 V238.06 H482.10 V239.21 H480.64 V240.20 H479.39 V241.43 H477.83 V242.55 H476.41 V244.39 H474.29 V245.32 H473.36 V247.28 H471.41 V248.26 H470.44 V249.55 H469.15 V251.16 H466.99 V251.69 H466.08 V252.56 H464.59 V253.27 H463.36 V253.73 H462.57 V254.70 H460.91 V256.11 H458.87 V257.83 H457.03 V259.90 H454.81 V260.41 H454.00 V261.11 H452.91 V261.81 H451.83 V262.70 H449.91 V262.90 H449.06 V263.29 H447.45 V263.60 H446.16 V263.78 H445.41 V264.04 H444.31 V264.40 H442.82 V264.76 H441.32 V265.23 H439.38 V265.69 H437.46 V265.93 H436.39 V266.24 H434.94 V266.61 H433.25 V266.99 H431.49 V267.20 H430.50 Z" fill="#fbe4e6" opacity="0.85"/>
<path d="M430.50,267.20 H432.67 V267.16 H433.62 V267.14 H434.39 V267.12 H436.62 V267.08 H437.64 V267.06 H438.56 V267.04 H440.27 V267.00 H441.52 V266.98 H443.59 V266.94 H444.67 V266.92 H446.84 V266.87 H448.06 V266.85 H449.69 V266.82 H451.82 V266.77 H453.58 V266.74 H455.69 V266.70 H457.49 V266.66 H458.30 V266.64 H460.35 V266.60 H461.97 V266.57 H463.18 V266.55 H464.20 V266.53 H466.20 V266.04 H467.81 V265.63 H469.95 V265.10 H471.84 V264.63 H474.01 V264.09 H475.59 V263.69 H477.37 V263.24 H479.02 V262.83 H480.15 V262.55 H482.31 V262.01 H483.52 V261.71 H485.42 V261.23 H487.58 V260.69 H489.29 V260.26 H490.25 V260.03 H492.21 V259.39 H493.95 V258.70 H494.96 V258.29 H495.78 V257.96 H497.31 V257.35 H498.10 V257.02 H500.22 V255.97 H501.71 V255.22 H503.22 V254.46 H504.57 V253.79 H506.30 V253.29 H508.40 V252.73 H509.60 V252.41 H510.90 V252.06 H512.51 V251.63 H513.69 V251.32 H515.32 V250.98 H516.87 V250.90 H518.25 V250.83 H519.99 V250.74 H521.52 V250.66 H522.40 V250.61 H524.62 V250.50 H525.89 V250.44 H527.27 V250.36 H528.04 V250.32" fill="none" stroke="#fdd27c" stroke-width="2.6" stroke-linejoin="round"/>
<path d="M433.42,265.26v3.8M436.43,265.22v3.8M440.76,265.10v3.8M445.43,265.02v3.8M449.32,264.95v3.8M451.87,264.87v3.8M454.87,264.84v3.8M458.89,264.74v3.8M462.06,264.67v3.8M464.09,264.65v3.8M465.82,264.63v3.8M470.41,263.20v3.8M471.66,263.20v3.8M472.76,262.73v3.8M475.73,261.79v3.8M477.40,261.34v3.8M479.30,260.93v3.8M482.67,260.11v3.8M486.54,259.33v3.8M489.49,258.36v3.8M494.08,256.80v3.8M497.29,256.06v3.8M499.56,255.12v3.8M503.25,252.56v3.8M505.03,251.89v3.8M507.94,251.39v3.8M511.32,250.16v3.8M512.77,249.73v3.8M515.38,249.08v3.8M519.52,248.93v3.8M522.68,248.71v3.8M527.11,248.54v3.8" stroke="#fdd27c" stroke-width="0.9" fill="none"/>
<path d="M430.50,267.20 H432.62 V267.17 H434.77 V267.14 H436.83 V267.11 H437.70 V267.10 H439.32 V267.07 H440.69 V267.05 H442.22 V267.03 H443.16 V267.02 H444.19 V267.00 H445.59 V266.98 H446.66 V266.97 H448.08 V266.95 H448.86 V266.94 H449.73 V266.93 H451.53 V266.90 H452.89 V266.88 H454.40 V266.86 H456.23 V266.83 H457.51 V266.81 H458.33 V266.80 H460.24 V266.78 H461.86 V266.75 H463.58 V266.73 H465.24 V266.70 H467.43 V266.67 H468.71 V266.65 H470.58 V266.63 H471.87 V266.61 H473.46 V266.59 H475.18 V266.56 H476.39 V266.54 H477.26 V266.53 H478.71 V266.14 H480.52 V265.42 H482.14 V264.77 H483.54 V264.21 H485.24 V263.60 H486.25 V263.30 H487.26 V263.00 H488.48 V262.63 H490.44 V262.04 H491.47 V261.76 H492.38 V261.61 H493.27 V261.46 H494.07 V261.33 H495.22 V261.14 H496.82 V260.87 H498.78 V260.55 H500.01 V260.34 H501.30 V260.12 H502.47 V260.00 H503.67 V259.88 H505.57 V259.69 H507.12 V259.54 H508.25 V259.43 H509.15 V259.33 H511.06 V259.14 H512.85 V259.04 H514.82 V258.96 H515.92 V258.92 H517.47 V258.86 H519.58 V258.77 H521.20 V258.70 H523.35 V258.62 H524.34 V258.58 H526.53 V258.49 H527.35 V258.45 H528.04 V258.43" fill="none" stroke="#3d7dba" stroke-width="2.3" stroke-linejoin="round"/>
<path d="M432.00,265.30v3.8M436.36,265.24v3.8M438.13,265.20v3.8M439.90,265.17v3.8M442.76,265.13v3.8M446.04,265.08v3.8M450.74,265.03v3.8M452.84,265.00v3.8M455.56,264.96v3.8M457.26,264.93v3.8M459.83,264.90v3.8M462.03,264.85v3.8M466.42,264.80v3.8M467.66,264.77v3.8M470.81,264.73v3.8M474.24,264.69v3.8M478.11,264.63v3.8M480.14,264.24v3.8M481.70,263.52v3.8M484.42,262.31v3.8M489.12,260.73v3.8M493.37,259.56v3.8M497.78,258.97v3.8M502.34,258.22v3.8M506.08,257.79v3.8M508.96,257.53v3.8M513.51,257.14v3.8M516.83,257.02v3.8M519.51,256.96v3.8M521.47,256.80v3.8M524.56,256.68v3.8" stroke="#3d7dba" stroke-width="0.9" fill="none"/>
<path d="M430.50,267.20 H431.49 V266.90 H433.25 V266.37 H434.94 V265.87 H436.39 V265.43 H437.46 V265.11 H439.38 V264.47 H441.32 V263.83 H442.82 V263.34 H444.31 V262.84 H445.41 V262.48 H446.16 V262.24 H447.45 V261.81 H449.06 V261.28 H449.91 V261.00 H451.83 V259.84 H452.91 V258.95 H454.00 V258.06 H454.81 V257.40 H457.03 V254.80 H458.87 V252.64 H460.91 V250.84 H462.57 V249.61 H463.36 V249.01 H464.59 V248.10 H466.08 V246.99 H466.99 V246.31 H469.15 V244.26 H470.44 V242.64 H471.41 V241.41 H473.36 V238.95 H474.29 V237.78 H476.41 V235.46 H477.83 V234.05 H479.39 V232.48 H480.64 V231.23 H482.10 V229.77 H483.12 V228.75 H483.92 V227.95 H485.95 V225.56 H487.04 V223.96 H488.94 V221.17 H490.00 V219.63 H492.18 V216.43 H494.25 V213.39 H496.11 V210.68 H497.99 V207.97 H499.59 V205.65 H501.42 V203.04 H502.34 V202.35 H503.79 V201.26 H505.76 V199.79 H506.80 V199.00 H508.92 V197.42 H510.98 V195.87 H512.33 V194.86 H513.61 V193.90 H515.02 V192.97 H516.34 V192.97 H518.56 V192.97 H519.88 V192.97 H520.66 V192.97 H521.54 V192.97 H523.35 V192.97 H525.57 V190.92 H527.04 V190.92 H528.04 V190.92" fill="none" stroke="#d33d4c" stroke-width="2.5" stroke-linejoin="round"/>
<path d="M432.94,265.00v3.8M436.31,263.97v3.8M440.93,262.57v3.8M442.08,261.93v3.8M445.62,260.58v3.8M450.26,259.10v3.8M452.33,257.94v3.8M453.74,257.05v3.8M456.60,255.50v3.8M457.90,252.90v3.8M459.85,250.74v3.8M463.91,247.11v3.8M467.37,244.41v3.8M470.98,240.74v3.8M473.53,237.05v3.8M476.06,235.88v3.8M477.12,233.56v3.8M479.39,232.15v3.8M482.96,227.87v3.8M484.08,226.05v3.8M488.12,222.06v3.8M492.67,214.53v3.8M495.88,211.49v3.8M498.99,206.07v3.8M501.88,201.14v3.8M506.58,197.89v3.8M511.26,193.97v3.8M513.88,192.00v3.8M516.49,191.07v3.8M520.93,191.07v3.8M523.67,191.07v3.8M525.16,191.07v3.8" stroke="#d33d4c" stroke-width="0.9" fill="none"/>
<text class="b" transform="translate(542.70,164.50)" font-size="16" font-weight="bold">e</text>
<text class="t" transform="translate(626.40,169.40) scale(0.91,1)" font-size="7.7" text-anchor="middle">All-cause mortality</text>
<text class="t" transform="translate(576.60,269.80) scale(0.94,1)" font-size="7.8" text-anchor="end">0.0%</text>
<text class="t" transform="translate(576.60,258.40) scale(0.94,1)" font-size="7.8" text-anchor="end">2.5%</text>
<text class="t" transform="translate(576.60,247.00) scale(0.94,1)" font-size="7.8" text-anchor="end">5.0%</text>
<text class="t" transform="translate(576.60,235.60) scale(0.94,1)" font-size="7.8" text-anchor="end">7.5%</text>
<text class="t" transform="translate(576.60,224.20) scale(0.94,1)" font-size="7.8" text-anchor="end">10.0%</text>
<text class="t" transform="translate(576.60,212.80) scale(0.94,1)" font-size="7.8" text-anchor="end">12.5%</text>
<text class="t" transform="translate(576.60,201.40) scale(0.94,1)" font-size="7.8" text-anchor="end">15.0%</text>
<text class="t" transform="translate(576.60,190.00) scale(0.94,1)" font-size="7.8" text-anchor="end">17.5%</text>
<text class="t" transform="translate(576.60,178.60) scale(0.94,1)" font-size="7.8" text-anchor="end">20.0%</text>
<text class="t" transform="translate(582.30,279.80) scale(0.94,1)" font-size="7.8" text-anchor="middle">0</text>
<text class="t" transform="translate(595.80,279.80) scale(0.94,1)" font-size="7.8" text-anchor="middle">2</text>
<text class="t" transform="translate(609.30,279.80) scale(0.94,1)" font-size="7.8" text-anchor="middle">4</text>
<text class="t" transform="translate(622.80,279.80) scale(0.94,1)" font-size="7.8" text-anchor="middle">6</text>
<text class="t" transform="translate(636.30,279.80) scale(0.94,1)" font-size="7.8" text-anchor="middle">8</text>
<text class="t" transform="translate(649.80,279.80) scale(0.94,1)" font-size="7.8" text-anchor="middle">10</text>
<text class="t" transform="translate(663.30,279.80) scale(0.94,1)" font-size="7.8" text-anchor="middle">12</text>
<path d="M582.30,267.20 H583.16 V267.11 H584.22 V266.99 H585.41 V266.86 H587.49 V266.63 H588.97 V266.47 H590.78 V266.27 H591.67 V266.17 H593.17 V266.01 H595.16 V265.79 H596.68 V265.44 H598.83 V264.78 H600.88 V264.15 H602.17 V263.75 H602.92 V263.52 H604.78 V262.94 H605.71 V262.65 H606.47 V262.42 H608.30 V261.86 H610.29 V261.22 H612.28 V260.57 H614.43 V259.86 H615.48 V259.51 H616.34 V259.23 H617.26 V258.93 H619.46 V258.20 H620.36 V257.91 H621.34 V257.58 H622.12 V257.33 H622.93 V257.04 H623.73 V256.65 H625.00 V256.03 H625.98 V255.55 H627.18 V254.96 H629.31 V253.93 H630.30 V253.44 H632.25 V252.49 H634.09 V251.59 H635.68 V250.82 H637.27 V249.92 H639.16 V248.77 H640.77 V247.79 H641.86 V247.13 H643.09 V246.38 H644.19 V245.71 H645.53 V244.90 H647.74 V243.56 H649.12 V242.72 H649.96 V242.23 H651.41 V241.58 H653.36 V240.71 H654.77 V240.08 H656.55 V239.27 H657.43 V238.88 H658.26 V238.51 H659.99 V237.73 H660.80 V237.37 H661.99 V236.83 H663.31 V236.24 H664.34 V235.80 H665.13 V235.45 H665.89 V235.12 H668.04 V234.18 H669.81 V233.41 H671.96 V232.48 H673.44 V231.84 H675.60 V231.45 H677.62 V231.09 H679.28 V230.80 H679.84 V230.70 L679.84,243.51 V243.57 H679.28 V243.75 H677.62 V243.96 H675.60 V244.19 H673.44 V244.61 H671.96 V245.22 H669.81 V245.73 H668.04 V246.34 H665.89 V246.56 H665.13 V246.79 H664.34 V247.08 H663.31 V247.47 H661.99 V247.82 H660.80 V248.06 H659.99 V248.56 H658.26 V248.81 H657.43 V249.07 H656.55 V249.60 H654.77 V250.01 H653.36 V250.58 H651.41 V251.01 H649.96 V251.34 H649.12 V251.89 H647.74 V252.79 H645.53 V253.33 H644.19 V253.78 H643.09 V254.28 H641.86 V254.72 H640.77 V255.37 H639.16 V256.14 H637.27 V256.73 H635.68 V257.24 H634.09 V257.83 H632.25 V258.46 H630.30 V258.78 H629.31 V259.47 H627.18 V259.85 H625.98 V260.17 H625.00 V260.58 H623.73 V260.84 H622.93 V261.02 H622.12 V261.19 H621.34 V261.39 H620.36 V261.59 H619.46 V262.05 H617.26 V262.25 H616.34 V262.43 H615.48 V262.65 H614.43 V263.11 H612.28 V263.52 H610.29 V263.93 H608.30 V264.29 H606.47 V264.44 H605.71 V264.63 H604.78 V265.00 H602.92 V265.14 H602.17 V265.40 H600.88 V265.80 H598.83 V266.23 H596.68 V266.44 H595.16 V266.56 H593.17 V266.65 H591.67 V266.70 H590.78 V266.81 H588.97 V266.89 H587.49 V267.02 H585.41 V267.09 H584.22 V267.15 H583.16 V267.20 H582.30 Z" fill="#fef4de" opacity="0.85"/>
<path d="M582.30,267.20 H583.89 V267.09 H585.57 V266.98 H587.53 V266.84 H588.68 V266.76 H590.39 V266.65 H592.46 V266.51 H594.55 V266.36 H595.57 V266.29 H597.28 V265.95 H598.94 V265.57 H600.43 V265.24 H602.60 V264.75 H604.13 V264.41 H605.54 V264.10 H607.68 V263.62 H609.37 V263.24 H610.56 V262.90 H611.76 V262.56 H613.24 V262.15 H614.06 V261.91 H615.70 V261.45 H617.54 V260.93 H618.91 V260.54 H620.91 V259.98 H623.03 V259.37 H624.60 V258.87 H626.35 V258.31 H627.27 V258.01 H628.10 V257.75 H630.29 V257.04 H631.46 V256.67 H632.52 V256.33 H634.59 V255.66 H636.45 V255.05 H637.37 V254.65 H638.59 V254.11 H639.70 V253.63 H640.84 V253.13 H641.60 V252.80 H643.12 V252.13 H644.31 V251.61 H645.64 V251.03 H646.66 V250.58 H647.56 V250.19 H648.36 V249.84 H650.39 V248.93 H652.25 V248.05 H653.82 V247.30 H654.75 V246.85 H655.71 V246.40 H656.63 V245.96 H657.84 V245.38 H658.67 V244.99 H659.82 V244.44 H660.87 V243.94 H661.90 V243.45 H663.61 V242.57 H665.03 V241.60 H666.48 V240.61 H667.75 V239.74 H669.29 V238.68 H671.20 V237.38 H672.40 V236.56 H673.25 V235.98 H674.71 V235.74 H676.01 V235.62 H677.91 V235.45 H678.82 V235.37 H679.84 V235.27 L679.84,245.32 V245.37 H678.82 V245.42 H677.91 V245.51 H676.01 V245.58 H674.71 V245.73 H673.25 V246.14 H672.40 V246.73 H671.20 V247.66 H669.29 V248.41 H667.75 V249.03 H666.48 V249.73 H665.03 V250.43 H663.61 V251.05 H661.90 V251.39 H660.87 V251.74 H659.82 V252.13 H658.67 V252.40 H657.84 V252.81 H656.63 V253.12 H655.71 V253.44 H654.75 V253.75 H653.82 V254.27 H652.25 V254.89 H650.39 V255.53 H648.36 V255.78 H647.56 V256.05 H646.66 V256.36 H645.64 V256.77 H644.31 V257.14 H643.12 V257.60 H641.60 V257.83 H640.84 V258.18 H639.70 V258.52 H638.59 V258.89 H637.37 V259.17 H636.45 V259.59 H634.59 V260.05 H632.52 V260.28 H631.46 V260.54 H630.29 V261.02 H628.10 V261.20 H627.27 V261.40 H626.35 V261.79 H624.60 V262.13 H623.03 V262.54 H620.91 V262.93 H618.91 V263.19 H617.54 V263.54 H615.70 V263.85 H614.06 V264.01 H613.24 V264.29 H611.76 V264.52 H610.56 V264.75 H609.37 V265.00 H607.68 V265.32 H605.54 V265.52 H604.13 V265.75 H602.60 V266.07 H600.43 V266.29 H598.94 V266.54 H597.28 V266.76 H595.57 V266.80 H594.55 V266.87 H592.46 V266.93 H590.39 V266.99 H588.68 V267.03 H587.53 V267.09 H585.57 V267.15 H583.89 V267.20 H582.30 Z" fill="#e4ebf4" opacity="0.85"/>
<path d="M582.30,267.20 H583.06 V266.62 H583.97 V265.93 H585.30 V264.92 H587.05 V263.58 H588.00 V262.86 H588.91 V262.16 H590.00 V261.34 H591.87 V259.91 H592.83 V259.24 H594.67 V258.09 H596.40 V257.02 H597.34 V256.43 H598.88 V255.48 H600.29 V254.60 H601.64 V253.76 H603.86 V252.38 H604.74 V251.83 H605.52 V251.31 H607.66 V249.89 H609.00 V249.00 H610.03 V248.32 H611.27 V247.50 H612.55 V246.65 H614.71 V245.21 H615.77 V244.51 H616.83 V243.81 H618.44 V242.72 H620.00 V241.60 H622.16 V240.05 H624.14 V238.62 H625.41 V237.71 H626.46 V236.96 H628.44 V236.24 H630.66 V235.64 H631.44 V234.68 H633.28 V231.67 H635.31 V228.33 H637.02 V226.08 H638.09 V224.76 H640.01 V222.37 H641.84 V220.10 H642.87 V218.82 H644.56 V216.63 H645.63 V214.79 H646.43 V213.41 H647.68 V211.27 H648.91 V209.14 H650.25 V207.17 H651.95 V205.46 H653.93 V203.48 H656.10 V201.31 H658.29 V199.12 H660.51 V196.90 H662.43 V195.13 H663.63 V194.08 H664.63 V193.20 H666.30 V191.73 H667.85 V190.37 H669.60 V188.84 H670.48 V188.06 H671.51 V187.20 H673.62 V185.18 H675.25 V179.00 H677.03 V178.97 H677.91 V178.95 H679.25 V178.92 H679.84 V178.91 L679.84,200.20 V200.19 H679.25 V200.17 H677.91 V200.15 H677.03 V200.11 H675.25 V204.98 H673.62 V206.52 H671.51 V207.18 H670.48 V207.76 H669.60 V208.92 H667.85 V209.96 H666.30 V211.07 H664.63 V211.73 H663.63 V212.53 H662.43 V213.88 H660.51 V215.57 H658.29 V217.24 H656.10 V218.89 H653.93 V220.41 H651.95 V221.70 H650.25 V223.23 H648.91 V224.89 H647.68 V226.55 H646.43 V227.63 H645.63 V229.06 H644.56 V230.74 H642.87 V231.73 H641.84 V233.48 H640.01 V235.32 H638.09 V236.34 H637.02 V238.07 H635.31 V240.67 H633.28 V243.00 H631.44 V243.74 H630.66 V244.14 H628.44 V244.64 H626.46 V245.20 H625.41 V245.89 H624.14 V246.96 H622.16 V248.12 H620.00 V248.95 H618.44 V249.77 H616.83 V250.29 H615.77 V250.81 H614.71 V251.88 H612.55 V252.51 H611.27 V253.12 H610.03 V253.63 H609.00 V254.30 H607.66 V255.35 H605.52 V255.73 H604.74 V256.14 H603.86 V257.17 H601.64 V257.79 H600.29 V258.44 H598.88 V259.14 H597.34 V259.58 H596.40 V260.37 H594.67 V261.22 H592.83 V261.73 H591.87 V262.79 H590.00 V263.42 H588.91 V263.94 H588.00 V264.48 H587.05 V265.49 H585.30 V266.24 H583.97 V266.76 H583.06 V267.20 H582.30 Z" fill="#fbe4e6" opacity="0.85"/>
<path d="M582.30,267.20 H583.16 V267.13 H584.22 V267.04 H585.41 V266.94 H587.49 V266.76 H588.97 V266.64 H590.78 V266.48 H591.67 V266.41 H593.17 V266.28 H595.16 V266.11 H596.68 V265.84 H598.83 V265.29 H600.88 V264.77 H602.17 V264.45 H602.92 V264.26 H604.78 V263.78 H605.71 V263.55 H606.47 V263.36 H608.30 V262.89 H610.29 V262.37 H612.28 V261.84 H614.43 V261.25 H615.48 V260.97 H616.34 V260.74 H617.26 V260.49 H619.46 V259.90 H620.36 V259.65 H621.34 V259.39 H622.12 V259.18 H622.93 V258.94 H623.73 V258.61 H625.00 V258.10 H625.98 V257.70 H627.18 V257.21 H629.31 V256.35 H630.30 V255.95 H632.25 V255.16 H634.09 V254.42 H635.68 V253.77 H637.27 V253.03 H639.16 V252.07 H640.77 V251.25 H641.86 V250.70 H643.09 V250.08 H644.19 V249.52 H645.53 V248.84 H647.74 V247.72 H649.12 V247.03 H649.96 V246.62 H651.41 V246.08 H653.36 V245.36 H654.77 V244.84 H656.55 V244.17 H657.43 V243.85 H658.26 V243.54 H659.99 V242.89 H660.80 V242.59 H661.99 V242.15 H663.31 V241.66 H664.34 V241.29 H665.13 V241.00 H665.89 V240.73 H668.04 V239.96 H669.81 V239.32 H671.96 V238.54 H673.44 V238.01 H675.60 V237.71 H677.62 V237.42 H679.28 V237.18 H679.84 V237.10" fill="none" stroke="#fdd27c" stroke-width="2.6" stroke-linejoin="round"/>
<path d="M585.54,265.04v3.8M587.44,265.04v3.8M591.16,264.58v3.8M595.57,264.21v3.8M599.19,263.39v3.8M600.91,262.87v3.8M605.19,261.88v3.8M609.04,260.99v3.8M610.58,260.47v3.8M611.63,260.47v3.8M613.31,259.94v3.8M614.41,259.94v3.8M618.00,258.59v3.8M620.90,257.75v3.8M625.40,256.20v3.8M627.21,255.31v3.8M629.30,255.31v3.8M630.68,254.05v3.8M635.36,252.52v3.8M638.02,251.13v3.8M639.55,250.17v3.8M640.76,250.17v3.8M644.70,247.62v3.8M648.22,245.82v3.8M649.72,245.13v3.8M653.04,244.18v3.8M656.29,242.94v3.8M658.45,241.64v3.8M662.49,240.25v3.8M665.98,238.83v3.8M670.69,237.42v3.8M673.60,236.11v3.8M677.84,235.52v3.8" stroke="#fdd27c" stroke-width="0.9" fill="none"/>
<path d="M582.30,267.20 H583.89 V267.12 H585.57 V267.03 H587.53 V266.94 H588.68 V266.88 H590.39 V266.79 H592.46 V266.69 H594.55 V266.58 H595.57 V266.53 H597.28 V266.24 H598.94 V265.93 H600.43 V265.66 H602.60 V265.25 H604.13 V264.97 H605.54 V264.71 H607.68 V264.31 H609.37 V263.99 H610.56 V263.71 H611.76 V263.43 H613.24 V263.08 H614.06 V262.88 H615.70 V262.49 H617.54 V262.06 H618.91 V261.74 H620.91 V261.26 H623.03 V260.75 H624.60 V260.33 H626.35 V259.86 H627.27 V259.61 H628.10 V259.38 H630.29 V258.79 H631.46 V258.48 H632.52 V258.19 H634.59 V257.63 H636.45 V257.11 H637.37 V256.77 H638.59 V256.32 H639.70 V255.91 H640.84 V255.48 H641.60 V255.20 H643.12 V254.63 H644.31 V254.19 H645.64 V253.70 H646.66 V253.32 H647.56 V252.98 H648.36 V252.69 H650.39 V251.91 H652.25 V251.16 H653.82 V250.52 H654.75 V250.15 H655.71 V249.76 H656.63 V249.38 H657.84 V248.89 H658.67 V248.56 H659.82 V248.09 H660.87 V247.67 H661.90 V247.25 H663.61 V246.50 H665.03 V245.67 H666.48 V244.82 H667.75 V244.07 H669.29 V243.17 H671.20 V242.05 H672.40 V241.35 H673.25 V240.85 H674.71 V240.66 H676.01 V240.57 H677.91 V240.43 H678.82 V240.37 H679.84 V240.30" fill="none" stroke="#3d7dba" stroke-width="2.3" stroke-linejoin="round"/>
<path d="M584.41,265.22v3.8M586.29,265.13v3.8M587.60,265.04v3.8M591.79,264.89v3.8M593.81,264.79v3.8M595.86,264.63v3.8M600.37,264.03v3.8M602.94,263.35v3.8M605.81,262.81v3.8M607.27,262.81v3.8M609.29,262.41v3.8M611.65,261.81v3.8M612.93,261.53v3.8M614.80,260.98v3.8M617.47,260.59v3.8M621.47,259.36v3.8M624.91,258.43v3.8M626.57,257.96v3.8M629.87,257.48v3.8M634.54,256.29v3.8M638.11,254.87v3.8M641.34,253.58v3.8M642.61,253.30v3.8M643.89,252.73v3.8M645.55,252.29v3.8M648.28,251.08v3.8M650.62,250.01v3.8M655.19,248.25v3.8M656.80,247.48v3.8M659.87,246.19v3.8M661.85,245.77v3.8M663.63,244.60v3.8M668.32,242.17v3.8M672.27,240.15v3.8M673.32,238.95v3.8M674.40,238.95v3.8M676.65,238.67v3.8M678.43,238.53v3.8" stroke="#3d7dba" stroke-width="0.9" fill="none"/>
<path d="M582.30,267.20 H583.06 V266.70 H583.97 V266.09 H585.30 V265.22 H587.05 V264.05 H588.00 V263.42 H588.91 V262.82 H590.00 V262.10 H591.87 V260.87 H592.83 V260.28 H594.67 V259.29 H596.40 V258.37 H597.34 V257.86 H598.88 V257.03 H600.29 V256.28 H601.64 V255.55 H603.86 V254.36 H604.74 V253.88 H605.52 V253.43 H607.66 V252.21 H609.00 V251.44 H610.03 V250.84 H611.27 V250.13 H612.55 V249.40 H614.71 V248.16 H615.77 V247.55 H616.83 V246.94 H618.44 V245.99 H620.00 V245.03 H622.16 V243.68 H624.14 V242.44 H625.41 V241.65 H626.46 V241.00 H628.44 V240.39 H630.66 V239.90 H631.44 V239.05 H633.28 V236.40 H635.31 V233.46 H637.02 V231.48 H638.09 V230.31 H640.01 V228.21 H641.84 V226.22 H642.87 V225.10 H644.56 V223.18 H645.63 V221.55 H646.43 V220.33 H647.68 V218.45 H648.91 V216.56 H650.25 V214.83 H651.95 V213.34 H653.93 V211.60 H656.10 V209.71 H658.29 V207.79 H660.51 V205.85 H662.43 V204.30 H663.63 V203.38 H664.63 V202.62 H666.30 V201.34 H667.85 V200.15 H669.60 V198.81 H670.48 V198.14 H671.51 V197.38 H673.62 V195.62 H675.25 V190.14 H677.03 V190.14 H677.91 V190.14 H679.25 V190.14 H679.84 V190.14" fill="none" stroke="#d33d4c" stroke-width="2.5" stroke-linejoin="round"/>
<path d="M584.46,264.19v3.8M585.88,263.32v3.8M590.41,260.20v3.8M592.72,258.97v3.8M594.50,258.38v3.8M598.89,255.13v3.8M600.08,255.13v3.8M603.83,253.65v3.8M606.14,251.53v3.8M607.88,250.31v3.8M610.12,248.94v3.8M612.06,248.23v3.8M615.41,246.26v3.8M619.52,244.09v3.8M622.25,241.78v3.8M623.96,241.78v3.8M625.90,239.75v3.8M628.69,238.49v3.8M630.24,238.49v3.8M633.93,234.50v3.8M635.42,231.56v3.8M638.15,228.41v3.8M641.35,226.31v3.8M644.07,223.20v3.8M646.04,219.65v3.8M650.45,212.93v3.8M653.37,211.44v3.8M657.58,207.81v3.8M659.27,205.89v3.8M663.46,202.40v3.8M668.03,198.25v3.8M670.03,196.91v3.8M673.67,193.72v3.8M677.71,188.24v3.8" stroke="#d33d4c" stroke-width="0.9" fill="none"/>
<text class="b" transform="translate(392.70,306.90)" font-size="16" font-weight="bold">f</text>
<text class="t" transform="translate(478.30,312.20) scale(0.91,1)" font-size="7.7" text-anchor="middle">Heart failure</text>
<text class="t" transform="translate(424.40,412.80) scale(0.94,1)" font-size="7.8" text-anchor="end">0.0%</text>
<text class="t" transform="translate(424.40,398.38) scale(0.94,1)" font-size="7.8" text-anchor="end">2.0%</text>
<text class="t" transform="translate(424.40,383.96) scale(0.94,1)" font-size="7.8" text-anchor="end">4.0%</text>
<text class="t" transform="translate(424.40,369.54) scale(0.94,1)" font-size="7.8" text-anchor="end">6.0%</text>
<text class="t" transform="translate(424.40,355.12) scale(0.94,1)" font-size="7.8" text-anchor="end">8.0%</text>
<text class="t" transform="translate(424.40,340.70) scale(0.94,1)" font-size="7.8" text-anchor="end">10.0%</text>
<text class="t" transform="translate(424.40,326.28) scale(0.94,1)" font-size="7.8" text-anchor="end">12.0%</text>
<text class="t" transform="translate(430.50,422.80) scale(0.94,1)" font-size="7.8" text-anchor="middle">0</text>
<text class="t" transform="translate(444.00,422.80) scale(0.94,1)" font-size="7.8" text-anchor="middle">2</text>
<text class="t" transform="translate(457.50,422.80) scale(0.94,1)" font-size="7.8" text-anchor="middle">4</text>
<text class="t" transform="translate(471.00,422.80) scale(0.94,1)" font-size="7.8" text-anchor="middle">6</text>
<text class="t" transform="translate(484.50,422.80) scale(0.94,1)" font-size="7.8" text-anchor="middle">8</text>
<text class="t" transform="translate(498.00,422.80) scale(0.94,1)" font-size="7.8" text-anchor="middle">10</text>
<text class="t" transform="translate(511.50,422.80) scale(0.94,1)" font-size="7.8" text-anchor="middle">12</text>
<text class="t" transform="translate(400.90,366.20) rotate(-90.00) scale(0.91,1)" font-size="7.7" text-anchor="middle">Cumulative hazard</text>
<text class="t" transform="translate(477.75,433.70) scale(0.91,1)" font-size="7.7" text-anchor="middle">Time (years)</text>
<path d="M430.50,410.20 H432.19 V410.04 H432.97 V409.96 H434.12 V409.85 H435.20 V409.74 H437.03 V409.56 H438.78 V409.39 H440.85 V409.19 H441.72 V409.11 H443.09 V408.97 H443.87 V408.90 H444.94 V408.79 H446.44 V408.65 H447.22 V408.57 H448.25 V408.47 H449.96 V408.30 H451.51 V408.15 H452.58 V408.05 H454.20 V407.89 H456.15 V407.70 H456.90 V407.63 H458.84 V407.22 H460.62 V406.76 H461.86 V406.43 H462.84 V406.18 H465.00 V405.62 H466.24 V405.29 H467.12 V405.06 H468.01 V404.83 H470.01 V404.31 H471.65 V403.74 H473.59 V402.79 H475.42 V401.90 H476.96 V401.15 H479.14 V400.08 H480.45 V399.45 H482.01 V398.69 H483.99 V397.71 H485.65 V396.74 H487.67 V395.57 H489.27 V394.64 H491.06 V393.61 H491.87 V393.14 H492.95 V392.51 H494.12 V391.83 H494.98 V391.33 H496.07 V390.70 H496.96 V390.18 H498.12 V389.51 H499.80 V388.53 H501.09 V387.79 H502.38 V386.33 H503.43 V384.97 H504.57 V383.50 H506.71 V380.75 H508.41 V378.56 H510.06 V376.43 H511.06 V375.15 H512.88 V373.26 H513.87 V372.65 H515.17 V371.83 H517.38 V370.44 H519.08 V369.38 H520.65 V368.40 H522.41 V367.29 H524.40 V359.77 H526.29 V359.74 H527.38 V359.72 H528.04 V359.71 L528.04,394.12 V394.11 H527.38 V394.09 H526.29 V394.06 H524.40 V396.73 H522.41 V397.09 H520.65 V397.41 H519.08 V397.76 H517.38 V398.21 H515.17 V398.47 H513.87 V398.67 H512.88 V399.32 H511.06 V399.76 H510.06 V400.49 H508.41 V401.24 H506.71 V402.19 H504.57 V402.69 H503.43 V403.16 H502.38 V403.66 H501.09 V403.90 H499.80 V404.21 H498.12 V404.43 H496.96 V404.60 H496.07 V404.80 H494.98 V404.96 H494.12 V405.18 H492.95 V405.38 H491.87 V405.54 H491.06 V405.87 H489.27 V406.17 H487.67 V406.55 H485.65 V406.86 H483.99 V407.17 H482.01 V407.41 H480.45 V407.61 H479.14 V407.95 H476.96 V408.19 H475.42 V408.47 H473.59 V408.77 H471.65 V408.94 H470.01 V409.08 H468.01 V409.15 H467.12 V409.21 H466.24 V409.30 H465.00 V409.45 H462.84 V409.52 H461.86 V409.61 H460.62 V409.74 H458.84 V409.85 H456.90 V409.86 H456.15 V409.88 H454.20 V409.91 H452.58 V409.92 H451.51 V409.94 H449.96 V409.96 H448.25 V409.98 H447.22 V409.99 H446.44 V410.01 H444.94 V410.02 H443.87 V410.03 H443.09 V410.05 H441.72 V410.06 H440.85 V410.09 H438.78 V410.11 H437.03 V410.14 H435.20 V410.15 H434.12 V410.17 H432.97 V410.18 H432.19 V410.20 H430.50 Z" fill="#fef4de" opacity="0.85"/>
<path d="M430.50,410.20 H431.30 V410.13 H433.08 V409.96 H434.03 V409.87 H435.46 V409.74 H437.20 V409.57 H439.12 V409.39 H440.54 V409.26 H442.02 V409.12 H442.79 V409.05 H444.18 V408.92 H445.47 V408.80 H447.48 V408.61 H449.03 V408.47 H450.90 V408.29 H452.28 V408.16 H453.29 V408.07 H455.29 V407.88 H457.26 V407.70 H458.56 V407.54 H459.44 V407.42 H460.94 V407.22 H462.42 V407.03 H464.31 V406.78 H465.94 V406.56 H467.44 V406.36 H469.03 V406.15 H470.34 V405.98 H471.15 V405.88 H471.98 V405.80 H474.13 V405.60 H476.11 V405.41 H477.30 V405.30 H479.36 V405.11 H480.88 V404.97 H481.77 V404.89 H483.79 V404.70 H485.40 V404.28 H487.52 V403.46 H489.27 V402.78 H490.16 V402.44 H491.82 V401.79 H493.74 V401.05 H495.81 V400.24 H497.05 V399.77 H498.57 V399.17 H500.36 V398.48 H501.35 V398.10 H503.35 V396.53 H505.25 V395.02 H506.07 V394.38 H507.69 V393.09 H508.98 V392.08 H510.00 V391.68 H511.64 V391.65 H513.82 V391.62 H515.38 V391.59 H516.29 V391.58 H517.77 V391.55 H519.67 V391.52 H521.83 V391.49 H523.64 V391.46 H524.44 V391.44 H526.62 V391.41 H528.04 V391.39 L528.04,405.22 V405.20 H526.62 V405.16 H524.44 V405.15 H523.64 V405.12 H521.83 V405.09 H519.67 V405.06 H517.77 V405.03 H516.29 V405.02 H515.38 V404.99 H513.82 V404.96 H511.64 V404.93 H510.00 V405.06 H508.98 V405.42 H507.69 V405.87 H506.07 V406.09 H505.25 V406.62 H503.35 V407.18 H501.35 V407.30 H500.36 V407.52 H498.57 V407.71 H497.05 V407.87 H495.81 V408.13 H493.74 V408.37 H491.82 V408.57 H490.16 V408.68 H489.27 V408.90 H487.52 V409.17 H485.40 V409.29 H483.79 V409.32 H481.77 V409.33 H480.88 V409.35 H479.36 V409.38 H477.30 V409.39 H476.11 V409.42 H474.13 V409.45 H471.98 V409.46 H471.15 V409.48 H470.34 V409.52 H469.03 V409.56 H467.44 V409.60 H465.94 V409.65 H464.31 V409.70 H462.42 V409.74 H460.94 V409.79 H459.44 V409.81 H458.56 V409.84 H457.26 V409.87 H455.29 V409.90 H453.29 V409.91 H452.28 V409.93 H450.90 V409.95 H449.03 V409.97 H447.48 V410.00 H445.47 V410.02 H444.18 V410.04 H442.79 V410.05 H442.02 V410.07 H440.54 V410.08 H439.12 V410.11 H437.20 V410.13 H435.46 V410.15 H434.03 V410.17 H433.08 V410.19 H431.30 V410.20 H430.50 Z" fill="#e4ebf4" opacity="0.85"/>
<path d="M430.50,410.20 H431.81 V409.61 H432.89 V409.13 H433.88 V408.68 H435.98 V407.74 H437.58 V407.02 H439.35 V406.23 H440.91 V405.53 H442.23 V404.94 H444.05 V404.13 H445.65 V403.75 H447.56 V403.29 H449.28 V402.87 H451.27 V402.40 H452.66 V402.06 H453.64 V401.83 H454.60 V401.60 H456.42 V401.16 H457.41 V400.92 H459.12 V400.08 H460.79 V399.25 H461.62 V398.83 H463.53 V397.87 H464.32 V397.48 H466.35 V396.42 H468.34 V394.48 H469.40 V393.45 H471.22 V391.68 H473.05 V389.23 H473.98 V387.45 H475.72 V384.12 H476.65 V382.35 H478.74 V380.54 H480.51 V379.51 H482.71 V378.22 H483.53 V377.73 H484.74 V376.45 H486.41 V374.44 H488.05 V372.46 H489.07 V371.23 H491.13 V368.75 H493.13 V366.28 H494.32 V364.71 H495.28 V363.45 H497.01 V361.18 H498.36 V359.41 H500.08 V357.14 H501.56 V355.06 H502.89 V352.36 H503.66 V350.78 H504.61 V348.86 H506.03 V345.96 H507.85 V341.93 H509.23 V338.07 H511.08 V332.88 H512.62 V329.58 H514.67 V328.64 H516.38 V327.85 H517.61 V327.29 H518.55 V326.86 H519.39 V326.47 H520.20 V326.10 H522.22 V313.96 H524.26 V313.74 H526.12 V313.55 H527.02 V313.45 H528.04 V313.34 L528.04,357.45 V357.46 H527.02 V357.47 H526.12 V357.49 H524.26 V357.52 H522.22 V364.65 H520.20 V364.83 H519.39 V365.02 H518.55 V365.23 H517.61 V365.50 H516.38 V365.88 H514.67 V366.34 H512.62 V368.22 H511.08 V371.22 H509.23 V373.46 H507.85 V375.76 H506.03 V377.42 H504.61 V378.52 H503.66 V379.42 H502.89 V380.97 H501.56 V382.12 H500.08 V383.39 H498.36 V384.38 H497.01 V385.65 H495.28 V386.35 H494.32 V387.22 H493.13 V388.59 H491.13 V389.97 H489.07 V390.64 H488.05 V391.74 H486.41 V392.85 H484.74 V393.56 H483.53 V393.80 H482.71 V394.46 H480.51 V394.99 H478.74 V395.96 H476.65 V396.97 H475.72 V398.86 H473.98 V399.88 H473.05 V401.24 H471.22 V402.20 H469.40 V402.77 H468.34 V403.82 H466.35 V404.34 H464.32 V404.54 H463.53 V405.01 H461.62 V405.22 H460.79 V405.63 H459.12 V406.04 H457.41 V406.14 H456.42 V406.30 H454.60 V406.39 H453.64 V406.48 H452.66 V406.61 H451.27 V406.79 H449.28 V406.95 H447.56 V407.13 H445.65 V407.27 H444.05 V407.66 H442.23 V407.95 H440.91 V408.29 H439.35 V408.67 H437.58 V409.01 H435.98 V409.47 H433.88 V409.68 H432.89 V409.92 H431.81 V410.20 H430.50 Z" fill="#fbe4e6" opacity="0.85"/>
<path d="M430.50,410.20 H432.19 V410.11 H432.97 V410.07 H434.12 V410.01 H435.20 V409.95 H437.03 V409.85 H438.78 V409.76 H440.85 V409.65 H441.72 V409.60 H443.09 V409.53 H443.87 V409.49 H444.94 V409.43 H446.44 V409.35 H447.22 V409.31 H448.25 V409.25 H449.96 V409.16 H451.51 V409.08 H452.58 V409.02 H454.20 V408.93 H456.15 V408.83 H456.90 V408.79 H458.84 V408.54 H460.62 V408.26 H461.86 V408.06 H462.84 V407.90 H465.00 V407.56 H466.24 V407.36 H467.12 V407.22 H468.01 V407.07 H470.01 V406.75 H471.65 V406.39 H473.59 V405.79 H475.42 V405.23 H476.96 V404.75 H479.14 V404.08 H480.45 V403.67 H482.01 V403.19 H483.99 V402.57 H485.65 V401.96 H487.67 V401.21 H489.27 V400.62 H491.06 V399.96 H491.87 V399.66 H492.95 V399.26 H494.12 V398.82 H494.98 V398.50 H496.07 V398.10 H496.96 V397.77 H498.12 V397.34 H499.80 V396.72 H501.09 V396.25 H502.38 V395.30 H503.43 V394.42 H504.57 V393.47 H506.71 V391.69 H508.41 V390.27 H510.06 V388.89 H511.06 V388.06 H512.88 V386.85 H513.87 V386.45 H515.17 V385.93 H517.38 V385.04 H519.08 V384.36 H520.65 V383.73 H522.41 V383.03 H524.40 V378.12 H526.29 V378.12 H527.38 V378.12 H528.04 V378.12" fill="none" stroke="#fdd27c" stroke-width="2.6" stroke-linejoin="round"/>
<path d="M434.18,408.11v3.8M436.24,408.05v3.8M439.88,407.86v3.8M442.08,407.70v3.8M446.51,407.45v3.8M450.00,407.26v3.8M451.29,407.26v3.8M456.00,407.03v3.8M457.90,406.89v3.8M462.30,406.16v3.8M463.52,406.00v3.8M467.52,405.32v3.8M471.29,404.85v3.8M473.25,404.49v3.8M476.94,403.33v3.8M480.93,401.77v3.8M482.77,401.29v3.8M485.62,400.67v3.8M487.32,400.06v3.8M489.74,398.72v3.8M490.94,398.72v3.8M494.49,396.92v3.8M496.71,396.20v3.8M500.83,394.82v3.8M502.85,393.40v3.8M507.32,389.79v3.8M511.79,386.16v3.8M515.76,384.03v3.8M519.87,382.46v3.8M523.69,381.13v3.8M526.80,376.22v3.8" stroke="#fdd27c" stroke-width="0.9" fill="none"/>
<path d="M430.50,410.20 H431.30 V410.16 H433.08 V410.06 H434.03 V410.01 H435.46 V409.94 H437.20 V409.84 H439.12 V409.74 H440.54 V409.66 H442.02 V409.58 H442.79 V409.54 H444.18 V409.47 H445.47 V409.40 H447.48 V409.29 H449.03 V409.21 H450.90 V409.11 H452.28 V409.04 H453.29 V408.98 H455.29 V408.88 H457.26 V408.77 H458.56 V408.67 H459.44 V408.60 H460.94 V408.48 H462.42 V408.36 H464.31 V408.21 H465.94 V408.08 H467.44 V407.96 H469.03 V407.83 H470.34 V407.73 H471.15 V407.67 H471.98 V407.62 H474.13 V407.51 H476.11 V407.40 H477.30 V407.34 H479.36 V407.23 H480.88 V407.15 H481.77 V407.10 H483.79 V406.99 H485.40 V406.73 H487.52 V406.18 H489.27 V405.73 H490.16 V405.51 H491.82 V405.08 H493.74 V404.59 H495.81 V404.06 H497.05 V403.74 H498.57 V403.35 H500.36 V402.89 H501.35 V402.64 H503.35 V401.57 H505.25 V400.56 H506.07 V400.12 H507.69 V399.26 H508.98 V398.57 H510.00 V398.30 H511.64 V398.30 H513.82 V398.30 H515.38 V398.30 H516.29 V398.30 H517.77 V398.30 H519.67 V398.30 H521.83 V398.30 H523.64 V398.30 H524.44 V398.30 H526.62 V398.30 H528.04 V398.30" fill="none" stroke="#3d7dba" stroke-width="2.3" stroke-linejoin="round"/>
<path d="M434.46,408.11v3.8M437.47,407.94v3.8M440.54,407.84v3.8M443.31,407.64v3.8M445.03,407.57v3.8M446.18,407.50v3.8M448.67,407.39v3.8M451.55,407.21v3.8M455.44,406.98v3.8M457.71,406.87v3.8M462.33,406.58v3.8M463.76,406.46v3.8M467.21,406.18v3.8M468.33,406.06v3.8M470.16,405.93v3.8M471.64,405.77v3.8M476.29,405.50v3.8M479.82,405.33v3.8M482.89,405.20v3.8M487.10,404.83v3.8M491.65,403.61v3.8M494.07,402.69v3.8M498.28,401.84v3.8M500.37,400.99v3.8M503.99,399.67v3.8M508.08,397.36v3.8M510.50,396.40v3.8M513.94,396.40v3.8M517.66,396.40v3.8M519.01,396.40v3.8M522.85,396.40v3.8M524.59,396.40v3.8M526.67,396.40v3.8" stroke="#3d7dba" stroke-width="0.9" fill="none"/>
<path d="M430.50,410.20 H431.81 V409.78 H432.89 V409.43 H433.88 V409.12 H435.98 V408.44 H437.58 V407.93 H439.35 V407.36 H440.91 V406.86 H442.23 V406.44 H444.05 V405.87 H445.65 V405.61 H447.56 V405.30 H449.28 V405.03 H451.27 V404.71 H452.66 V404.49 H453.64 V404.33 H454.60 V404.18 H456.42 V403.88 H457.41 V403.73 H459.12 V403.12 H460.79 V402.52 H461.62 V402.22 H463.53 V401.53 H464.32 V401.25 H466.35 V400.49 H468.34 V399.04 H469.40 V398.27 H471.22 V396.96 H473.05 V395.12 H473.98 V393.77 H475.72 V391.26 H476.65 V389.91 H478.74 V388.58 H480.51 V387.82 H482.71 V386.88 H483.53 V386.53 H484.74 V385.58 H486.41 V384.07 H488.05 V382.59 H489.07 V381.67 H491.13 V379.81 H493.13 V377.96 H494.32 V376.78 H495.28 V375.84 H497.01 V374.13 H498.36 V372.80 H500.08 V371.10 H501.56 V369.54 H502.89 V367.49 H503.66 V366.29 H504.61 V364.84 H506.03 V362.64 H507.85 V359.59 H509.23 V356.65 H511.08 V352.71 H512.62 V350.21 H514.67 V349.54 H516.38 V348.97 H517.61 V348.57 H518.55 V348.26 H519.39 V347.98 H520.20 V347.72 H522.22 V338.43 H524.26 V338.31 H526.12 V338.21 H527.02 V338.16 H528.04 V338.10" fill="none" stroke="#d33d4c" stroke-width="2.5" stroke-linejoin="round"/>
<path d="M434.37,407.22v3.8M436.43,406.54v3.8M439.27,406.03v3.8M443.02,404.54v3.8M445.78,403.71v3.8M448.68,403.40v3.8M452.02,402.81v3.8M453.14,402.59v3.8M456.46,401.98v3.8M460.27,401.22v3.8M461.96,400.32v3.8M464.74,399.35v3.8M467.55,398.59v3.8M471.55,395.06v3.8M476.08,389.36v3.8M479.91,386.68v3.8M481.36,385.92v3.8M485.37,383.68v3.8M487.73,382.17v3.8M489.21,379.77v3.8M493.80,376.06v3.8M496.18,373.94v3.8M497.84,372.23v3.8M500.64,369.20v3.8M505.28,362.94v3.8M507.84,360.74v3.8M509.41,354.75v3.8M512.35,350.81v3.8M515.17,347.64v3.8M518.27,346.67v3.8M520.36,345.82v3.8M521.48,345.82v3.8M525.09,336.41v3.8" stroke="#d33d4c" stroke-width="0.9" fill="none"/>
<text class="b" transform="translate(542.70,306.80)" font-size="16" font-weight="bold">g</text>
<text class="t" transform="translate(626.40,312.20) scale(0.91,1)" font-size="7.7" text-anchor="middle">CMD mortality</text>
<text class="t" transform="translate(576.00,412.10) scale(0.94,1)" font-size="7.8" text-anchor="end">0.0%</text>
<text class="t" transform="translate(576.00,397.55) scale(0.94,1)" font-size="7.8" text-anchor="end">1.0%</text>
<text class="t" transform="translate(576.00,383.00) scale(0.94,1)" font-size="7.8" text-anchor="end">2.0%</text>
<text class="t" transform="translate(576.00,368.45) scale(0.94,1)" font-size="7.8" text-anchor="end">3.0%</text>
<text class="t" transform="translate(576.00,353.90) scale(0.94,1)" font-size="7.8" text-anchor="end">4.0%</text>
<text class="t" transform="translate(576.00,339.35) scale(0.94,1)" font-size="7.8" text-anchor="end">5.0%</text>
<text class="t" transform="translate(576.00,324.80) scale(0.94,1)" font-size="7.8" text-anchor="end">6.0%</text>
<text class="t" transform="translate(582.30,422.10) scale(0.94,1)" font-size="7.8" text-anchor="middle">0</text>
<text class="t" transform="translate(595.80,422.10) scale(0.94,1)" font-size="7.8" text-anchor="middle">2</text>
<text class="t" transform="translate(609.30,422.10) scale(0.94,1)" font-size="7.8" text-anchor="middle">4</text>
<text class="t" transform="translate(622.80,422.10) scale(0.94,1)" font-size="7.8" text-anchor="middle">6</text>
<text class="t" transform="translate(636.30,422.10) scale(0.94,1)" font-size="7.8" text-anchor="middle">8</text>
<text class="t" transform="translate(649.80,422.10) scale(0.94,1)" font-size="7.8" text-anchor="middle">10</text>
<text class="t" transform="translate(663.30,422.10) scale(0.94,1)" font-size="7.8" text-anchor="middle">12</text>
<text class="t" transform="translate(629.55,433.00) scale(0.91,1)" font-size="7.7" text-anchor="middle">Time (years)</text>
<path d="M582.30,409.50 H584.50 V409.12 H585.32 V408.98 H587.14 V408.67 H588.60 V408.41 H590.74 V408.04 H592.09 V407.81 H594.20 V407.45 H595.17 V407.28 H597.39 V406.54 H598.75 V406.00 H599.76 V405.59 H601.02 V405.09 H602.70 V404.42 H603.49 V404.10 H604.81 V403.58 H605.57 V403.28 H606.41 V402.94 H607.41 V402.54 H608.50 V402.11 H609.65 V401.52 H611.54 V400.05 H612.90 V398.99 H614.92 V397.43 H617.00 V395.96 H619.07 V394.66 H621.22 V393.32 H622.82 V392.33 H624.55 V391.76 H626.61 V391.10 H628.16 V390.60 H629.11 V390.29 H630.63 V389.80 H632.15 V389.31 H633.16 V388.98 H634.04 V388.70 H635.06 V388.37 H636.84 V387.47 H638.79 V385.66 H640.51 V384.07 H641.88 V382.79 H642.67 V382.07 H643.42 V381.54 H645.13 V380.72 H646.66 V380.00 H648.08 V379.32 H649.08 V378.85 H650.00 V378.47 H651.01 V378.30 H651.95 V378.14 H653.58 V377.86 H654.78 V377.65 H656.34 V377.38 H657.72 V376.61 H659.28 V375.64 H661.13 V374.48 H663.03 V373.29 H663.99 V372.06 H666.16 V368.75 H668.17 V367.93 H670.13 V367.89 H671.55 V367.85 H673.70 V367.81 H675.65 V367.77 H676.75 V367.74 H678.51 V367.70 H679.84 V367.68 L679.84,393.16 V393.13 H678.51 V393.09 H676.75 V393.07 H675.65 V393.03 H673.70 V392.98 H671.55 V392.95 H670.13 V392.91 H668.17 V393.23 H666.16 V394.70 H663.99 V395.24 H663.03 V395.73 H661.13 V396.21 H659.28 V396.61 H657.72 V396.92 H656.34 V397.00 H654.78 V397.06 H653.58 V397.14 H651.95 V397.18 H651.01 V397.23 H650.00 V397.38 H649.08 V397.57 H648.08 V397.83 H646.66 V398.12 H645.13 V398.45 H643.42 V398.67 H642.67 V398.98 H641.88 V399.53 H640.51 V400.21 H638.79 V400.99 H636.84 V401.35 H635.06 V401.47 H634.04 V401.58 H633.16 V401.70 H632.15 V401.88 H630.63 V402.06 H629.11 V402.17 H628.16 V402.36 H626.61 V402.60 H624.55 V402.81 H622.82 V403.22 H621.22 V403.77 H619.07 V404.31 H617.00 V404.92 H614.92 V405.59 H612.90 V406.03 H611.54 V406.66 H609.65 V406.90 H608.50 V407.06 H607.41 V407.21 H606.41 V407.34 H605.57 V407.46 H604.81 V407.66 H603.49 V407.79 H602.70 V408.04 H601.02 V408.24 H599.76 V408.39 H598.75 V408.60 H597.39 V408.88 H595.17 V408.92 H594.20 V409.03 H592.09 V409.09 H590.74 V409.19 H588.60 V409.27 H587.14 V409.35 H585.32 V409.39 H584.50 V409.50 H582.30 Z" fill="#fef4de" opacity="0.85"/>
<path d="M582.30,409.50 H583.96 V409.33 H586.02 V409.12 H587.44 V408.97 H589.24 V408.79 H591.38 V408.57 H592.89 V408.42 H594.72 V408.23 H596.55 V408.04 H598.56 V407.83 H599.36 V407.75 H600.36 V407.65 H602.58 V407.42 H604.43 V407.23 H605.56 V407.12 H607.41 V406.93 H608.40 V406.83 H609.68 V406.69 H611.07 V406.51 H612.16 V406.37 H613.10 V406.24 H614.60 V406.05 H616.30 V405.83 H617.52 V405.67 H619.24 V405.45 H621.44 V405.17 H622.27 V405.06 H623.42 V404.91 H624.30 V404.80 H626.05 V404.57 H627.40 V404.39 H628.80 V404.21 H629.91 V403.88 H631.80 V402.61 H633.67 V401.36 H635.08 V400.42 H637.05 V399.23 H638.13 V398.68 H639.39 V398.04 H641.55 V396.95 H642.63 V396.40 H643.59 V396.09 H644.38 V395.94 H646.12 V395.62 H648.08 V395.26 H648.90 V395.11 H650.35 V394.88 H651.68 V394.71 H652.91 V394.55 H654.01 V394.41 H655.32 V394.24 H656.27 V394.11 H658.38 V393.84 H659.42 V393.71 H660.96 V392.28 H662.65 V390.05 H664.37 V389.18 H665.82 V389.15 H667.34 V389.12 H669.47 V389.07 H670.47 V389.05 H671.51 V389.03 H672.70 V389.00 H674.54 V388.96 H675.92 V388.93 H677.24 V388.90 H678.09 V388.88 H679.02 V388.86 H679.84 V388.85 L679.84,404.18 V404.16 H679.02 V404.14 H678.09 V404.13 H677.24 V404.10 H675.92 V404.07 H674.54 V404.03 H672.70 V404.00 H671.51 V403.98 H670.47 V403.96 H669.47 V403.91 H667.34 V403.88 H665.82 V403.85 H664.37 V404.15 H662.65 V404.99 H660.96 V405.51 H659.42 V405.53 H658.38 V405.58 H656.27 V405.60 H655.32 V405.63 H654.01 V405.65 H652.91 V405.68 H651.68 V405.71 H650.35 V405.76 H648.90 V405.79 H648.08 V405.88 H646.12 V405.95 H644.38 V405.98 H643.59 V406.08 H642.63 V406.27 H641.55 V406.64 H639.39 V406.86 H638.13 V407.04 H637.05 V407.46 H635.08 V407.79 H633.67 V408.24 H631.80 V408.69 H629.91 V408.79 H628.80 V408.82 H627.40 V408.85 H626.05 V408.89 H624.30 V408.90 H623.42 V408.93 H622.27 V408.95 H621.44 V408.99 H619.24 V409.03 H617.52 V409.06 H616.30 V409.09 H614.60 V409.13 H613.10 V409.15 H612.16 V409.17 H611.07 V409.20 H609.68 V409.22 H608.40 V409.23 H607.41 V409.25 H605.56 V409.26 H604.43 V409.28 H602.58 V409.31 H600.36 V409.32 H599.36 V409.32 H598.56 V409.35 H596.55 V409.37 H594.72 V409.39 H592.89 V409.40 H591.38 V409.43 H589.24 V409.44 H587.44 V409.46 H586.02 V409.48 H583.96 V409.50 H582.30 Z" fill="#e4ebf4" opacity="0.85"/>
<path d="M582.30,409.50 H583.40 V409.00 H584.89 V408.32 H585.88 V407.87 H587.84 V406.97 H588.92 V406.48 H590.49 V404.98 H592.60 V402.86 H593.94 V401.53 H596.12 V399.35 H597.95 V397.52 H599.50 V395.96 H601.18 V394.28 H602.79 V392.73 H604.07 V391.80 H606.29 V390.18 H607.63 V389.20 H609.84 V387.23 H611.85 V384.40 H612.63 V383.29 H613.76 V381.71 H615.21 V379.66 H617.16 V377.51 H618.17 V376.64 H619.82 V375.21 H621.11 V374.10 H623.02 V372.45 H625.14 V370.61 H627.01 V368.99 H628.04 V368.10 H629.91 V366.64 H631.31 V366.03 H633.29 V365.16 H634.73 V363.78 H636.82 V359.41 H639.03 V354.79 H641.00 V350.23 H642.97 V345.44 H644.92 V340.68 H646.55 V337.95 H647.55 V336.35 H649.76 V332.81 H651.19 V331.16 H651.95 V330.29 H653.34 V328.71 H654.70 V327.16 H655.74 V325.98 H657.91 V323.51 H658.82 V322.48 H660.90 V320.11 H662.46 V318.33 H663.47 V317.28 H664.74 V316.53 H666.16 V315.69 H667.07 V315.37 H668.95 V315.29 H670.66 V315.20 H672.86 V315.10 H674.83 V315.01 H676.74 V314.92 H678.97 V314.81 H679.84 V314.77 L679.84,353.82 V353.78 H678.97 V353.67 H676.74 V353.58 H674.83 V353.49 H672.86 V353.38 H670.66 V353.30 H668.95 V353.21 H667.07 V353.35 H666.16 V353.80 H664.74 V354.20 H663.47 V354.83 H662.46 V355.89 H660.90 V357.31 H658.82 V357.93 H657.91 V359.41 H655.74 V360.12 H654.70 V361.05 H653.34 V362.00 H651.95 V362.52 H651.19 V363.51 H649.76 V365.70 H647.55 V366.70 H646.55 V368.40 H644.92 V371.43 H642.97 V374.48 H641.00 V377.38 H639.03 V380.29 H636.82 V383.05 H634.73 V383.86 H633.29 V384.29 H631.31 V384.58 H629.91 V385.41 H628.04 V385.93 H627.01 V386.86 H625.14 V387.92 H623.02 V388.88 H621.11 V389.52 H619.82 V390.35 H618.17 V390.85 H617.16 V392.13 H615.21 V393.39 H613.76 V394.36 H612.63 V395.04 H611.85 V396.78 H609.84 V397.92 H607.63 V398.47 H606.29 V399.38 H604.07 V399.90 H602.79 V400.81 H601.18 V401.80 H599.50 V402.72 H597.95 V403.80 H596.12 V405.09 H593.94 V405.87 H592.60 V407.13 H590.49 V408.00 H588.92 V408.25 H587.84 V408.69 H585.88 V408.91 H584.89 V409.25 H583.40 V409.50 H582.30 Z" fill="#fbe4e6" opacity="0.85"/>
<path d="M582.30,409.50 H584.50 V409.26 H585.32 V409.17 H587.14 V408.98 H588.60 V408.82 H590.74 V408.59 H592.09 V408.45 H594.20 V408.22 H595.17 V408.11 H597.39 V407.62 H598.75 V407.25 H599.76 V406.98 H601.02 V406.64 H602.70 V406.19 H603.49 V405.97 H604.81 V405.62 H605.57 V405.41 H606.41 V405.18 H607.41 V404.92 H608.50 V404.62 H609.65 V404.22 H611.54 V403.20 H612.90 V402.47 H614.92 V401.38 H617.00 V400.36 H619.07 V399.47 H621.22 V398.54 H622.82 V397.86 H624.55 V397.48 H626.61 V397.04 H628.16 V396.71 H629.11 V396.50 H630.63 V396.17 H632.15 V395.84 H633.16 V395.63 H634.04 V395.44 H635.06 V395.22 H636.84 V394.60 H638.79 V393.34 H640.51 V392.23 H641.88 V391.34 H642.67 V390.83 H643.42 V390.47 H645.13 V389.91 H646.66 V389.42 H648.08 V388.96 H649.08 V388.64 H650.00 V388.38 H651.01 V388.27 H651.95 V388.17 H653.58 V388.00 H654.78 V387.87 H656.34 V387.70 H657.72 V387.17 H659.28 V386.50 H661.13 V385.70 H663.03 V384.88 H663.99 V384.02 H666.16 V381.68 H668.17 V381.13 H670.13 V381.13 H671.55 V381.13 H673.70 V381.13 H675.65 V381.13 H676.75 V381.13 H678.51 V381.13 H679.84 V381.13" fill="none" stroke="#fdd27c" stroke-width="2.6" stroke-linejoin="round"/>
<path d="M585.48,407.27v3.8M589.92,406.92v3.8M593.76,406.55v3.8M595.84,406.21v3.8M597.57,405.72v3.8M600.02,405.08v3.8M602.48,404.74v3.8M605.54,403.72v3.8M606.66,403.28v3.8M610.51,402.32v3.8M611.57,401.30v3.8M614.23,400.57v3.8M617.46,398.46v3.8M619.53,397.57v3.8M621.99,396.64v3.8M625.75,395.58v3.8M628.96,394.81v3.8M630.77,394.27v3.8M634.20,393.54v3.8M638.33,392.70v3.8M642.26,389.44v3.8M644.46,388.57v3.8M645.62,388.01v3.8M647.19,387.52v3.8M649.44,386.74v3.8M652.44,386.27v3.8M654.34,386.10v3.8M658.29,385.27v3.8M661.45,383.80v3.8M666.09,382.12v3.8M667.58,379.78v3.8M671.45,379.23v3.8M673.01,379.23v3.8M674.05,379.23v3.8M676.39,379.23v3.8" stroke="#fdd27c" stroke-width="0.9" fill="none"/>
<path d="M582.30,409.50 H583.96 V409.41 H586.02 V409.30 H587.44 V409.22 H589.24 V409.13 H591.38 V409.01 H592.89 V408.93 H594.72 V408.83 H596.55 V408.73 H598.56 V408.62 H599.36 V408.58 H600.36 V408.53 H602.58 V408.41 H604.43 V408.31 H605.56 V408.25 H607.41 V408.15 H608.40 V408.09 H609.68 V408.02 H611.07 V407.92 H612.16 V407.84 H613.10 V407.77 H614.60 V407.66 H616.30 V407.54 H617.52 V407.45 H619.24 V407.33 H621.44 V407.17 H622.27 V407.11 H623.42 V407.03 H624.30 V406.97 H626.05 V406.84 H627.40 V406.74 H628.80 V406.64 H629.91 V406.44 H631.80 V405.62 H633.67 V404.81 H635.08 V404.21 H637.05 V403.44 H638.13 V403.09 H639.39 V402.68 H641.55 V401.98 H642.63 V401.63 H643.59 V401.44 H644.38 V401.35 H646.12 V401.17 H648.08 V400.96 H648.90 V400.87 H650.35 V400.73 H651.68 V400.63 H652.91 V400.55 H654.01 V400.47 H655.32 V400.37 H656.27 V400.31 H658.38 V400.15 H659.42 V400.08 H660.96 V399.15 H662.65 V397.69 H664.37 V397.13 H665.82 V397.13 H667.34 V397.13 H669.47 V397.13 H670.47 V397.13 H671.51 V397.13 H672.70 V397.13 H674.54 V397.13 H675.92 V397.13 H677.24 V397.13 H678.09 V397.13 H679.02 V397.13 H679.84 V397.13" fill="none" stroke="#3d7dba" stroke-width="2.3" stroke-linejoin="round"/>
<path d="M583.97,407.51v3.8M588.62,407.32v3.8M592.40,407.11v3.8M594.31,407.03v3.8M597.29,406.83v3.8M600.95,406.63v3.8M603.69,406.51v3.8M606.91,406.35v3.8M610.70,406.12v3.8M613.32,405.87v3.8M617.82,405.55v3.8M619.94,405.43v3.8M622.33,405.21v3.8M623.85,405.13v3.8M625.99,405.07v3.8M629.74,404.74v3.8M631.54,404.54v3.8M633.12,403.72v3.8M635.52,402.31v3.8M639.49,400.78v3.8M641.59,400.08v3.8M644.72,399.45v3.8M648.50,399.06v3.8M650.31,398.97v3.8M651.49,398.83v3.8M653.51,398.65v3.8M656.65,398.41v3.8M658.59,398.25v3.8M660.19,398.18v3.8M664.20,395.79v3.8M668.57,395.23v3.8M672.53,395.23v3.8M676.21,395.23v3.8M677.95,395.23v3.8M679.09,395.23v3.8" stroke="#3d7dba" stroke-width="0.9" fill="none"/>
<path d="M582.30,409.50 H583.40 V409.14 H584.89 V408.66 H585.88 V408.34 H587.84 V407.71 H588.92 V407.36 H590.49 V406.23 H592.60 V404.64 H593.94 V403.63 H596.12 V401.99 H597.95 V400.61 H599.50 V399.43 H601.18 V398.17 H602.79 V397.00 H604.07 V396.31 H606.29 V395.12 H607.63 V394.39 H609.84 V392.92 H611.85 V390.75 H612.63 V389.91 H613.76 V388.69 H615.21 V387.13 H617.16 V385.50 H618.17 V384.85 H619.82 V383.78 H621.11 V382.95 H623.02 V381.71 H625.14 V380.34 H627.01 V379.13 H628.04 V378.46 H629.91 V377.38 H631.31 V376.95 H633.29 V376.34 H634.73 V375.29 H636.82 V371.92 H639.03 V368.35 H641.00 V364.81 H642.97 V361.10 H644.92 V357.40 H646.55 V355.31 H647.55 V354.07 H649.76 V351.36 H651.19 V350.10 H651.95 V349.44 H653.34 V348.25 H654.70 V347.08 H655.74 V346.18 H657.91 V344.31 H658.82 V343.52 H660.90 V341.73 H662.46 V340.38 H663.47 V339.59 H664.74 V339.04 H666.16 V338.43 H667.07 V338.21 H668.95 V338.21 H670.66 V338.21 H672.86 V338.21 H674.83 V338.21 H676.74 V338.21 H678.97 V338.21 H679.84 V338.21" fill="none" stroke="#d33d4c" stroke-width="2.5" stroke-linejoin="round"/>
<path d="M585.71,406.76v3.8M587.62,406.44v3.8M590.08,405.46v3.8M592.25,404.33v3.8M593.96,401.73v3.8M595.33,401.73v3.8M596.88,400.09v3.8M600.45,397.53v3.8M602.29,396.27v3.8M604.96,394.41v3.8M608.99,392.49v3.8M610.61,391.02v3.8M613.58,388.01v3.8M616.78,385.23v3.8M618.31,382.95v3.8M619.58,382.95v3.8M622.19,381.05v3.8M623.89,379.81v3.8M625.64,378.44v3.8M630.30,375.48v3.8M631.70,375.05v3.8M635.71,373.39v3.8M638.57,370.02v3.8M643.01,359.20v3.8M645.17,355.50v3.8M649.49,352.17v3.8M651.70,348.20v3.8M654.38,346.35v3.8M657.87,344.28v3.8M660.77,341.62v3.8M663.17,338.48v3.8M665.14,337.14v3.8M666.46,336.53v3.8M667.63,336.31v3.8M670.75,336.31v3.8M673.36,336.31v3.8M676.50,336.31v3.8" stroke="#d33d4c" stroke-width="0.9" fill="none"/>
<line x1="474.7" y1="447" x2="485.7" y2="447" stroke="#d33d4c" stroke-width="1.6"/>
<line x1="480.2" y1="443.5" x2="480.2" y2="450.5" stroke="#d33d4c" stroke-width="1.2"/>
<text class="t" transform="translate(489.50,449.60) scale(0.91,1)" font-size="7.7">High risk</text>
<line x1="521.8" y1="447" x2="532.8" y2="447" stroke="#fdd27c" stroke-width="1.6"/>
<line x1="527.3" y1="443.5" x2="527.3" y2="450.5" stroke="#fdd27c" stroke-width="1.2"/>
<text class="t" transform="translate(536.50,449.60) scale(0.91,1)" font-size="7.7">Middle risk</text>
<line x1="576.7" y1="447" x2="587.7" y2="447" stroke="#3d7dba" stroke-width="1.6"/>
<line x1="582.2" y1="443.5" x2="582.2" y2="450.5" stroke="#3d7dba" stroke-width="1.2"/>
<text class="t" transform="translate(590.80,449.60) scale(0.91,1)" font-size="7.7">Low risk</text>
</svg>
</body></html>
